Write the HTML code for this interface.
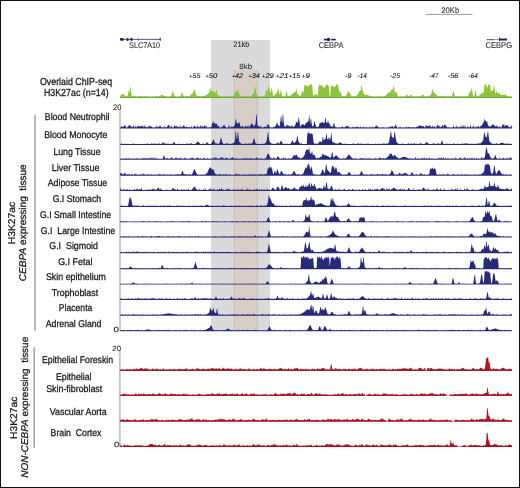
<!DOCTYPE html>
<html><head><meta charset="utf-8"><style>
html,body{margin:0;padding:0;background:#fff;}
.f{position:relative;width:518px;height:486px;border:1px solid #111;overflow:hidden;background:#fff;font-family:"Liberation Sans",sans-serif;}
.f svg{position:absolute;left:-1px;top:-1px;will-change:transform;}
</style></head><body><div class="f">
<svg width="520" height="488" viewBox="0 0 520 488">
<rect x="211" y="40" width="59" height="291" fill="#dadadd"/>
<rect x="234" y="70" width="23.6" height="261" fill="#d7cec8"/>
<line x1="234.3" y1="70" x2="234.3" y2="331" stroke="#bfb0a6" stroke-width="0.6"/>
<line x1="257.4" y1="70" x2="257.4" y2="331" stroke="#bfb0a6" stroke-width="0.6"/>
<line x1="120" y1="110.3" x2="120" y2="331.5" stroke="#aaaaaa" stroke-width="1.2"/>
<line x1="119.9" y1="351" x2="119.9" y2="447" stroke="#aaaaaa" stroke-width="1.2"/>
<line x1="35" y1="115.2" x2="35" y2="330.8" stroke="#9a9a9a" stroke-width="1.4"/>
<line x1="34.2" y1="347.3" x2="34.2" y2="447.7" stroke="#9a9a9a" stroke-width="1.4"/>
<path d="M120.2 98.0L120.2 95.5L120.7 95.3L121.2 94.7L121.7 94.3L122.2 94.3L122.7 94.7L123.2 94.2L123.7 93.9L124.2 94.1L124.7 95.5L125.2 95.6L125.7 96.4L126.2 95.9L126.7 96.4L127.2 96.1L127.7 95.6L128.2 93.0L128.7 89.6L129.2 91.2L129.7 92.3L130.2 86.5L130.7 88.0L131.2 92.9L131.7 95.8L132.2 96.1L132.7 96.4L133.2 96.3L133.7 96.3L134.2 95.8L134.7 96.1L135.2 96.4L135.7 95.6L136.2 96.4L136.7 96.4L137.2 96.1L137.7 96.4L138.2 96.3L138.7 96.4L139.2 96.2L139.7 96.0L140.2 96.3L140.7 95.8L141.2 96.4L141.7 96.1L142.2 96.3L142.7 96.3L143.2 96.4L143.7 95.9L144.2 95.7L144.7 96.4L145.2 96.2L145.7 96.4L146.2 96.1L146.7 96.2L147.2 95.6L147.7 96.0L148.2 96.4L148.7 96.4L149.2 96.2L149.7 96.4L151.7 96.4L152.2 96.0L152.7 96.4L153.7 96.4L154.2 95.9L154.7 96.4L155.2 96.4L155.7 96.3L156.2 95.8L156.7 96.0L157.2 95.9L157.7 96.4L158.7 96.4L159.2 95.8L159.7 95.7L160.2 95.9L160.7 95.5L161.2 95.0L161.7 94.9L162.2 94.7L162.7 94.8L163.2 95.3L163.7 95.7L164.2 96.1L164.7 95.8L165.2 96.0L165.7 95.8L166.2 96.0L166.7 96.4L167.7 96.4L168.2 96.2L168.7 96.4L170.2 96.4L170.7 96.3L171.2 95.8L171.7 94.6L172.2 93.1L172.7 91.4L173.2 92.3L173.7 93.8L174.2 95.2L174.7 95.6L175.2 96.4L175.7 96.3L176.2 96.4L177.7 96.4L178.2 95.9L178.7 96.4L179.2 96.4L179.7 95.7L180.2 96.3L180.7 95.7L181.2 94.2L181.7 92.4L182.2 92.7L182.7 94.1L183.2 95.4L183.7 96.0L184.2 96.4L184.7 96.4L185.2 96.0L185.7 95.6L186.2 95.9L186.7 96.0L187.2 96.0L187.7 96.1L188.2 96.3L188.7 96.2L189.2 96.0L189.7 95.9L190.2 95.5L190.7 94.9L191.2 94.4L191.7 93.8L192.2 93.7L192.7 93.3L193.2 92.3L193.7 89.9L194.2 89.0L194.7 90.4L195.2 91.1L195.7 93.5L196.2 95.1L196.7 95.4L197.2 95.7L197.7 96.0L198.2 96.2L198.7 95.7L199.2 96.1L199.7 96.4L200.7 96.4L201.2 95.8L201.7 96.0L202.2 96.3L202.7 95.9L203.2 95.6L203.7 96.0L204.2 95.9L204.7 95.9L205.2 95.5L205.7 95.2L206.2 94.9L206.7 94.8L207.2 94.4L207.7 93.8L208.2 93.4L208.7 92.6L209.2 92.5L209.7 89.7L210.2 87.7L210.7 89.2L211.2 91.7L211.7 91.4L212.2 90.7L212.7 91.2L213.2 91.3L213.7 91.6L214.2 91.7L214.7 92.3L215.2 93.0L215.7 92.3L216.2 89.4L216.7 91.1L217.2 94.2L217.7 94.9L218.2 95.2L218.7 95.4L219.2 95.7L219.7 95.7L220.2 96.0L220.7 95.7L221.2 95.9L221.7 96.3L222.2 96.3L222.7 96.4L224.2 96.4L224.7 96.2L225.2 96.0L225.7 95.8L226.2 96.4L226.7 96.1L227.2 96.2L227.7 96.4L228.2 95.8L228.7 95.6L229.2 96.4L229.7 95.7L230.2 96.4L230.7 96.3L231.2 95.6L231.7 95.9L232.2 96.3L232.7 96.1L233.2 95.9L233.7 95.6L234.2 95.1L234.7 92.3L235.2 90.8L235.7 92.3L236.2 91.9L236.7 91.5L237.2 92.2L237.7 88.3L238.2 89.9L238.7 92.7L239.2 94.4L239.7 94.8L240.2 95.4L240.7 95.9L241.2 96.1L241.7 96.3L242.2 96.4L242.7 95.7L243.2 96.2L243.7 96.0L244.2 96.4L244.7 95.9L245.2 96.4L245.7 95.9L246.2 96.4L246.7 96.4L247.2 96.3L247.7 95.7L248.2 96.4L248.7 96.4L249.2 96.3L249.7 96.4L250.2 96.3L250.7 96.1L251.2 95.9L251.7 95.5L252.2 94.9L252.7 94.2L253.2 93.5L253.7 92.9L254.2 91.5L254.7 87.3L255.2 86.7L255.7 89.0L256.2 92.9L256.7 94.6L257.2 95.2L257.7 95.7L258.2 96.1L258.7 96.2L259.2 96.4L261.2 96.4L261.7 96.1L262.2 96.4L262.7 96.3L263.2 96.2L263.7 95.9L264.2 95.7L264.7 95.2L265.2 94.7L265.7 92.8L266.2 89.9L266.7 90.7L267.2 90.8L267.7 90.5L268.2 87.3L268.7 85.5L269.2 88.3L269.7 90.9L270.2 91.9L270.7 92.6L271.2 89.9L271.7 86.9L272.2 89.7L272.7 94.1L273.2 95.9L273.7 96.1L274.2 95.8L274.7 95.2L275.2 94.6L275.7 93.8L276.2 93.3L276.7 92.7L277.2 92.6L277.7 89.3L278.2 88.5L278.7 91.6L279.2 94.2L279.7 95.1L280.2 92.4L280.7 90.0L281.2 91.9L281.7 94.2L282.2 96.0L282.7 96.2L283.2 96.4L283.7 96.1L284.2 96.4L284.7 96.4L285.2 96.1L285.7 94.8L286.2 91.7L286.7 91.9L287.2 94.1L287.7 96.0L288.2 96.2L288.7 96.2L289.2 96.1L289.7 96.0L290.2 95.8L290.7 95.6L291.2 95.1L291.7 94.6L292.2 94.2L292.7 93.8L293.2 93.0L293.7 92.5L294.2 93.0L294.7 92.1L295.2 92.5L295.7 90.9L296.2 88.0L296.7 91.0L297.2 93.4L297.7 94.0L298.2 94.5L298.7 95.1L299.2 95.4L299.7 95.8L300.2 96.0L300.7 95.4L301.2 94.2L301.7 92.9L302.2 90.9L302.7 90.7L303.2 91.8L303.7 93.8L304.2 85.6L304.7 85.1L305.2 85.3L305.7 85.8L306.2 85.3L306.7 85.6L307.2 85.4L307.7 86.4L308.2 86.0L308.7 86.7L309.2 85.3L309.7 85.0L310.2 84.4L310.7 84.2L311.2 85.3L311.7 83.6L312.2 84.8L312.7 92.7L313.2 96.1L313.7 95.6L314.2 95.6L314.7 94.9L315.2 94.3L315.7 93.9L316.2 94.0L316.7 94.5L317.2 95.4L317.7 96.0L318.2 91.0L318.7 85.9L319.2 85.0L319.7 84.6L320.2 85.4L320.7 85.5L321.2 86.3L321.7 84.2L322.2 85.8L322.7 85.8L323.2 88.1L323.7 88.6L324.2 87.5L324.7 86.7L325.2 87.5L325.7 84.7L326.2 85.1L326.7 85.5L327.2 84.4L327.7 84.0L328.2 86.2L328.7 85.1L329.2 92.3L329.7 96.1L330.2 96.2L330.7 87.2L331.2 86.4L331.7 85.9L332.2 84.9L332.7 86.3L333.2 85.4L333.7 87.2L334.2 86.8L334.7 87.2L335.2 86.2L335.7 86.3L336.2 84.3L336.7 84.3L337.2 85.9L337.7 84.0L338.2 85.7L338.7 89.0L339.2 92.8L339.7 91.1L340.2 91.5L340.7 92.6L341.2 94.1L341.7 95.4L342.2 96.1L342.7 96.3L343.2 96.4L343.7 95.6L344.2 96.4L344.7 96.0L345.2 96.3L345.7 96.0L346.2 95.5L346.7 94.5L347.2 93.4L347.7 91.7L348.2 91.4L348.7 91.2L349.2 92.0L349.7 93.3L350.2 94.1L350.7 95.3L351.2 95.6L351.7 96.2L352.2 96.4L352.7 95.7L353.2 96.1L353.7 96.4L354.2 96.2L354.7 96.3L355.2 96.2L355.7 96.0L356.2 95.9L356.7 95.5L357.2 95.1L357.7 94.5L358.2 93.4L358.7 92.8L359.2 91.9L359.7 90.6L360.2 90.7L360.7 90.0L361.2 85.1L361.7 86.0L362.2 87.9L362.7 91.1L363.2 92.2L363.7 93.6L364.2 94.1L364.7 94.8L365.2 95.4L365.7 95.1L366.2 94.8L366.7 94.9L367.2 94.7L367.7 94.7L368.2 95.2L368.7 95.5L369.2 95.7L369.7 96.0L370.2 96.1L370.7 95.9L371.2 96.0L371.7 96.2L372.2 96.4L373.2 96.4L373.7 96.0L374.2 96.4L374.7 96.4L375.2 96.1L375.7 96.4L376.7 96.4L377.2 96.3L377.7 96.4L378.2 95.6L378.7 95.8L379.2 95.6L379.7 96.4L380.7 96.4L381.2 96.3L381.7 96.1L382.2 96.4L382.7 96.4L383.2 96.3L383.7 96.2L384.2 96.1L384.7 95.9L385.2 95.8L385.7 95.4L386.2 95.0L386.7 94.6L387.2 94.1L387.7 93.2L388.2 93.1L388.7 92.1L389.2 92.4L389.7 91.8L390.2 92.4L390.7 91.7L391.2 89.9L391.7 89.8L392.2 89.8L392.7 90.1L393.2 87.6L393.7 84.9L394.2 86.7L394.7 92.5L395.2 93.0L395.7 91.6L396.2 91.6L396.7 92.6L397.2 94.7L397.7 95.9L398.2 96.2L398.7 96.4L399.7 96.4L400.2 96.0L400.7 96.3L401.2 96.4L402.2 96.4L402.7 96.3L403.2 96.2L403.7 96.4L404.2 96.4L404.7 96.1L405.2 96.3L405.7 96.0L406.2 95.4L406.7 94.8L407.2 94.6L407.7 95.2L408.2 95.8L408.7 96.2L409.2 96.3L409.7 95.8L410.2 95.4L410.7 94.8L411.2 94.9L411.7 95.2L412.2 95.8L412.7 96.2L413.2 96.4L413.7 96.3L414.2 96.4L414.7 96.4L415.2 96.3L415.7 95.7L416.2 96.4L416.7 96.3L417.2 96.0L417.7 95.6L418.2 96.4L418.7 96.4L419.2 95.7L419.7 95.6L420.2 96.3L420.7 96.3L421.2 95.7L421.7 95.6L422.2 95.0L422.7 94.6L423.2 94.7L423.7 94.9L424.2 95.6L424.7 96.0L425.2 96.3L425.7 96.4L426.7 96.4L427.2 96.1L427.7 95.8L428.2 96.3L428.7 96.2L429.2 96.0L429.7 95.7L430.2 95.3L430.7 94.8L431.2 94.3L431.7 92.1L432.2 88.4L432.7 89.7L433.2 92.5L433.7 92.2L434.2 92.7L434.7 93.1L435.2 93.8L435.7 94.4L436.2 94.8L436.7 95.2L437.2 95.6L437.7 96.0L438.2 96.1L438.7 96.3L439.2 96.4L439.7 95.7L440.2 96.4L440.7 95.9L441.2 95.6L441.7 96.1L442.2 96.0L442.7 96.4L443.2 95.6L443.7 96.3L444.2 95.7L444.7 95.8L445.2 96.4L445.7 96.0L446.2 95.7L446.7 96.4L447.2 96.4L447.7 96.1L448.2 96.4L448.7 95.8L449.2 96.4L449.7 96.0L450.2 96.4L450.7 96.3L451.2 95.7L451.7 96.3L452.2 95.5L452.7 93.5L453.2 90.9L453.7 90.6L454.2 94.0L454.7 95.8L455.2 96.3L455.7 96.2L456.2 96.4L456.7 95.9L457.2 96.3L457.7 96.3L458.2 95.8L458.7 96.4L459.2 95.6L459.7 96.2L460.2 96.4L460.7 96.0L461.2 96.4L461.7 95.6L462.2 96.3L462.7 96.4L463.2 96.0L463.7 96.4L464.2 96.4L464.7 96.1L465.2 96.4L465.7 96.0L466.2 96.4L466.7 96.2L467.2 95.6L467.7 96.0L468.2 95.6L468.7 94.8L469.2 93.3L469.7 92.1L470.2 91.6L470.7 90.9L471.2 90.1L471.7 87.4L472.2 89.8L472.7 93.8L473.2 95.9L473.7 96.3L474.2 96.0L474.7 94.4L475.2 91.5L475.7 90.1L476.2 93.7L476.7 95.9L477.2 96.2L477.7 96.3L478.2 96.2L478.7 96.0L479.2 95.5L479.7 94.8L480.2 94.3L480.7 94.0L481.2 93.6L481.7 93.9L482.2 93.0L482.7 91.9L483.2 92.2L483.7 93.6L484.2 87.1L484.7 83.7L485.2 84.2L485.7 84.1L486.2 85.7L486.7 86.6L487.2 87.8L487.7 87.5L488.2 85.0L488.7 84.1L489.2 85.4L489.7 84.9L490.2 84.7L490.7 91.7L491.2 90.6L491.7 90.5L492.2 91.1L492.7 90.6L493.2 89.8L493.7 87.4L494.2 83.9L494.7 88.9L495.2 93.9L495.7 92.5L496.2 91.3L496.7 91.4L497.2 92.7L497.7 93.0L498.2 92.6L498.7 94.2L499.2 92.7L499.7 92.4L500.2 94.2L500.7 95.3L501.2 95.1L501.7 95.0L502.2 94.8L502.7 94.7L503.7 94.7L504.2 95.1L504.7 95.1L505.2 94.1L505.7 94.2L506.2 95.1L506.7 95.9L507.2 96.0L507.7 96.1L508.2 96.2L508.7 96.3L509.2 96.4L510.2 96.4L510.7 96.1L511.2 96.4L511.7 96.4L512.2 95.6L512.0 98.0 Z" fill="#8cc43e"/>
<rect x="120.2" y="97.05" width="391.8" height="0.95" fill="#739f3a"/>
<path d="M120.2 128.5L120.2 127.5L120.7 127.3L121.2 126.2L121.7 126.5L122.2 126.4L122.7 127.3L123.2 126.0L123.7 126.9L124.2 125.9L124.7 124.5L125.2 125.7L125.7 126.2L126.2 127.4L126.7 127.5L127.2 127.4L127.7 126.9L128.2 124.6L128.7 127.2L129.2 124.7L129.7 125.2L130.2 125.3L130.7 126.5L131.2 127.1L131.7 126.2L132.2 127.0L132.7 127.5L133.2 125.7L133.7 125.1L134.2 127.5L134.7 127.3L135.2 126.8L135.7 125.2L136.2 127.5L136.7 127.1L137.2 124.5L137.7 126.9L138.2 126.5L138.7 126.1L139.2 126.8L139.7 125.9L140.2 125.7L140.7 126.6L141.2 126.2L141.7 125.9L142.2 125.3L142.7 126.8L143.2 127.5L143.7 125.7L144.2 125.1L144.7 126.5L145.2 126.2L145.7 127.2L146.2 127.2L146.7 127.0L147.2 127.5L147.7 126.7L148.2 125.5L148.7 127.3L149.2 126.3L149.7 126.1L150.2 126.0L150.7 126.6L151.2 126.8L151.7 126.3L152.2 127.0L152.7 127.4L153.2 127.5L154.2 127.5L154.7 127.2L155.2 126.5L155.7 127.5L156.2 127.4L156.7 124.9L157.2 127.4L157.7 126.5L158.2 126.9L158.7 126.7L159.2 126.6L159.7 125.7L160.2 125.2L160.7 126.5L161.2 127.1L161.7 127.4L162.2 127.5L162.7 126.8L163.2 127.5L163.7 127.5L164.2 124.8L164.7 127.4L165.2 127.1L165.7 127.3L166.2 127.4L166.7 127.2L167.2 126.4L167.7 125.4L168.2 125.1L168.7 124.9L169.2 124.4L169.7 127.4L170.2 127.5L170.7 126.5L171.2 127.5L171.7 124.2L172.2 127.4L172.7 127.5L173.2 127.5L173.7 127.3L174.2 124.9L174.7 126.1L175.2 126.0L175.7 126.6L176.2 126.9L176.7 125.6L177.2 125.8L177.7 127.4L178.2 126.7L178.7 127.3L179.2 126.4L179.7 127.5L180.2 124.5L180.7 127.5L181.2 126.9L181.7 127.4L182.2 126.0L182.7 127.2L183.2 125.3L183.7 125.4L184.2 125.6L184.7 126.4L185.2 127.1L185.7 127.4L186.2 125.7L186.7 127.1L187.2 127.5L187.7 126.9L188.2 126.8L188.7 127.5L189.2 127.0L189.7 127.0L190.2 127.5L190.7 127.5L191.2 125.5L191.7 127.0L192.2 127.5L192.7 127.4L193.2 127.3L193.7 126.5L194.2 125.5L194.7 126.0L195.2 126.0L195.7 126.7L196.2 126.9L196.7 127.5L197.2 127.0L197.7 124.6L198.2 127.5L198.7 126.2L199.2 127.0L199.7 127.5L200.2 124.7L200.7 126.4L201.2 127.4L201.7 125.3L202.2 127.5L202.7 125.8L203.2 125.7L203.7 127.5L204.2 125.1L204.7 126.1L205.2 125.1L205.7 127.5L206.2 126.4L206.7 126.1L207.2 127.4L207.7 127.5L208.2 127.5L208.7 127.2L209.2 127.1L209.7 127.5L210.2 126.8L210.7 127.4L211.2 127.0L211.7 126.0L212.2 123.3L212.7 122.5L213.2 120.8L213.7 123.0L214.2 123.6L214.7 122.6L215.2 123.5L215.7 124.0L216.2 123.9L216.7 123.3L217.2 124.9L217.7 126.5L218.2 126.2L218.7 124.9L219.2 126.5L219.7 127.5L220.2 127.4L220.7 127.5L221.2 127.5L221.7 126.7L222.2 127.1L222.7 126.3L223.2 125.1L223.7 125.7L224.2 125.8L224.7 124.5L225.2 126.6L225.7 127.0L226.2 127.3L226.7 127.4L227.2 127.5L228.2 127.5L228.7 125.2L229.2 124.8L229.7 127.5L230.7 127.5L231.2 125.6L231.7 127.3L232.2 126.7L232.7 127.0L233.2 126.7L233.7 126.2L234.2 125.8L234.7 125.0L235.2 122.4L235.7 118.6L236.2 120.0L236.7 123.1L237.2 122.9L237.7 123.5L238.2 123.4L238.7 122.3L239.2 121.7L239.7 123.5L240.2 125.7L240.7 126.8L241.2 126.9L241.7 125.7L242.2 127.3L242.7 124.8L243.2 127.4L243.7 126.6L244.2 127.0L244.7 127.3L245.2 126.6L245.7 125.3L246.2 126.6L246.7 127.2L247.2 125.5L247.7 126.3L248.2 127.4L248.7 124.4L249.2 127.4L249.7 127.1L250.2 124.6L250.7 125.5L251.2 124.8L251.7 123.4L252.2 123.5L252.7 124.0L253.2 125.2L253.7 126.4L254.2 125.1L254.7 126.0L255.2 124.8L255.7 123.0L256.2 114.3L256.7 115.3L257.2 122.1L257.7 126.1L258.2 126.1L258.7 126.3L259.2 126.6L259.7 127.3L260.2 124.6L260.7 127.5L261.2 127.3L261.7 127.3L262.2 126.5L262.7 127.5L263.2 127.5L263.7 127.3L264.2 126.8L264.7 127.1L265.2 125.4L265.7 127.3L266.2 127.2L266.7 126.6L267.2 125.6L267.7 124.4L268.2 124.1L268.7 124.7L269.2 125.7L269.7 127.1L270.2 127.3L270.7 127.5L271.2 127.4L271.7 127.2L272.2 127.4L272.7 127.4L273.2 126.5L273.7 126.7L274.2 127.5L274.7 127.0L275.2 126.1L275.7 126.0L276.2 124.5L276.7 123.5L277.2 122.5L277.7 124.1L278.2 125.8L278.7 124.9L279.2 126.4L279.7 125.9L280.2 122.5L280.7 117.3L281.2 115.3L281.7 121.6L282.2 122.4L282.7 114.4L283.2 114.0L283.7 122.3L284.2 125.6L284.7 126.5L285.2 127.0L285.7 126.5L286.2 125.7L286.7 124.8L287.2 124.7L287.7 125.5L288.2 126.5L288.7 125.3L289.2 125.9L289.7 125.6L290.2 126.3L290.7 127.0L291.2 126.5L291.7 125.5L292.2 124.9L292.7 126.4L293.2 127.1L293.7 127.0L294.2 126.6L294.7 126.0L295.2 125.1L295.7 123.7L296.2 122.3L296.7 121.8L297.2 122.2L297.7 122.7L298.2 120.2L298.7 116.6L299.2 119.3L299.7 123.6L300.2 126.5L300.7 126.4L301.2 124.3L301.7 125.5L302.2 124.5L302.7 124.1L303.2 123.7L303.7 124.8L304.2 125.5L304.7 124.9L305.2 124.4L305.7 123.5L306.2 122.9L306.7 122.3L307.2 121.6L307.7 122.5L308.2 121.6L308.7 119.8L309.2 113.9L309.7 119.6L310.2 124.0L310.7 119.3L311.2 118.5L311.7 123.5L312.2 125.9L312.7 126.6L313.2 126.2L313.7 124.9L314.2 121.8L314.7 120.9L315.2 124.9L315.7 124.4L316.2 127.2L316.7 126.7L317.2 127.1L317.7 126.9L318.2 126.8L318.7 126.5L319.2 125.0L319.7 122.4L320.2 123.2L320.7 122.8L321.2 123.2L321.7 121.6L322.2 121.6L322.7 122.6L323.2 123.5L323.7 122.3L324.2 123.0L324.7 122.8L325.2 118.2L325.7 117.4L326.2 122.6L326.7 122.6L327.2 123.5L327.7 121.2L328.2 120.2L328.7 123.6L329.2 122.7L329.7 124.4L330.2 125.6L330.7 126.0L331.2 126.5L331.7 126.0L332.2 126.8L332.7 127.0L333.2 125.6L333.7 123.2L334.2 123.1L334.7 125.3L335.2 126.8L335.7 127.4L336.2 126.8L336.7 127.5L337.2 127.4L338.2 127.4L338.7 127.3L339.2 127.2L339.7 127.2L340.2 127.5L341.2 127.5L341.7 126.3L342.2 127.3L342.7 126.2L343.2 127.5L343.7 127.2L344.2 127.4L344.7 127.3L345.2 127.1L345.7 126.6L346.2 126.2L346.7 125.9L347.2 125.6L347.7 126.3L348.2 126.6L348.7 126.6L349.2 127.3L349.7 127.4L350.2 127.2L350.7 127.4L351.2 127.2L351.7 127.5L352.2 127.5L352.7 126.6L353.2 126.8L353.7 127.5L354.2 127.5L354.7 126.8L355.2 127.1L355.7 127.4L356.2 126.8L356.7 126.9L357.2 126.8L357.7 126.6L358.2 126.9L358.7 127.5L359.2 127.2L359.7 127.5L360.2 126.6L360.7 126.8L361.2 127.3L361.7 127.4L362.2 127.2L362.7 127.5L363.2 127.1L363.7 126.4L364.2 127.5L364.7 127.5L365.2 126.9L365.7 127.5L366.2 127.5L366.7 126.9L367.2 127.3L367.7 127.5L368.2 127.4L368.7 127.5L369.2 127.4L369.7 126.2L370.2 127.5L370.7 127.5L371.2 126.6L371.7 127.4L372.2 127.2L372.7 126.7L373.2 127.5L373.7 127.5L374.2 127.3L374.7 127.1L375.2 126.8L375.7 126.1L376.2 125.8L376.7 125.6L377.2 126.0L377.7 126.7L378.2 127.0L378.7 127.2L379.2 127.4L379.7 127.4L380.2 127.5L380.7 127.5L381.2 126.9L381.7 127.5L382.2 127.5L382.7 127.3L383.2 127.5L383.7 126.7L384.2 127.5L385.2 127.5L385.7 127.4L387.2 127.4L387.7 127.5L388.2 127.5L388.7 126.7L389.2 126.8L389.7 127.0L390.2 127.4L390.7 126.4L391.2 126.9L391.7 125.9L392.2 125.8L392.7 126.5L393.2 127.0L393.7 127.4L394.2 126.9L394.7 126.3L395.2 125.2L395.7 124.2L396.2 125.6L396.7 126.8L397.2 127.4L397.7 127.5L398.7 127.5L399.2 127.3L399.7 127.3L400.2 126.3L400.7 127.4L401.2 127.5L401.7 127.5L402.2 127.3L402.7 127.5L403.2 127.5L403.7 127.4L404.2 126.9L404.7 127.5L405.7 127.5L406.2 126.4L406.7 126.9L407.2 127.4L407.7 127.5L408.2 126.4L408.7 127.3L409.2 127.1L409.7 127.2L410.2 127.3L410.7 127.4L411.2 127.0L411.7 127.5L412.2 127.5L412.7 127.1L413.2 127.3L413.7 127.2L414.2 127.1L414.7 127.5L415.7 127.5L416.2 126.7L416.7 126.8L417.2 127.0L417.7 126.8L418.2 126.0L418.7 126.0L419.2 125.4L419.7 125.5L420.2 125.2L420.7 125.7L421.2 126.1L421.7 126.2L422.2 126.6L422.7 125.7L423.2 126.2L423.7 126.1L424.2 127.0L424.7 127.5L425.2 127.2L425.7 124.7L426.2 126.9L426.7 124.6L427.2 126.1L427.7 126.0L428.2 125.9L428.7 126.3L429.2 126.6L429.7 124.2L430.2 126.3L430.7 126.5L431.2 126.2L431.7 127.5L432.2 126.9L432.7 125.1L433.2 126.7L433.7 127.4L434.2 126.4L434.7 125.4L435.2 127.3L435.7 127.5L436.2 127.3L436.7 126.4L437.2 124.7L437.7 125.1L438.2 126.0L438.7 125.4L439.2 125.0L439.7 127.5L440.2 126.4L440.7 127.5L441.2 126.7L441.7 126.2L442.2 124.9L442.7 125.1L443.2 126.7L443.7 126.2L444.2 124.2L444.7 124.9L445.2 124.3L445.7 125.4L446.2 126.1L446.7 126.7L447.2 127.2L447.7 127.4L448.2 127.3L448.7 127.3L449.2 127.5L449.7 127.1L450.2 127.5L450.7 127.4L451.2 127.5L451.7 127.4L452.2 127.5L452.7 127.1L453.2 127.0L453.7 124.8L454.2 127.4L454.7 127.5L455.2 127.4L455.7 126.4L456.2 127.5L456.7 124.7L457.2 127.5L457.7 126.8L458.2 127.5L458.7 127.0L459.2 126.2L459.7 127.2L460.2 127.5L460.7 127.0L461.2 124.3L461.7 127.5L462.2 126.3L462.7 127.1L463.2 124.3L463.7 127.5L464.2 125.6L464.7 127.5L465.2 124.8L465.7 127.5L466.2 127.4L466.7 127.5L467.2 127.5L467.7 125.4L468.2 127.5L468.7 127.0L469.2 126.9L469.7 127.5L470.2 126.2L470.7 124.6L471.2 127.2L471.7 127.5L472.2 127.5L472.7 127.0L473.2 124.6L473.7 126.3L474.2 127.5L474.7 127.5L475.2 126.4L475.7 127.2L476.2 127.4L476.7 125.9L477.2 127.4L477.7 126.2L478.2 126.2L478.7 126.1L479.2 127.4L479.7 127.2L480.2 125.3L480.7 126.8L481.2 126.2L481.7 125.3L482.2 124.7L482.7 123.5L483.2 122.9L483.7 122.0L484.2 120.9L484.7 118.3L485.2 120.6L485.7 121.1L486.2 121.1L486.7 122.4L487.2 121.5L487.7 124.1L488.2 125.6L488.7 126.1L489.2 126.0L489.7 127.0L490.2 126.9L490.7 125.4L491.2 126.1L491.7 125.4L492.2 125.1L492.7 124.3L493.2 124.4L493.7 124.7L494.2 125.1L494.7 125.9L495.2 126.5L495.7 126.6L496.2 125.2L496.7 126.0L497.2 127.4L497.7 125.3L498.2 127.4L498.7 126.4L499.2 127.5L499.7 125.9L500.2 126.3L500.7 127.4L501.2 127.4L501.7 127.1L502.2 125.7L502.7 124.0L503.2 124.3L503.7 125.3L504.2 124.3L504.7 127.3L505.2 124.3L505.7 126.3L506.2 125.5L506.7 125.1L507.2 124.9L507.7 125.4L508.2 126.2L508.7 126.8L509.2 127.2L509.7 127.4L510.2 125.9L510.7 127.5L511.2 127.5L511.7 124.2L512.2 127.5L512.0 128.5 Z" fill="#29297a"/>
<path d="M120.2 145.0L120.2 143.9L120.7 144.0L121.2 143.3L121.7 143.4L122.2 143.9L122.7 143.8L123.2 144.0L124.2 144.0L124.7 143.8L125.2 144.0L125.7 143.3L126.2 144.0L127.2 144.0L127.7 143.7L128.2 144.0L128.7 143.9L129.2 144.0L129.7 143.8L130.2 144.0L132.2 144.0L132.7 143.6L133.2 143.8L133.7 143.8L134.2 143.5L134.7 144.0L136.2 144.0L136.7 143.8L137.2 144.0L137.7 143.9L138.2 143.9L138.7 144.0L139.2 144.0L139.7 143.8L140.2 144.0L140.7 143.9L141.2 144.0L143.2 144.0L143.7 143.8L144.2 143.7L144.7 144.0L145.2 143.8L145.7 143.9L146.2 143.9L146.7 143.5L147.2 144.0L147.7 143.5L148.2 143.8L148.7 143.8L149.2 144.0L150.7 144.0L151.2 143.3L151.7 143.5L152.2 143.6L152.7 144.0L153.2 143.8L153.7 143.7L154.2 143.6L154.7 143.6L155.2 144.0L155.7 144.0L156.2 143.6L156.7 143.7L157.2 143.5L157.7 144.0L158.2 143.5L158.7 144.0L159.2 143.3L159.7 143.5L160.2 144.0L160.7 144.0L161.2 143.9L161.7 143.7L162.2 143.4L162.7 142.3L163.2 142.1L163.7 143.2L164.2 143.7L164.7 143.1L165.2 143.3L165.7 144.0L166.2 144.0L166.7 143.8L167.2 143.3L167.7 144.0L168.2 143.8L168.7 143.4L169.2 143.9L169.7 143.9L170.2 143.5L170.7 144.0L171.2 144.0L171.7 143.8L172.2 143.9L172.7 143.7L173.2 143.0L173.7 142.0L174.2 142.0L174.7 143.0L175.2 143.6L175.7 143.9L176.2 144.0L177.2 144.0L177.7 143.9L178.2 143.8L178.7 143.7L179.2 143.7L179.7 144.0L180.2 143.8L180.7 143.9L181.2 144.0L181.7 143.9L182.2 144.0L182.7 143.7L183.2 143.7L183.7 144.0L184.2 143.9L184.7 143.9L185.2 144.0L186.2 144.0L186.7 143.0L187.2 143.7L187.7 143.9L188.2 143.8L188.7 144.0L189.2 143.7L189.7 143.2L190.2 143.6L190.7 143.9L191.2 143.1L191.7 143.2L192.2 144.0L192.7 144.0L193.2 143.9L193.7 144.0L194.2 143.8L194.7 144.0L195.2 143.6L195.7 143.4L196.2 143.4L196.7 142.8L197.2 141.8L197.7 141.6L198.2 141.7L198.7 142.0L199.2 142.8L199.7 143.3L200.2 143.7L200.7 143.9L201.2 144.0L201.7 144.0L202.2 143.7L202.7 143.8L203.2 143.8L203.7 143.3L204.2 143.9L204.7 144.0L205.2 144.0L205.7 143.8L206.2 143.2L206.7 142.6L207.2 142.1L207.7 143.0L208.2 143.3L208.7 143.9L209.2 143.9L209.7 144.0L210.2 144.0L210.7 143.9L211.2 143.6L211.7 143.0L212.2 141.8L212.7 141.1L213.2 140.1L213.7 139.1L214.2 140.8L214.7 141.9L215.2 143.0L215.7 143.4L216.2 143.3L216.7 143.6L217.2 143.2L217.7 144.0L218.2 144.0L218.7 143.9L219.2 143.3L219.7 142.5L220.2 140.4L220.7 137.8L221.2 137.8L221.7 139.6L222.2 142.0L222.7 143.2L223.2 143.8L224.7 143.8L225.2 143.7L225.7 144.0L226.2 143.6L226.7 143.2L227.2 143.8L227.7 143.1L228.2 143.4L228.7 144.0L229.2 143.8L229.7 144.0L230.2 143.8L230.7 144.0L231.2 143.4L231.7 143.9L232.2 143.2L232.7 143.6L233.2 143.5L233.7 142.8L234.2 142.2L234.7 141.4L235.2 135.9L235.7 130.3L236.2 133.6L236.7 139.0L237.2 138.8L237.7 132.3L238.2 131.7L238.7 137.8L239.2 141.8L239.7 142.3L240.2 142.8L240.7 143.2L241.2 143.6L241.7 143.8L242.2 143.9L242.7 144.0L243.2 144.0L243.7 143.6L244.2 144.0L244.7 143.9L245.2 143.3L245.7 143.9L246.2 143.5L246.7 143.5L247.2 144.0L247.7 144.0L248.2 143.6L248.7 143.4L249.2 143.4L249.7 143.7L250.2 143.9L250.7 143.1L251.2 143.7L251.7 143.6L252.2 143.3L252.7 142.3L253.2 140.6L253.7 138.4L254.2 138.6L254.7 139.4L255.2 142.0L255.7 143.4L256.2 143.8L256.7 143.9L257.2 143.5L257.7 144.0L258.2 144.0L258.7 143.9L259.2 144.0L260.7 144.0L261.2 143.6L261.7 144.0L262.2 143.5L262.7 144.0L263.2 144.0L263.7 143.8L264.2 143.8L264.7 143.5L265.2 143.2L265.7 142.7L266.2 141.6L266.7 140.6L267.2 137.0L267.7 133.3L268.2 131.6L268.7 136.3L269.2 141.0L269.7 141.3L270.2 142.3L270.7 143.2L271.2 143.5L271.7 143.3L272.2 143.4L272.7 144.0L273.2 143.9L273.7 143.2L274.2 144.0L275.2 144.0L275.7 143.7L276.2 143.4L276.7 143.4L277.2 142.6L277.7 142.4L278.2 143.1L278.7 143.7L279.2 143.7L279.7 142.9L280.2 141.6L280.7 141.0L281.2 140.7L281.7 141.8L282.2 142.7L282.7 143.5L283.2 143.9L283.7 144.0L284.2 143.5L284.7 144.0L285.2 143.9L285.7 143.6L286.2 143.8L286.7 144.0L287.2 143.4L287.7 144.0L288.2 144.0L288.7 143.9L289.2 143.7L289.7 144.0L290.2 143.8L290.7 143.7L291.2 143.1L291.7 141.5L292.2 140.5L292.7 140.8L293.2 141.8L293.7 142.9L294.2 143.1L294.7 142.8L295.2 142.1L295.7 141.4L296.2 141.2L296.7 138.7L297.2 134.9L297.7 136.9L298.2 140.7L298.7 141.8L299.2 142.8L299.7 143.3L300.2 143.6L300.7 143.8L301.2 143.1L301.7 143.4L302.2 144.0L302.7 143.9L303.2 144.0L304.2 144.0L304.7 143.7L305.2 143.9L305.7 144.0L306.2 143.9L306.7 144.0L307.2 135.5L307.7 132.8L308.2 133.0L308.7 132.2L309.2 132.3L309.7 133.9L310.2 134.0L310.7 133.7L311.2 133.6L311.7 133.2L312.2 134.1L312.7 134.3L313.2 138.8L313.7 142.9L314.2 143.1L314.7 143.9L315.2 143.6L315.7 143.7L316.2 143.8L316.7 143.7L317.2 143.7L317.7 143.5L318.2 143.5L318.7 142.8L319.2 142.3L319.7 141.4L320.2 141.1L320.7 142.1L321.2 142.3L321.7 141.8L322.2 140.8L322.7 137.3L323.2 136.9L323.7 140.3L324.2 139.9L324.7 139.1L325.2 139.6L325.7 138.3L326.2 134.7L326.7 133.0L327.2 139.4L327.7 138.5L328.2 139.7L328.7 137.3L329.2 137.3L329.7 139.6L330.2 140.1L330.7 137.0L331.2 131.8L331.7 135.5L332.2 141.3L332.7 141.9L333.2 142.1L333.7 142.5L334.2 143.0L334.7 143.0L335.2 143.1L335.7 143.5L336.2 143.4L336.7 143.6L337.2 143.7L337.7 143.5L338.2 143.6L338.7 143.2L339.2 142.7L339.7 142.2L340.2 142.4L340.7 142.7L341.2 143.1L341.7 143.2L342.2 143.8L342.7 143.9L343.2 143.8L343.7 144.0L344.2 143.7L344.7 143.8L345.2 143.9L345.7 143.6L346.2 144.0L346.7 143.7L347.2 144.0L347.7 143.9L348.7 143.9L349.2 144.0L349.7 143.9L350.2 144.0L352.2 144.0L352.7 143.8L353.2 143.4L353.7 143.3L354.2 144.0L355.2 144.0L355.7 143.9L356.2 143.8L356.7 143.9L357.2 143.9L357.7 143.2L358.2 143.3L358.7 143.6L359.2 144.0L359.7 143.7L360.2 144.0L360.7 143.3L361.2 143.8L361.7 143.4L362.2 144.0L362.7 143.8L363.2 144.0L363.7 143.4L364.2 144.0L365.2 144.0L365.7 143.8L366.2 143.9L366.7 143.6L367.2 143.8L367.7 143.7L368.2 143.3L368.7 144.0L370.2 144.0L370.7 143.9L371.2 143.7L371.7 144.0L372.2 143.9L372.7 144.0L374.2 144.0L374.7 143.8L375.2 143.3L375.7 144.0L376.2 143.9L376.7 143.9L377.2 143.8L377.7 144.0L378.2 143.3L378.7 144.0L379.2 143.9L379.7 144.0L380.2 143.9L380.7 143.5L381.2 143.9L381.7 144.0L382.2 143.3L382.7 144.0L383.2 143.3L383.7 143.8L384.2 144.0L384.7 143.2L385.2 143.4L385.7 143.9L386.2 143.5L386.7 143.8L387.2 143.7L387.7 143.5L388.2 143.2L388.7 142.9L389.2 141.2L389.7 137.5L390.2 135.4L390.7 131.2L391.2 131.9L391.7 136.5L392.2 136.9L392.7 137.4L393.2 137.8L393.7 138.2L394.2 133.4L394.7 131.2L395.2 134.5L395.7 137.8L396.2 140.8L396.7 142.2L397.2 142.8L397.7 143.2L398.2 143.6L398.7 143.7L399.2 143.8L399.7 143.9L400.2 144.0L400.7 143.9L401.2 143.6L401.7 143.8L402.2 143.7L402.7 144.0L403.2 143.2L403.7 144.0L404.7 144.0L405.2 143.9L405.7 144.0L406.7 144.0L407.2 143.6L407.7 144.0L408.2 143.8L408.7 143.1L409.2 144.0L409.7 143.8L410.2 143.4L410.7 143.9L411.2 143.3L411.7 144.0L412.2 143.9L412.7 143.6L413.2 143.9L413.7 143.5L414.2 143.1L414.7 143.5L415.2 143.9L415.7 143.7L416.2 143.4L416.7 143.8L417.2 144.0L417.7 144.0L418.2 143.8L418.7 144.0L419.2 144.0L419.7 143.1L420.2 143.9L420.7 143.0L421.2 143.5L421.7 143.6L422.2 144.0L423.7 144.0L424.2 143.9L424.7 143.7L425.2 143.4L425.7 142.8L426.2 142.3L426.7 142.0L427.2 142.5L427.7 143.0L428.2 143.3L428.7 143.7L429.2 143.9L429.7 144.0L430.2 143.8L430.7 143.9L431.2 144.0L431.7 144.0L432.2 143.5L432.7 143.8L433.2 144.0L433.7 143.1L434.2 143.1L434.7 144.0L435.2 144.0L435.7 143.8L436.2 144.0L436.7 144.0L437.2 143.5L437.7 143.3L438.2 143.9L438.7 143.1L439.2 143.9L439.7 143.8L440.2 143.9L440.7 143.6L441.2 142.7L441.7 140.5L442.2 140.3L442.7 142.5L443.2 143.6L443.7 144.0L445.7 144.0L446.2 143.8L446.7 143.3L447.2 144.0L447.7 143.7L448.2 144.0L448.7 144.0L449.2 143.2L449.7 144.0L450.2 143.9L450.7 144.0L452.2 144.0L452.7 143.9L453.2 143.1L453.7 143.8L454.2 143.9L454.7 143.5L455.2 143.9L455.7 143.7L456.2 143.9L456.7 143.6L457.2 144.0L457.7 144.0L458.2 143.7L458.7 143.7L459.2 144.0L459.7 144.0L460.2 143.8L460.7 144.0L461.2 144.0L461.7 143.5L462.7 143.5L463.2 144.0L463.7 143.7L464.2 144.0L464.7 143.1L465.2 143.6L465.7 143.6L466.2 143.4L466.7 143.5L467.2 143.6L467.7 143.2L468.2 144.0L468.7 144.0L469.2 143.7L469.7 144.0L470.2 143.5L470.7 144.0L471.2 143.6L471.7 144.0L472.2 143.9L472.7 143.7L473.2 143.7L473.7 144.0L474.2 144.0L474.7 143.4L475.2 143.6L475.7 143.9L476.2 144.0L476.7 143.7L477.2 143.6L477.7 143.8L478.2 143.1L478.7 143.8L479.2 143.5L479.7 143.6L480.2 143.4L480.7 143.0L481.2 142.7L481.7 142.4L482.2 141.4L482.7 141.3L483.2 140.2L483.7 135.7L484.2 133.4L484.7 131.8L485.2 135.1L485.7 137.1L486.2 137.2L486.7 137.7L487.2 134.4L487.7 131.4L488.2 131.7L488.7 136.4L489.2 139.9L489.7 141.7L490.2 142.3L490.7 142.8L491.2 143.1L491.7 143.4L492.2 143.6L492.7 143.7L493.2 143.8L493.7 143.9L494.2 144.0L494.7 143.4L495.2 143.7L495.7 143.9L496.2 143.0L496.7 143.2L497.2 143.7L497.7 144.0L498.2 143.9L498.7 143.9L499.2 143.7L499.7 143.5L500.2 143.3L500.7 143.2L501.2 143.0L501.7 142.8L502.2 142.8L502.7 142.7L503.2 143.1L503.7 143.2L504.2 143.5L504.7 143.7L505.2 143.8L505.7 143.4L506.2 143.5L506.7 143.5L507.2 144.0L507.7 143.7L508.2 143.5L508.7 143.3L509.2 143.7L509.7 144.0L510.7 144.0L511.2 143.5L511.7 144.0L512.2 144.0L512.0 145.0 Z" fill="#29297a"/>
<path d="M120.2 159.8L120.2 158.8L120.7 158.5L121.2 158.8L121.7 158.3L122.2 158.5L122.7 158.7L123.2 158.5L123.7 158.6L124.2 158.8L124.7 158.6L125.2 158.5L125.7 158.6L126.2 157.7L126.7 158.2L127.2 158.7L127.7 158.8L128.2 158.8L128.7 157.9L129.2 158.3L129.7 158.5L130.2 158.7L130.7 158.6L131.2 158.8L131.7 158.6L132.2 158.8L132.7 158.5L133.2 158.4L133.7 158.4L134.2 158.8L135.2 158.8L135.7 158.3L136.2 158.6L136.7 158.1L137.2 158.7L137.7 158.7L138.2 157.5L138.7 158.8L139.2 158.8L139.7 158.5L140.2 158.4L140.7 158.7L141.2 158.6L141.7 158.7L142.2 158.4L142.7 157.6L143.2 157.9L143.7 158.4L144.2 158.7L144.7 157.3L145.2 158.7L145.7 158.5L146.2 157.7L146.7 158.3L147.2 158.7L147.7 158.2L148.2 158.5L148.7 157.5L149.2 158.5L149.7 158.6L150.2 157.2L150.7 158.6L151.2 158.7L151.7 157.4L152.2 157.3L152.7 158.8L153.2 158.8L153.7 157.7L154.2 157.6L154.7 158.7L155.2 158.8L155.7 158.3L156.2 157.3L156.7 158.8L157.2 158.7L157.7 158.4L158.2 158.8L158.7 158.7L159.2 158.8L159.7 158.7L160.2 158.8L160.7 158.8L161.2 158.7L161.7 158.8L162.2 158.8L162.7 158.5L163.2 157.5L163.7 155.5L164.2 155.4L164.7 156.9L165.2 158.4L165.7 158.7L166.2 158.0L166.7 157.9L167.2 158.7L167.7 157.8L168.2 158.4L168.7 158.8L169.7 158.8L170.2 158.0L170.7 158.7L171.2 157.8L171.7 157.2L172.2 157.5L172.7 158.7L173.2 158.8L174.2 158.8L174.7 158.4L175.2 158.3L175.7 157.4L176.2 158.3L176.7 157.2L177.2 158.4L177.7 158.7L178.2 157.8L178.7 158.8L179.2 158.1L179.7 158.2L180.2 157.7L180.7 158.8L181.2 158.8L181.7 157.3L182.2 158.8L182.7 158.7L183.2 158.5L183.7 158.7L184.2 157.7L184.7 157.3L185.2 158.8L185.7 158.8L186.2 157.5L186.7 158.7L187.2 158.8L188.2 158.8L188.7 158.5L189.2 158.8L189.7 158.6L190.2 157.4L190.7 158.7L191.2 157.3L191.7 158.8L192.2 158.1L192.7 158.1L193.2 157.2L193.7 158.8L194.2 158.6L194.7 158.6L195.2 158.5L195.7 158.7L196.2 158.8L196.7 157.5L197.2 157.7L197.7 158.3L198.2 157.2L198.7 158.6L199.2 158.8L199.7 158.3L200.2 158.8L200.7 158.1L201.2 158.4L201.7 158.8L203.2 158.8L203.7 157.1L204.2 158.8L204.7 157.6L205.2 158.8L205.7 158.8L206.2 158.7L206.7 158.8L207.2 157.2L207.7 158.8L208.2 158.7L208.7 158.8L209.2 158.8L209.7 158.3L210.2 158.8L210.7 158.7L211.2 158.3L211.7 158.8L212.2 158.8L212.7 158.3L213.2 157.0L213.7 158.8L214.2 158.7L214.7 157.0L215.2 157.9L215.7 157.1L216.2 158.6L216.7 157.2L217.2 158.8L217.7 158.7L218.2 157.8L218.7 158.7L219.2 158.7L219.7 158.6L220.2 157.9L220.7 157.2L221.2 156.7L221.7 157.7L222.2 158.3L222.7 157.5L223.2 157.8L223.7 158.4L224.2 158.8L224.7 158.8L225.2 157.7L225.7 157.7L226.2 157.6L226.7 158.8L227.2 158.2L227.7 157.4L228.2 158.8L229.7 158.8L230.2 158.3L230.7 157.9L231.2 157.9L231.7 158.3L232.2 157.1L232.7 157.2L233.2 158.7L233.7 157.4L234.2 158.2L234.7 158.8L235.2 158.5L235.7 158.8L236.2 158.7L236.7 157.9L237.2 158.8L237.7 158.6L238.2 158.7L238.7 158.8L239.2 158.8L239.7 158.6L240.2 158.8L240.7 158.8L241.2 158.7L241.7 158.3L242.2 158.8L242.7 158.0L243.2 158.8L243.7 158.7L244.2 158.7L244.7 157.7L245.2 157.6L245.7 158.2L246.2 158.8L246.7 158.8L247.2 157.9L247.7 158.6L248.2 158.4L248.7 158.2L249.2 158.8L249.7 158.7L250.2 157.3L250.7 158.8L251.2 157.8L251.7 158.8L252.2 158.8L252.7 158.6L253.2 158.8L253.7 158.5L254.2 158.1L254.7 158.8L255.2 158.6L255.7 158.7L256.2 157.5L256.7 157.8L257.2 157.6L257.7 158.2L258.2 158.8L258.7 158.5L259.2 158.6L259.7 158.7L260.2 158.8L260.7 158.4L261.2 157.6L261.7 158.8L262.7 158.8L263.2 158.7L263.7 158.7L264.2 158.8L264.7 158.4L265.2 158.7L265.7 158.0L266.2 157.6L266.7 156.7L267.2 154.4L267.7 154.0L268.2 153.2L268.7 154.2L269.2 155.0L269.7 156.3L270.2 158.1L270.7 158.1L271.2 157.3L271.7 158.8L272.2 158.8L272.7 158.1L273.2 158.7L273.7 157.1L274.2 157.8L274.7 158.6L275.2 158.8L275.7 158.5L276.2 158.5L276.7 158.0L277.2 157.0L277.7 156.6L278.2 156.5L278.7 156.8L279.2 158.0L279.7 158.3L280.2 158.7L280.7 158.7L281.2 158.1L281.7 158.8L282.2 158.8L282.7 158.6L283.2 157.7L283.7 157.2L284.2 158.8L284.7 158.2L285.2 158.8L285.7 157.2L286.2 158.7L286.7 158.8L287.2 158.8L287.7 158.6L288.2 158.8L288.7 158.1L289.2 158.8L289.7 158.2L290.2 158.7L290.7 158.5L291.2 158.4L291.7 158.0L292.2 157.7L292.7 157.0L293.2 156.4L293.7 155.5L294.2 155.0L294.7 154.9L295.2 155.5L295.7 155.4L296.2 155.6L296.7 154.0L297.2 155.4L297.7 157.3L298.2 157.3L298.7 157.6L299.2 157.8L299.7 157.1L300.2 158.7L300.7 158.6L301.2 158.1L301.7 157.4L302.2 158.1L302.7 157.6L303.2 157.3L303.7 156.2L304.2 155.4L304.7 154.7L305.2 153.1L305.7 151.1L306.2 149.5L306.7 150.1L307.2 149.3L307.7 149.8L308.2 150.5L308.7 149.0L309.2 147.2L309.7 152.1L310.2 153.0L310.7 153.9L311.2 154.1L311.7 151.5L312.2 150.9L312.7 154.8L313.2 155.2L313.7 154.6L314.2 154.1L314.7 155.7L315.2 156.4L315.7 157.7L316.2 158.3L316.7 158.4L317.2 157.4L317.7 158.3L318.2 158.2L318.7 158.1L319.2 157.8L319.7 157.5L320.2 157.0L320.7 157.0L321.2 156.5L321.7 156.4L322.2 155.0L322.7 153.1L323.2 154.3L323.7 154.6L324.2 155.0L324.7 155.4L325.2 154.9L325.7 155.5L326.2 155.8L326.7 155.2L327.2 156.0L327.7 156.2L328.2 156.4L328.7 156.8L329.2 156.9L329.7 157.4L330.2 157.5L330.7 157.8L331.2 156.8L331.7 153.5L332.2 151.4L332.7 153.8L333.2 157.1L333.7 157.7L334.2 157.2L334.7 156.6L335.2 155.9L335.7 155.2L336.2 155.5L336.7 155.6L337.2 156.3L337.7 156.6L338.2 157.6L338.7 158.0L339.2 157.7L339.7 158.6L340.2 158.4L340.7 158.6L341.2 158.5L341.7 158.7L342.2 158.8L342.7 158.8L343.2 158.7L343.7 157.0L344.2 158.6L345.2 158.6L345.7 158.1L346.2 158.0L346.7 157.4L347.2 156.6L347.7 156.0L348.2 154.6L348.7 154.3L349.2 155.0L349.7 155.2L350.2 156.0L350.7 156.3L351.2 157.3L351.7 157.5L352.2 158.3L352.7 158.1L353.2 158.7L353.7 158.5L354.2 158.4L354.7 158.8L355.2 157.9L355.7 158.2L356.2 158.8L356.7 158.7L357.2 158.8L357.7 158.7L358.2 158.8L359.2 158.8L359.7 158.2L360.2 158.8L360.7 157.2L361.2 158.8L361.7 157.9L362.2 158.8L362.7 157.7L363.2 158.6L363.7 157.8L364.2 158.7L364.7 158.8L365.2 157.6L365.7 158.8L366.7 158.8L367.2 158.6L367.7 158.1L368.2 158.8L368.7 158.5L369.2 157.8L369.7 158.8L370.2 158.1L370.7 158.8L371.2 158.8L371.7 158.6L372.2 158.7L372.7 158.7L373.2 158.4L373.7 158.8L374.2 158.5L374.7 158.8L375.2 157.3L375.7 158.7L376.2 158.8L376.7 158.6L377.2 158.7L377.7 158.8L378.2 158.1L378.7 158.7L379.2 157.8L379.7 158.1L380.2 157.9L380.7 157.3L381.2 158.8L381.7 158.6L382.2 158.5L382.7 158.5L383.2 158.2L383.7 158.1L384.2 158.4L384.7 158.5L385.2 158.4L385.7 158.2L386.2 157.9L386.7 157.7L387.2 157.4L387.7 156.8L388.2 156.5L388.7 155.8L389.2 155.8L389.7 153.4L390.2 152.7L390.7 154.6L391.2 154.0L391.7 153.6L392.2 155.0L392.7 155.8L393.2 156.7L393.7 155.7L394.2 154.6L394.7 155.1L395.2 155.6L395.7 156.1L396.2 156.5L396.7 157.1L397.2 157.2L397.7 157.9L398.2 158.0L398.7 158.3L399.2 158.4L399.7 158.3L400.2 158.2L400.7 157.9L401.2 157.8L401.7 157.4L402.2 157.4L402.7 156.8L403.2 156.7L403.7 157.0L404.2 156.7L404.7 157.1L405.2 157.2L405.7 157.3L406.2 157.3L406.7 157.4L407.2 158.0L407.7 158.0L408.2 158.1L408.7 158.4L409.2 158.5L409.7 158.6L410.2 158.3L410.7 157.9L411.2 158.8L411.7 158.7L412.2 158.8L412.7 157.7L413.2 158.8L413.7 158.8L414.2 158.7L414.7 158.8L415.2 157.1L415.7 157.4L416.2 158.6L416.7 158.7L417.2 158.7L417.7 157.4L418.2 158.8L418.7 158.8L419.2 158.3L419.7 158.8L420.2 158.6L420.7 158.8L421.2 158.7L421.7 157.4L422.2 158.3L422.7 158.5L423.2 157.8L423.7 158.8L424.2 158.3L424.7 157.2L425.2 158.7L425.7 158.8L426.2 158.5L426.7 157.5L427.2 158.8L427.7 158.8L428.2 158.3L428.7 158.6L429.2 157.1L429.7 158.6L430.2 158.7L430.7 158.8L431.2 158.7L431.7 158.0L432.2 158.1L432.7 158.7L433.2 158.7L433.7 158.5L434.2 158.8L434.7 158.7L435.2 158.8L435.7 158.8L436.2 158.3L436.7 158.8L437.2 158.8L437.7 158.5L438.2 157.7L438.7 158.4L439.2 157.3L439.7 158.8L440.2 158.0L440.7 158.2L441.2 158.3L441.7 157.2L442.2 158.8L442.7 158.8L443.2 157.3L443.7 157.6L444.2 158.8L444.7 158.7L445.2 157.7L445.7 158.5L446.2 158.8L446.7 158.8L447.2 157.8L447.7 158.8L448.2 158.8L448.7 157.9L449.2 158.8L449.7 158.5L450.2 158.8L450.7 158.8L451.2 158.6L451.7 158.0L452.2 158.7L452.7 158.8L453.2 158.3L453.7 158.2L454.2 158.8L454.7 158.4L455.2 158.6L455.7 157.1L456.2 158.5L456.7 158.5L457.2 158.8L457.7 158.7L458.2 158.8L458.7 158.8L459.2 158.6L459.7 157.8L460.2 157.2L460.7 157.8L461.2 158.6L461.7 158.7L462.2 158.3L462.7 158.8L463.2 158.8L463.7 158.2L464.2 157.3L464.7 157.6L465.2 158.4L465.7 158.0L466.2 158.8L466.7 158.8L467.2 157.7L467.7 158.6L468.2 158.8L468.7 158.4L469.2 158.2L469.7 157.6L470.2 158.8L470.7 158.8L471.2 158.6L471.7 157.8L472.2 157.1L472.7 158.8L473.2 158.8L473.7 158.7L474.2 157.4L474.7 158.4L475.2 158.8L475.7 158.5L476.2 158.8L476.7 157.7L477.2 158.7L477.7 158.6L478.2 158.0L478.7 158.6L479.2 158.8L480.2 158.8L480.7 158.7L481.2 157.1L481.7 158.1L482.2 157.2L482.7 158.8L483.2 158.3L483.7 158.0L484.2 158.3L484.7 156.9L485.2 155.0L485.7 150.2L486.2 146.5L486.7 148.5L487.2 149.9L487.7 153.3L488.2 153.3L488.7 152.9L489.2 153.9L489.7 155.6L490.2 156.5L490.7 157.3L491.2 158.2L491.7 158.5L492.2 158.3L492.7 158.7L493.2 157.7L493.7 158.5L494.2 157.9L494.7 156.4L495.2 154.6L495.7 155.7L496.2 157.4L496.7 158.5L497.2 158.6L497.7 158.8L498.2 158.7L498.7 158.8L499.2 158.7L499.7 157.0L500.2 158.8L500.7 158.8L501.2 158.7L501.7 158.7L502.2 158.8L502.7 157.7L503.2 158.0L503.7 157.9L504.2 158.4L504.7 158.6L505.2 158.6L505.7 158.8L506.2 158.8L506.7 157.2L507.2 157.6L507.7 158.8L508.2 158.6L508.7 158.8L509.2 157.9L509.7 157.5L510.2 157.1L510.7 158.8L511.2 157.2L511.7 158.8L512.2 158.1L512.0 159.8 Z" fill="#29297a"/>
<path d="M120.2 175.7L120.2 173.6L120.7 172.7L121.2 172.9L121.7 173.7L122.2 174.3L122.7 173.9L123.2 174.0L123.7 174.3L124.2 173.4L124.7 172.5L125.2 172.9L125.7 174.0L126.2 174.6L126.7 174.6L127.2 174.3L127.7 174.3L128.2 174.6L128.7 174.2L129.2 174.5L129.7 174.1L130.2 174.7L130.7 174.7L131.2 174.5L131.7 173.7L132.2 174.5L132.7 174.6L133.2 174.7L134.2 174.7L134.7 173.6L135.2 173.9L135.7 173.9L136.2 174.6L136.7 174.3L137.2 174.7L137.7 174.6L138.2 174.7L138.7 174.6L139.2 174.7L139.7 174.7L140.2 173.8L140.7 174.7L141.2 174.1L141.7 174.4L142.2 174.7L142.7 174.6L143.2 173.5L143.7 173.6L144.2 174.5L144.7 174.2L145.2 174.3L145.7 174.7L146.2 174.6L146.7 174.5L147.2 174.7L147.7 174.1L148.2 174.6L148.7 174.3L149.2 174.7L149.7 174.6L150.2 174.7L150.7 174.4L151.2 174.0L151.7 174.6L152.2 174.5L152.7 174.5L153.2 174.7L153.7 174.7L154.2 174.5L154.7 174.4L155.2 174.7L155.7 174.6L156.2 174.7L156.7 174.5L157.2 174.4L157.7 174.7L158.2 174.4L158.7 174.0L159.2 174.6L159.7 173.6L160.2 174.7L160.7 173.8L161.2 174.7L161.7 174.7L162.2 174.1L162.7 174.7L163.2 174.5L163.7 174.0L164.2 173.7L164.7 174.4L165.2 174.7L165.7 174.7L166.2 174.5L166.7 174.7L167.2 174.7L167.7 173.9L168.2 174.5L168.7 174.7L169.2 174.6L169.7 174.7L170.2 174.0L170.7 174.7L171.2 174.3L171.7 174.3L172.2 174.7L172.7 174.7L173.2 174.6L173.7 174.7L174.2 174.5L174.7 174.7L175.2 174.2L175.7 174.6L176.2 174.7L176.7 174.2L177.2 173.9L177.7 174.4L178.2 174.6L178.7 174.0L179.2 173.8L179.7 174.7L180.2 174.6L180.7 174.5L181.2 174.0L181.7 172.6L182.2 171.5L182.7 170.6L183.2 172.3L183.7 173.9L184.2 173.8L184.7 174.6L185.2 174.0L185.7 174.2L186.2 174.3L186.7 174.1L187.2 174.7L187.7 174.7L188.2 174.6L188.7 174.2L189.7 174.2L190.2 174.5L190.7 174.6L191.2 174.6L191.7 174.4L192.2 174.0L192.7 172.8L193.2 172.0L193.7 169.9L194.2 169.3L194.7 168.9L195.2 170.4L195.7 171.8L196.2 172.8L196.7 173.7L197.2 174.3L197.7 174.6L198.2 174.7L199.2 174.7L199.7 174.4L200.2 174.7L200.7 174.6L201.2 174.3L201.7 174.7L202.2 174.6L202.7 174.7L203.2 174.7L203.7 174.4L204.2 174.6L204.7 174.6L205.2 174.4L205.7 174.3L206.2 173.6L206.7 173.5L207.2 172.7L207.7 172.3L208.2 170.7L208.7 169.3L209.2 168.5L209.7 167.4L210.2 166.9L210.7 168.2L211.2 168.6L211.7 168.5L212.2 170.4L212.7 168.8L213.2 169.5L213.7 169.3L214.2 171.4L214.7 173.1L215.2 174.1L215.7 173.7L216.2 174.5L216.7 174.6L217.2 174.7L217.7 174.0L218.2 174.4L218.7 174.5L219.2 174.0L219.7 174.6L220.2 173.8L220.7 174.2L221.2 174.7L221.7 174.7L222.2 174.6L222.7 174.6L223.2 174.2L223.7 174.4L224.2 174.3L224.7 174.5L225.2 174.7L225.7 174.3L226.2 173.6L226.7 174.5L227.2 174.3L227.7 174.7L228.2 174.7L228.7 174.6L229.2 174.5L229.7 174.3L230.2 174.6L230.7 174.6L231.2 174.7L234.7 174.7L235.2 174.1L235.7 173.8L236.2 173.5L236.7 174.3L237.2 174.7L237.7 174.7L238.2 173.5L238.7 174.4L239.2 174.0L239.7 174.7L240.7 174.7L241.2 174.6L241.7 174.7L242.2 174.6L242.7 174.7L243.7 174.7L244.2 173.8L244.7 174.4L245.2 174.5L245.7 174.7L246.2 174.6L246.7 174.7L247.2 174.5L247.7 174.7L248.2 174.1L248.7 174.7L249.2 174.3L249.7 174.7L250.2 174.7L250.7 174.2L251.2 174.0L251.7 174.7L252.2 174.7L252.7 173.7L253.2 174.5L253.7 174.7L254.2 173.5L254.7 174.5L255.2 174.7L255.7 174.6L256.2 174.7L256.7 174.5L257.2 174.6L257.7 174.7L258.2 174.3L258.7 174.7L259.2 174.1L259.7 174.3L260.2 173.7L260.7 174.7L261.2 174.0L261.7 174.3L262.2 174.7L262.7 173.8L263.2 174.6L263.7 174.7L264.2 174.7L264.7 173.5L265.2 174.1L265.7 174.5L266.2 173.9L266.7 173.9L267.2 171.4L267.7 168.1L268.2 168.1L268.7 169.3L269.2 167.3L269.7 166.2L270.2 167.6L270.7 167.6L271.2 169.3L271.7 166.2L272.2 168.9L272.7 172.4L273.2 173.7L273.7 174.2L274.2 173.0L274.7 170.6L275.2 171.1L275.7 172.5L276.2 173.4L276.7 171.3L277.2 169.1L277.7 169.8L278.2 171.0L278.7 173.0L279.2 173.6L279.7 174.2L280.2 173.4L280.7 171.6L281.2 171.0L281.7 171.0L282.2 172.0L282.7 173.2L283.2 174.1L283.7 173.7L284.2 174.2L284.7 174.5L285.2 174.5L285.7 173.7L286.2 174.7L286.7 174.6L287.2 174.6L287.7 174.7L288.2 173.9L288.7 174.4L289.2 174.7L289.7 174.2L290.2 174.6L290.7 174.3L291.2 174.6L291.7 174.0L292.2 174.0L292.7 173.2L293.2 171.6L293.7 171.5L294.2 170.5L294.7 171.9L295.2 172.8L295.7 173.7L296.2 174.3L296.7 174.6L297.2 174.1L297.7 174.7L298.2 173.9L298.7 174.0L299.2 174.6L299.7 174.7L300.2 174.6L300.7 174.7L301.2 174.6L301.7 174.5L302.2 174.3L302.7 174.1L303.2 173.4L303.7 172.5L304.2 171.0L304.7 169.8L305.2 168.6L305.7 167.0L306.2 168.1L306.7 168.4L307.2 166.3L307.7 163.9L308.2 165.7L308.7 163.1L309.2 164.5L309.7 167.0L310.2 168.8L310.7 169.6L311.2 166.9L311.7 166.4L312.2 169.4L312.7 172.4L313.2 174.2L313.7 174.5L314.2 173.6L314.7 174.7L315.2 174.5L315.7 174.5L316.2 174.7L316.7 174.2L317.2 174.7L318.2 174.7L318.7 174.4L319.2 174.7L319.7 174.5L320.2 174.4L320.7 173.8L321.2 172.9L321.7 171.5L322.2 169.5L322.7 169.4L323.2 169.9L323.7 171.8L324.2 173.0L324.7 173.1L325.2 170.2L325.7 166.4L326.2 163.5L326.7 165.9L327.2 170.1L327.7 169.8L328.2 170.9L328.7 171.1L329.2 171.4L329.7 172.2L330.2 173.1L330.7 173.1L331.2 170.9L331.7 167.3L332.2 165.6L332.7 165.6L333.2 168.4L333.7 165.9L334.2 166.6L334.7 170.4L335.2 169.0L335.7 167.2L336.2 167.3L336.7 169.1L337.2 171.0L337.7 173.1L338.2 172.2L338.7 171.5L339.2 171.9L339.7 172.2L340.2 173.0L340.7 173.9L341.2 174.3L341.7 174.3L342.2 174.6L342.7 174.7L343.2 174.7L343.7 174.2L344.2 174.6L344.7 174.7L345.2 174.4L345.7 174.3L346.2 174.2L346.7 174.6L347.2 174.4L347.7 173.8L348.2 173.1L348.7 172.2L349.2 171.8L349.7 172.5L350.2 173.6L350.7 173.7L351.2 174.6L351.7 174.7L353.7 174.7L354.2 174.5L354.7 174.7L355.2 174.2L355.7 174.7L357.7 174.7L358.2 174.6L358.7 174.7L359.2 174.6L359.7 174.3L360.2 173.7L360.7 172.2L361.2 171.3L361.7 170.9L362.2 172.1L362.7 173.4L363.2 174.2L363.7 174.6L364.2 173.9L364.7 174.7L365.7 174.7L366.2 174.5L366.7 174.0L367.2 174.4L367.7 174.5L368.2 174.7L368.7 174.7L369.2 174.4L369.7 174.7L370.2 174.7L370.7 174.3L371.2 173.8L371.7 174.0L372.2 174.7L372.7 174.2L373.2 174.6L373.7 174.7L374.2 174.1L374.7 174.6L375.2 174.6L375.7 174.7L376.2 174.5L376.7 174.6L377.2 174.1L377.7 173.8L378.2 174.7L378.7 173.8L379.2 174.7L379.7 174.7L380.2 174.3L380.7 174.1L381.2 174.2L381.7 174.7L382.2 174.3L382.7 173.8L383.2 173.7L383.7 174.7L384.2 174.0L384.7 174.7L385.2 173.9L385.7 174.5L386.2 174.4L386.7 174.2L387.2 174.7L388.2 174.7L388.7 174.3L389.2 174.6L389.7 174.3L390.2 173.7L390.7 172.9L391.2 171.6L391.7 169.7L392.2 170.7L392.7 171.0L393.2 172.4L393.7 173.5L394.2 174.3L394.7 174.5L395.2 174.7L395.7 174.7L396.2 173.7L396.7 174.5L397.2 174.5L397.7 174.7L398.2 174.4L398.7 173.9L399.2 172.9L399.7 172.6L400.2 173.5L400.7 174.2L401.2 174.6L401.7 173.8L402.2 174.0L402.7 173.7L403.7 173.7L404.2 173.2L404.7 172.9L405.2 172.4L405.7 172.7L406.2 173.6L406.7 174.1L407.2 173.8L407.7 174.6L408.2 174.7L409.7 174.7L410.2 174.5L410.7 174.4L411.2 173.5L411.7 172.1L412.2 171.9L412.7 173.2L413.2 174.3L413.7 174.2L414.2 174.4L414.7 174.7L415.2 174.6L415.7 174.7L416.2 173.9L416.7 174.3L417.2 174.7L418.7 174.7L419.2 174.6L419.7 174.4L420.2 174.0L420.7 173.1L421.2 173.2L421.7 173.8L422.2 174.4L422.7 174.6L423.2 174.7L423.7 174.5L424.2 174.0L424.7 174.2L425.2 174.7L426.7 174.7L427.2 174.4L427.7 174.4L428.2 174.6L428.7 174.3L429.2 174.6L429.7 170.4L430.2 168.8L430.7 168.4L431.2 168.2L431.7 169.5L432.2 167.4L432.7 167.8L433.2 169.2L433.7 169.3L434.2 168.9L434.7 167.7L435.2 168.8L435.7 169.4L436.2 173.0L436.7 174.5L437.2 174.6L437.7 174.7L438.2 174.4L438.7 174.7L439.2 174.7L439.7 173.9L440.2 174.6L440.7 174.6L441.2 174.4L441.7 174.6L442.2 174.7L442.7 173.7L443.2 174.4L443.7 174.6L444.2 174.6L444.7 174.5L445.2 174.1L445.7 174.7L446.7 174.7L447.2 173.9L447.7 173.5L448.2 174.1L448.7 174.5L449.2 174.4L449.7 174.4L450.2 174.7L451.7 174.7L452.2 174.6L452.7 173.8L453.2 174.2L453.7 174.7L454.2 174.6L454.7 173.9L455.2 174.5L455.7 174.7L456.2 174.5L456.7 174.7L457.2 174.1L457.7 174.7L458.2 174.7L458.7 174.1L459.2 174.7L459.7 174.6L460.2 174.7L461.2 174.7L461.7 173.6L462.2 174.3L462.7 174.7L463.7 174.7L464.2 174.6L464.7 174.4L465.2 173.8L465.7 174.6L466.2 174.7L466.7 174.7L467.2 174.5L467.7 174.4L468.2 174.1L468.7 174.7L469.7 174.7L470.2 174.6L470.7 174.2L471.2 174.7L472.2 174.7L472.7 174.6L473.2 174.7L473.7 174.4L474.2 174.6L474.7 174.4L475.2 174.7L475.7 174.5L476.2 174.6L476.7 174.4L477.2 174.7L478.2 174.7L478.7 174.5L479.2 173.9L479.7 174.6L480.2 174.5L480.7 174.3L481.2 173.8L481.7 173.9L482.2 173.6L482.7 172.9L483.2 172.7L483.7 171.9L484.2 171.1L484.7 165.9L485.2 164.3L485.7 164.9L486.2 164.3L486.7 164.9L487.2 163.3L487.7 164.8L488.2 163.5L488.7 165.1L489.2 164.6L489.7 165.5L490.2 167.7L490.7 172.0L491.2 173.0L491.7 173.4L492.2 173.7L492.7 174.1L493.2 172.3L493.7 169.1L494.2 165.2L494.7 166.3L495.2 170.0L495.7 172.9L496.2 173.9L496.7 173.3L497.2 172.2L497.7 171.4L498.2 170.8L498.7 170.2L499.2 170.0L499.7 170.4L500.2 171.5L500.7 172.6L501.2 173.0L501.7 173.8L502.2 174.1L502.7 174.3L503.2 174.0L503.7 174.6L504.2 174.2L504.7 174.7L505.2 174.6L505.7 174.5L506.2 174.0L506.7 174.7L507.2 174.7L507.7 174.6L508.2 174.7L509.2 174.7L509.7 174.0L510.2 174.6L510.7 174.7L511.2 174.7L511.7 174.5L512.2 174.6L512.0 175.7 Z" fill="#29297a"/>
<path d="M120.2 191.1L120.2 188.0L120.7 188.6L121.2 189.3L121.7 190.1L122.2 190.1L122.7 189.4L123.2 189.0L123.7 190.1L124.2 190.1L124.7 188.5L125.2 190.1L125.7 189.6L126.2 190.1L126.7 189.6L127.2 188.7L127.7 189.7L128.2 190.0L128.7 190.1L129.2 189.6L129.7 189.6L130.2 190.0L130.7 189.9L131.2 189.8L131.7 190.1L132.2 190.1L132.7 189.8L133.2 190.1L133.7 189.7L134.2 189.0L134.7 188.9L135.2 190.1L135.7 190.0L136.2 188.3L136.7 190.0L137.2 187.8L137.7 190.1L138.2 188.8L138.7 190.1L139.2 189.5L139.7 189.0L140.2 189.8L140.7 189.6L141.2 188.3L141.7 187.7L142.2 190.1L142.7 189.9L143.2 190.1L143.7 190.0L144.2 190.1L144.7 190.1L145.2 189.6L145.7 190.1L146.7 190.1L147.2 188.9L147.7 190.1L148.2 190.1L148.7 189.6L149.2 189.3L149.7 189.6L150.2 189.8L150.7 189.8L151.2 189.3L151.7 190.1L152.2 188.8L152.7 189.4L153.2 188.7L153.7 188.5L154.2 188.8L154.7 189.9L155.2 189.9L155.7 189.3L156.2 189.7L156.7 190.0L157.2 188.3L157.7 188.5L158.2 187.5L158.7 187.8L159.2 189.3L159.7 189.8L160.2 188.0L160.7 189.6L161.2 188.8L161.7 190.1L162.2 189.4L162.7 190.1L163.2 190.1L163.7 190.0L164.2 190.1L166.2 190.1L166.7 189.0L167.2 190.1L168.2 190.1L168.7 189.9L169.2 190.1L169.7 189.8L170.2 190.1L170.7 190.1L171.2 189.9L171.7 190.0L172.2 188.5L172.7 188.5L173.2 187.5L173.7 188.2L174.2 189.1L174.7 189.7L175.2 190.1L175.7 188.4L176.2 190.1L176.7 190.0L177.2 189.1L177.7 188.3L178.2 189.9L178.7 190.1L179.2 189.8L179.7 190.0L180.2 190.1L180.7 190.0L181.2 188.6L181.7 190.1L182.7 190.1L183.2 189.0L183.7 190.1L184.2 189.5L184.7 189.5L185.2 190.1L185.7 190.0L186.2 190.1L186.7 189.0L187.2 189.9L187.7 190.0L188.2 188.9L188.7 188.9L189.2 190.1L190.7 190.1L191.2 190.0L191.7 190.0L192.2 187.9L192.7 189.2L193.2 188.5L193.7 187.5L194.2 186.7L194.7 186.5L195.2 187.2L195.7 188.3L196.2 188.9L196.7 189.2L197.2 189.8L197.7 190.1L198.7 190.1L199.2 188.2L199.7 190.1L200.2 189.4L200.7 190.1L201.2 190.1L201.7 189.7L202.2 190.1L202.7 190.1L203.2 188.5L203.7 190.1L204.2 190.1L204.7 189.4L205.2 187.8L205.7 189.8L206.2 190.1L206.7 190.0L207.2 189.7L207.7 190.1L208.2 190.0L208.7 189.3L209.2 189.5L209.7 188.8L210.2 188.1L210.7 189.9L211.2 187.9L211.7 190.1L212.2 189.9L212.7 189.5L213.2 188.2L213.7 189.9L214.2 190.0L214.7 188.5L215.2 189.9L215.7 190.1L216.2 190.0L216.7 190.1L217.2 189.6L217.7 188.9L218.2 190.1L218.7 190.1L219.2 188.4L219.7 189.0L220.2 189.1L220.7 190.0L221.2 188.1L221.7 188.8L222.2 188.9L222.7 189.8L223.2 189.6L223.7 190.1L225.2 190.1L225.7 189.9L226.2 188.1L226.7 189.8L227.2 189.1L227.7 189.2L228.2 188.1L228.7 190.1L229.2 189.9L229.7 188.3L230.2 190.1L230.7 189.4L231.2 190.0L231.7 190.1L232.2 190.1L232.7 190.0L233.2 190.1L233.7 188.6L234.2 190.0L234.7 190.1L235.2 189.0L235.7 190.1L236.2 189.2L236.7 190.0L237.2 190.1L237.7 190.0L238.2 187.8L238.7 190.1L239.7 190.1L240.2 189.7L240.7 190.1L241.2 188.7L241.7 190.0L242.2 188.1L242.7 190.1L244.7 190.1L245.2 189.7L245.7 189.8L246.2 189.3L246.7 190.1L247.2 189.7L247.7 187.8L248.2 190.1L249.2 190.1L249.7 188.0L250.2 189.6L250.7 189.9L251.2 189.9L251.7 190.1L252.2 190.1L252.7 189.4L253.2 190.1L253.7 189.9L254.2 188.4L254.7 190.1L255.2 189.9L255.7 189.2L256.2 189.2L256.7 188.9L257.2 188.4L257.7 189.7L258.2 190.1L258.7 189.9L259.2 188.3L259.7 190.1L260.7 190.1L261.2 188.6L261.7 190.1L262.2 190.1L262.7 189.7L263.2 189.3L263.7 190.0L264.2 189.2L264.7 189.4L265.2 190.0L265.7 190.1L266.2 189.4L266.7 189.6L267.2 188.0L267.7 189.4L268.2 190.1L269.2 190.1L269.7 189.3L270.2 190.0L270.7 189.9L271.2 189.7L271.7 189.0L272.2 188.6L272.7 187.6L273.2 188.1L273.7 188.1L274.2 189.1L274.7 189.6L275.2 189.8L275.7 190.0L276.2 189.7L276.7 188.1L277.2 187.3L277.7 186.8L278.2 186.8L278.7 187.4L279.2 187.9L279.7 189.7L280.2 190.0L280.7 189.6L281.2 187.5L281.7 185.5L282.2 185.2L282.7 186.8L283.2 189.4L283.7 188.6L284.2 187.8L284.7 188.7L285.2 187.8L285.7 186.9L286.2 187.0L286.7 187.6L287.2 188.7L287.7 188.5L288.2 188.1L288.7 188.0L289.2 189.4L289.7 188.7L290.2 188.9L290.7 189.3L291.2 190.0L291.7 189.5L292.2 189.1L292.7 188.9L293.2 188.2L293.7 187.9L294.2 187.5L294.7 187.8L295.2 188.3L295.7 189.4L296.2 188.5L296.7 189.6L297.2 188.5L297.7 190.0L298.2 189.9L298.7 189.5L299.2 188.6L299.7 186.7L300.2 187.0L300.7 186.7L301.2 185.8L301.7 185.8L302.2 186.2L302.7 187.0L303.2 185.0L303.7 185.2L304.2 187.1L304.7 187.1L305.2 186.9L305.7 185.3L306.2 185.5L306.7 187.3L307.2 187.0L307.7 185.5L308.2 185.5L308.7 184.5L309.2 181.9L309.7 184.0L310.2 186.7L310.7 187.3L311.2 183.9L311.7 182.9L312.2 186.2L312.7 186.0L313.2 185.6L313.7 186.4L314.2 184.1L314.7 183.9L315.2 187.2L315.7 186.6L316.2 188.0L316.7 189.4L317.2 189.2L317.7 188.9L318.2 187.8L318.7 188.4L319.2 187.9L319.7 188.1L320.2 188.2L321.2 188.2L321.7 188.5L322.2 188.8L322.7 189.1L323.2 188.1L323.7 185.5L324.2 185.1L324.7 187.5L325.2 188.3L325.7 186.8L326.2 182.0L326.7 182.4L327.2 186.1L327.7 189.2L328.2 188.1L328.7 189.7L329.2 188.2L329.7 189.6L330.2 188.6L330.7 187.2L331.2 185.9L331.7 186.1L332.2 186.4L332.7 188.5L333.2 189.6L333.7 189.7L334.2 190.1L335.2 190.1L335.7 188.3L336.2 189.5L336.7 190.1L337.2 190.0L337.7 189.2L338.2 190.0L338.7 189.5L339.2 187.7L339.7 190.0L340.2 190.0L340.7 190.1L341.2 189.4L341.7 189.9L342.2 189.8L342.7 190.1L343.2 189.6L343.7 189.7L344.2 188.3L344.7 189.2L345.2 190.1L345.7 190.1L346.2 190.0L346.7 190.1L347.7 190.1L348.2 188.8L348.7 190.1L349.2 189.1L349.7 189.9L350.2 189.3L350.7 189.9L351.2 190.1L351.7 190.0L352.2 188.4L352.7 189.1L353.2 189.6L353.7 190.0L354.2 189.2L354.7 190.1L355.2 189.9L355.7 190.0L356.2 190.0L356.7 188.9L357.2 190.1L357.7 190.1L358.2 189.8L358.7 190.1L359.2 188.4L359.7 190.0L360.2 190.1L361.2 190.1L361.7 190.0L362.2 190.1L362.7 188.2L363.2 190.0L363.7 189.4L364.2 189.9L364.7 189.9L365.2 190.1L365.7 188.4L366.2 190.1L366.7 189.9L367.2 190.1L368.2 190.1L368.7 188.1L369.2 190.1L369.7 189.4L370.2 189.2L370.7 188.3L371.2 190.0L371.7 189.9L372.2 188.9L372.7 189.8L373.2 190.1L373.7 190.0L374.2 188.4L374.7 190.1L375.2 189.7L375.7 189.1L376.2 189.0L376.7 189.6L377.2 189.1L377.7 187.9L378.2 189.9L378.7 190.0L379.2 190.0L379.7 189.2L380.2 189.6L380.7 189.2L381.2 188.6L381.7 188.2L382.2 188.0L382.7 188.3L383.2 188.1L383.7 189.5L384.2 187.7L384.7 190.0L385.2 190.0L385.7 189.8L386.2 187.8L386.7 190.1L387.2 190.1L387.7 188.6L388.2 190.1L388.7 188.3L389.2 189.9L389.7 187.7L390.2 190.0L390.7 189.9L391.2 189.2L391.7 189.0L392.2 189.0L392.7 188.5L393.2 188.0L393.7 187.8L394.2 187.7L394.7 188.0L395.2 188.7L395.7 189.0L396.2 189.4L396.7 188.8L397.2 189.8L397.7 190.0L398.2 189.9L398.7 189.2L399.2 189.6L399.7 189.2L400.2 189.5L400.7 188.0L401.2 189.7L401.7 190.1L402.2 190.1L402.7 188.1L403.2 189.7L403.7 189.6L404.2 189.3L404.7 189.2L405.2 190.0L405.7 190.1L406.2 189.8L406.7 190.0L407.2 189.8L407.7 190.0L408.2 187.9L408.7 188.1L409.2 189.5L409.7 188.5L410.2 189.7L410.7 190.0L411.2 190.1L411.7 190.0L412.2 189.8L412.7 190.1L413.2 190.1L413.7 187.8L414.2 190.1L414.7 190.1L415.2 189.5L415.7 189.9L416.2 189.3L416.7 190.1L417.2 190.1L417.7 190.0L418.2 189.1L418.7 190.1L419.2 190.0L419.7 189.0L420.2 189.3L420.7 189.9L421.2 190.0L421.7 189.7L422.2 189.3L422.7 187.9L423.2 187.9L423.7 187.5L424.2 187.7L424.7 188.7L425.2 189.4L425.7 189.7L426.2 189.8L426.7 190.1L427.2 187.8L427.7 189.9L428.2 190.1L428.7 188.5L429.2 190.1L429.7 189.8L430.2 190.1L430.7 190.1L431.2 189.9L431.7 190.1L432.2 189.9L432.7 189.8L433.2 189.6L433.7 189.2L434.2 190.1L434.7 189.0L435.2 190.0L435.7 189.9L436.2 189.4L436.7 188.4L437.2 188.3L437.7 189.3L438.2 189.8L438.7 190.1L439.2 190.1L439.7 190.0L440.2 187.8L440.7 188.9L441.2 190.1L442.7 190.1L443.2 188.2L443.7 190.1L444.2 190.1L444.7 188.5L445.2 189.9L445.7 189.7L446.2 190.1L447.7 190.1L448.2 190.0L448.7 189.7L449.2 189.7L449.7 190.0L450.2 190.1L450.7 190.1L451.2 187.8L451.7 190.1L452.2 189.0L452.7 190.0L453.2 189.7L453.7 190.1L454.2 189.2L454.7 190.0L455.2 189.0L455.7 188.7L456.2 190.1L456.7 189.4L457.2 187.8L457.7 190.0L458.2 190.1L458.7 189.8L459.2 190.1L459.7 190.1L460.2 187.7L460.7 190.1L461.2 190.1L461.7 190.0L462.2 190.1L463.2 190.1L463.7 189.9L464.2 189.4L464.7 188.0L465.2 190.0L465.7 190.1L466.2 188.6L466.7 189.6L467.2 188.0L467.7 188.9L468.2 190.1L468.7 189.5L469.2 190.0L469.7 189.7L470.2 190.1L470.7 190.1L471.2 189.9L471.7 189.9L472.2 188.3L472.7 190.1L473.2 189.7L473.7 189.8L474.2 190.0L474.7 189.6L475.2 189.5L475.7 189.9L476.2 190.0L476.7 190.0L477.2 189.9L477.7 189.8L478.2 189.9L478.7 189.8L479.2 189.2L479.7 189.6L480.2 189.6L480.7 188.3L481.2 189.4L481.7 188.4L482.2 189.1L482.7 188.9L483.2 188.8L483.7 188.7L484.2 187.9L484.7 185.6L485.2 185.0L485.7 187.7L486.2 187.6L486.7 187.4L487.2 186.8L487.7 187.1L488.2 186.9L488.7 186.3L489.2 181.2L489.7 181.7L490.2 185.7L490.7 186.1L491.2 186.0L491.7 186.2L492.2 185.7L492.7 186.4L493.2 185.3L493.7 186.4L494.2 183.1L494.7 183.4L495.2 186.8L495.7 186.6L496.2 186.6L496.7 187.4L497.2 187.5L497.7 185.2L498.2 184.9L498.7 187.2L499.2 188.3L499.7 188.6L500.2 188.8L500.7 188.6L501.2 188.9L501.7 189.0L502.2 189.0L502.7 188.9L503.2 189.5L503.7 188.7L504.2 189.6L504.7 189.4L505.2 189.2L505.7 188.9L506.2 188.6L506.7 188.4L507.2 188.3L507.7 188.7L508.2 188.9L508.7 189.2L509.2 189.5L509.7 189.7L510.2 189.9L510.7 190.0L511.2 188.1L511.7 189.1L512.2 190.1L512.0 191.1 Z" fill="#29297a"/>
<path d="M120.2 206.9L120.2 205.5L120.7 205.9L121.2 205.6L121.7 205.3L122.2 205.9L122.7 205.6L123.2 205.9L124.2 205.9L124.7 205.6L125.2 205.9L125.7 205.7L126.2 205.9L127.2 205.9L127.7 205.8L128.2 204.9L128.7 202.6L129.2 198.3L129.7 197.3L130.2 201.2L130.7 196.6L131.2 198.1L131.7 200.8L132.2 204.4L132.7 205.3L133.2 205.7L133.7 205.8L134.2 205.8L134.7 205.6L135.2 205.8L135.7 205.5L136.2 205.8L136.7 205.8L137.2 205.3L137.7 205.6L138.2 205.4L138.7 205.7L139.2 205.9L141.7 205.9L142.2 205.8L142.7 205.6L143.2 205.5L143.7 205.3L144.2 205.8L144.7 205.9L145.7 205.9L146.2 205.5L146.7 205.9L147.2 205.7L147.7 205.9L148.2 205.8L148.7 205.5L149.2 205.7L149.7 205.9L150.2 205.8L150.7 205.9L151.2 205.3L151.7 205.9L152.2 205.9L152.7 205.4L153.2 205.9L153.7 205.9L154.2 205.6L154.7 205.4L155.2 205.8L155.7 205.9L156.2 205.5L156.7 205.9L157.7 205.9L158.2 205.5L158.7 205.9L159.7 205.9L160.2 205.7L160.7 205.2L161.2 205.9L161.7 205.8L162.2 205.9L162.7 205.5L163.2 205.8L163.7 205.7L164.2 205.5L164.7 205.8L165.2 205.8L165.7 205.9L166.2 205.9L166.7 205.7L167.2 205.6L167.7 205.8L168.2 205.9L168.7 205.6L169.2 205.5L169.7 205.5L170.2 205.6L170.7 205.7L171.2 205.9L172.2 205.9L172.7 205.8L173.2 205.9L173.7 205.6L174.2 205.9L175.7 205.9L176.2 205.6L176.7 205.5L177.2 205.4L177.7 205.9L178.2 205.7L178.7 205.8L179.2 205.9L179.7 205.3L180.2 205.7L180.7 205.9L181.2 205.5L181.7 205.9L182.2 205.8L183.2 205.8L183.7 205.9L184.2 205.6L184.7 205.9L185.7 205.9L186.2 205.8L186.7 205.9L187.7 205.9L188.2 205.5L188.7 205.7L189.2 205.7L189.7 205.9L190.2 205.9L190.7 205.7L191.2 205.7L191.7 205.9L192.7 205.9L193.2 205.3L193.7 205.4L194.2 205.8L194.7 205.9L195.2 205.8L195.7 205.8L196.2 205.9L196.7 205.5L197.2 205.8L197.7 205.9L198.2 205.7L198.7 205.7L199.2 205.9L199.7 205.8L200.2 205.3L200.7 205.7L201.2 205.7L201.7 205.8L202.2 205.9L202.7 205.2L203.2 205.9L204.2 205.9L204.7 205.8L205.2 205.6L205.7 205.2L206.2 205.0L206.7 204.7L207.7 204.7L208.2 205.3L208.7 205.5L209.2 205.8L209.7 205.9L210.2 205.5L210.7 205.9L211.2 205.9L211.7 205.6L212.2 205.7L212.7 205.9L213.2 205.8L213.7 205.8L214.2 205.9L215.2 205.9L215.7 205.8L216.2 205.9L216.7 205.8L217.2 205.9L217.7 205.2L218.2 205.9L218.7 205.8L219.2 205.9L219.7 205.9L220.2 205.3L220.7 205.9L222.2 205.9L222.7 205.8L223.2 205.2L223.7 205.3L224.2 205.9L224.7 205.7L225.2 205.8L225.7 205.6L226.2 205.9L227.2 205.9L227.7 205.4L228.2 205.9L230.2 205.9L230.7 205.3L231.2 205.9L231.7 205.6L232.2 205.5L232.7 205.9L234.2 205.9L234.7 205.8L235.7 205.8L236.2 205.9L236.7 205.4L237.2 205.9L237.7 205.9L238.2 205.8L238.7 205.5L239.2 205.8L239.7 205.7L240.2 205.5L240.7 205.9L241.2 205.7L241.7 205.9L242.2 205.8L242.7 205.9L243.7 205.9L244.2 205.6L244.7 205.9L245.7 205.9L246.2 205.5L246.7 205.5L247.2 205.9L248.7 205.9L249.2 205.5L249.7 205.8L250.2 205.4L250.7 205.7L251.2 205.9L251.7 205.6L252.2 205.9L252.7 205.8L253.2 205.8L253.7 205.9L254.2 205.9L254.7 205.8L255.2 205.9L255.7 205.9L256.2 205.8L256.7 205.3L257.2 205.8L257.7 205.2L258.2 205.8L258.7 205.9L259.7 205.9L260.2 205.5L260.7 205.6L261.2 205.3L261.7 205.8L262.2 205.6L262.7 205.8L263.2 205.9L263.7 205.8L264.2 205.9L264.7 205.6L265.2 205.6L265.7 205.7L266.2 205.5L266.7 205.3L267.2 204.4L267.7 202.9L268.2 199.8L268.7 195.0L269.2 196.0L269.7 198.3L270.2 198.6L270.7 198.8L271.2 200.5L271.7 201.8L272.2 203.8L272.7 203.1L273.2 203.0L273.7 203.7L274.2 204.6L274.7 205.3L275.2 205.6L275.7 205.8L276.2 205.7L276.7 205.3L277.2 205.9L277.7 205.2L278.2 205.9L278.7 205.9L279.2 205.7L279.7 205.2L280.2 205.9L280.7 205.9L281.2 205.4L281.7 205.5L282.2 205.9L282.7 205.9L283.2 205.6L283.7 205.9L285.7 205.9L286.2 205.8L286.7 205.6L287.2 205.8L287.7 205.9L289.7 205.9L290.2 205.3L290.7 205.6L291.2 205.5L291.7 205.7L292.2 205.9L292.7 205.7L293.2 205.8L293.7 205.6L294.2 205.8L294.7 205.8L295.2 205.9L295.7 205.5L296.2 205.7L296.7 205.8L297.2 205.9L297.7 205.7L298.2 205.9L298.7 205.9L299.2 205.6L299.7 205.7L300.2 205.6L300.7 205.2L301.2 205.9L301.7 205.8L302.2 205.9L302.7 202.8L303.2 201.0L303.7 200.4L304.2 199.8L304.7 200.2L305.2 200.3L305.7 200.6L306.2 197.0L306.7 199.2L307.2 200.6L307.7 200.8L308.2 200.1L308.7 200.9L309.2 200.8L309.7 199.6L310.2 200.2L310.7 197.2L311.2 196.1L311.7 199.5L312.2 200.8L312.7 198.5L313.2 199.7L313.7 200.1L314.2 200.3L314.7 202.2L315.2 205.3L315.7 205.0L316.2 204.6L316.7 204.4L317.2 204.4L317.7 204.2L318.2 203.9L318.7 203.8L319.2 203.7L319.7 203.7L320.2 203.3L321.2 203.3L321.7 203.6L322.2 204.1L322.7 204.0L323.2 204.5L323.7 204.8L324.2 205.0L324.7 205.2L325.2 205.3L325.7 205.4L326.2 205.5L326.7 205.6L327.2 205.7L327.7 205.8L328.7 205.8L329.2 205.6L329.7 205.4L330.2 204.3L330.7 199.6L331.2 197.7L331.7 200.1L332.2 201.6L332.7 198.6L333.2 198.1L333.7 201.7L334.2 201.6L334.7 202.9L335.2 204.2L335.7 204.8L336.2 205.3L336.7 205.4L337.2 205.8L337.7 205.5L338.2 205.8L338.7 205.3L339.2 205.9L340.2 205.9L340.7 205.6L341.2 205.9L342.2 205.9L342.7 205.3L343.2 205.4L343.7 205.8L344.2 205.8L344.7 205.9L345.2 205.7L345.7 205.3L346.2 205.7L346.7 205.4L347.2 204.9L347.7 204.1L348.2 203.5L348.7 203.5L349.2 203.7L349.7 204.7L350.2 205.3L350.7 205.6L351.2 205.6L351.7 205.9L352.2 205.6L352.7 205.9L353.2 205.8L353.7 205.3L354.2 205.9L354.7 205.4L355.2 205.8L355.7 205.9L356.2 205.9L356.7 205.8L357.2 205.9L358.7 205.9L359.2 205.8L359.7 205.9L360.2 205.5L360.7 205.9L361.2 205.9L361.7 205.7L362.2 205.8L362.7 205.9L363.2 205.8L363.7 205.9L364.2 205.3L364.7 205.7L365.2 205.7L365.7 205.9L366.2 205.6L366.7 205.6L367.2 205.8L367.7 205.9L368.2 205.6L368.7 205.9L370.2 205.9L370.7 205.8L371.2 205.9L371.7 205.6L372.2 205.9L372.7 205.8L373.2 205.9L373.7 205.2L374.2 205.8L374.7 205.9L375.7 205.9L376.2 205.8L376.7 205.9L377.2 205.3L377.7 205.6L378.2 205.9L381.2 205.9L381.7 205.4L382.2 205.9L382.7 205.2L383.2 205.5L383.7 205.4L384.2 205.9L384.7 205.9L385.2 205.8L385.7 205.5L386.2 205.8L386.7 205.9L387.2 205.9L387.7 205.3L388.2 205.9L388.7 205.8L389.2 205.5L389.7 205.9L390.2 205.8L390.7 205.8L391.2 205.9L391.7 205.9L392.2 205.4L392.7 205.9L393.2 205.9L393.7 205.5L394.2 205.6L394.7 205.8L395.2 205.7L395.7 205.9L396.2 205.8L396.7 205.7L397.2 205.9L398.7 205.9L399.2 205.8L399.7 205.9L400.2 205.9L400.7 205.8L401.2 205.9L401.7 205.8L402.2 205.9L402.7 205.9L403.2 205.5L403.7 205.9L404.2 205.9L404.7 205.3L405.2 205.7L407.2 205.7L407.7 205.9L408.7 205.9L409.2 205.5L409.7 205.9L410.2 205.9L410.7 205.4L411.2 205.9L411.7 205.8L412.2 205.9L412.7 205.9L413.2 205.8L413.7 205.7L414.2 205.9L414.7 205.5L415.2 205.8L415.7 205.8L416.2 205.9L416.7 205.9L417.2 205.8L417.7 205.6L418.2 205.9L418.7 205.9L419.2 205.8L419.7 205.9L420.7 205.9L421.2 205.8L421.7 205.8L422.2 205.9L422.7 205.8L423.2 205.4L423.7 205.9L424.2 205.4L424.7 205.8L425.2 205.3L425.7 205.9L426.7 205.9L427.2 205.8L427.7 205.6L428.2 205.9L428.7 205.8L429.2 205.4L429.7 205.8L430.2 205.9L430.7 205.9L431.2 205.4L431.7 205.3L432.2 205.9L432.7 205.9L433.2 205.4L433.7 205.9L434.2 205.9L434.7 205.8L435.2 205.5L435.7 205.9L436.2 205.8L436.7 205.9L437.2 205.6L437.7 205.9L438.2 205.8L438.7 205.9L439.2 205.8L439.7 205.5L440.2 205.9L440.7 205.6L441.2 205.9L441.7 205.8L442.2 205.9L443.2 205.9L443.7 205.8L444.2 205.9L444.7 205.7L445.7 205.7L446.2 205.9L446.7 205.7L447.2 205.7L447.7 205.6L448.2 205.9L448.7 205.8L449.2 205.9L449.7 205.4L450.2 205.4L450.7 205.9L451.7 205.9L452.2 205.6L452.7 205.7L453.2 205.3L453.7 205.9L454.7 205.9L455.2 205.8L456.2 205.8L456.7 205.5L457.2 205.8L457.7 205.9L461.7 205.9L462.2 205.6L462.7 205.8L463.2 205.9L463.7 205.9L464.2 205.2L464.7 205.9L465.2 205.4L465.7 205.9L466.7 205.9L467.2 205.8L467.7 205.9L469.7 205.9L470.2 205.5L470.7 205.4L471.2 205.9L471.7 205.9L472.2 205.6L472.7 205.9L473.2 205.6L473.7 205.4L474.2 205.9L476.2 205.9L476.7 205.8L477.2 205.8L477.7 205.9L478.2 205.2L478.7 205.8L479.2 205.3L479.7 205.4L480.2 205.9L481.7 205.9L482.2 205.4L482.7 205.3L483.2 205.6L483.7 205.8L484.2 205.9L484.7 205.8L485.2 205.3L485.7 202.7L486.2 198.2L486.7 197.2L487.2 201.2L487.7 205.0L488.2 204.1L488.7 201.1L489.2 201.2L489.7 203.6L490.2 205.4L490.7 205.8L491.2 205.9L491.7 205.8L492.2 205.6L492.7 205.1L493.2 204.4L493.7 203.7L494.2 203.1L494.7 202.6L495.2 203.4L495.7 204.5L496.2 205.2L496.7 205.6L497.2 205.4L497.7 205.9L498.2 205.5L498.7 205.3L499.2 205.9L500.7 205.9L501.2 205.4L501.7 205.9L502.2 205.9L502.7 205.8L503.2 205.5L503.7 205.9L504.2 205.9L504.7 205.8L505.2 205.7L505.7 205.9L506.2 205.8L506.7 205.8L507.2 205.7L507.7 205.7L508.2 205.9L508.7 205.5L509.2 205.7L509.7 205.5L510.2 205.7L510.7 205.9L511.2 205.3L511.7 205.9L512.2 205.7L512.0 206.9 Z" fill="#29297a"/>
<path d="M120.2 222.3L120.2 221.3L120.7 221.0L121.2 221.4L121.7 221.0L122.2 221.1L122.7 221.4L123.2 221.2L123.7 221.2L124.2 221.4L124.7 220.9L125.2 221.4L125.7 221.4L126.2 221.3L126.7 221.3L127.2 221.2L127.7 221.4L130.7 221.4L131.2 221.2L131.7 221.4L132.7 221.4L133.2 221.2L133.7 221.4L134.2 221.4L134.7 221.2L135.2 221.4L135.7 221.4L136.2 221.3L136.7 221.4L139.7 221.4L140.2 221.0L140.7 221.4L142.2 221.4L142.7 221.1L143.2 220.9L143.7 221.2L144.2 220.9L144.7 221.4L145.7 221.4L146.2 221.3L146.7 221.4L147.7 221.4L148.2 221.3L148.7 221.1L149.2 221.3L149.7 221.4L150.2 221.4L150.7 221.2L151.2 221.4L152.7 221.4L153.2 221.3L153.7 221.4L154.2 221.3L154.7 221.4L155.2 221.1L155.7 221.4L156.2 221.1L156.7 221.2L157.2 221.4L158.2 221.4L158.7 221.2L159.2 221.3L159.7 221.4L160.2 221.2L160.7 221.4L161.2 221.1L161.7 221.4L165.7 221.4L166.2 220.9L166.7 221.4L167.7 221.4L168.2 221.3L168.7 221.4L169.2 221.4L169.7 221.3L170.2 221.4L170.7 221.3L171.2 221.1L171.7 221.4L172.2 221.2L172.7 221.2L173.2 221.1L173.7 221.4L174.2 221.2L174.7 221.4L176.2 221.4L176.7 221.3L177.2 221.4L178.7 221.4L179.2 221.3L179.7 221.4L180.2 221.2L180.7 221.4L181.2 221.4L181.7 221.3L182.2 221.1L182.7 221.4L183.2 221.4L183.7 221.1L184.2 221.4L184.7 221.0L185.2 221.4L185.7 221.4L186.2 221.1L186.7 221.4L187.2 221.1L187.7 221.4L188.2 221.2L188.7 220.9L189.2 221.1L189.7 221.4L190.2 220.9L190.7 221.4L192.2 221.4L192.7 221.3L193.2 221.4L193.7 221.4L194.2 221.1L194.7 221.4L195.2 221.4L195.7 221.3L196.2 221.4L197.7 221.4L198.2 221.3L198.7 221.4L201.2 221.4L201.7 221.1L202.2 220.9L202.7 221.3L203.2 221.2L203.7 221.4L204.2 221.4L204.7 221.3L205.2 221.0L205.7 221.4L206.2 220.9L206.7 220.9L207.2 221.4L207.7 221.4L208.2 221.0L208.7 221.4L209.7 221.4L210.2 221.3L210.7 221.2L211.2 221.4L212.2 221.4L212.7 221.0L213.2 221.0L213.7 220.9L214.2 221.4L214.7 221.4L215.2 221.2L215.7 221.4L216.2 221.1L216.7 221.3L217.2 221.4L217.7 221.4L218.2 221.3L218.7 221.4L219.2 221.4L219.7 221.3L220.2 221.4L223.7 221.4L224.2 221.2L224.7 221.3L225.2 221.4L225.7 221.4L226.2 221.0L226.7 221.4L230.2 221.4L230.7 221.3L231.2 221.1L231.7 221.2L232.2 221.1L232.7 220.9L233.2 221.4L233.7 221.4L234.2 221.2L234.7 221.4L236.2 221.4L236.7 220.9L237.2 221.0L237.7 221.4L238.2 221.3L238.7 221.4L241.2 221.4L241.7 221.3L242.2 221.1L242.7 221.4L243.2 221.4L243.7 221.3L244.2 221.0L244.7 221.4L245.2 221.4L245.7 221.1L246.2 221.4L248.2 221.4L248.7 221.3L249.2 221.3L249.7 221.1L250.2 221.4L252.2 221.4L252.7 221.3L253.2 221.4L253.7 220.9L254.2 221.4L254.7 221.1L255.2 221.4L255.7 221.0L256.2 221.4L257.2 221.4L257.7 221.3L258.7 221.3L259.2 221.4L260.2 221.4L260.7 221.1L261.2 221.4L262.7 221.4L263.2 221.1L263.7 221.3L264.2 221.2L264.7 221.4L265.7 221.4L266.2 221.3L266.7 220.9L267.2 219.8L267.7 218.1L268.2 217.3L268.7 217.0L269.2 218.6L269.7 220.1L270.2 221.0L270.7 221.4L272.7 221.4L273.2 221.0L273.7 221.4L275.2 221.4L275.7 221.0L276.2 221.3L276.7 221.3L277.2 221.4L278.7 221.4L279.2 221.3L279.7 221.1L280.2 220.9L280.7 221.2L281.2 221.3L281.7 221.4L282.2 221.4L282.7 221.2L283.2 221.4L283.7 221.3L284.2 221.0L284.7 221.4L285.2 221.2L285.7 221.4L286.7 221.4L287.2 221.2L287.7 221.3L288.2 221.0L288.7 221.3L289.2 221.2L289.7 221.2L290.2 221.4L291.2 221.4L291.7 221.2L292.2 220.7L292.7 220.1L293.2 219.9L293.7 220.4L294.2 221.1L294.7 221.4L297.2 221.4L297.7 221.3L298.2 221.4L298.7 221.4L299.2 221.2L299.7 221.4L300.2 221.2L300.7 221.4L302.2 221.4L302.7 221.3L303.2 221.1L303.7 221.0L304.2 220.6L304.7 219.9L305.2 216.9L305.7 213.6L306.2 215.5L306.7 217.7L307.2 217.2L307.7 217.0L308.2 217.6L308.7 215.8L309.2 214.5L309.7 215.0L310.2 219.2L310.7 220.5L311.2 220.9L311.7 221.1L312.2 220.9L312.7 221.4L313.2 221.3L313.7 221.4L314.2 221.0L314.7 221.4L316.7 221.4L317.2 221.2L317.7 220.9L318.2 221.2L318.7 220.9L319.2 221.4L322.2 221.4L322.7 221.0L323.2 221.4L323.7 221.4L324.2 221.0L324.7 220.2L325.2 219.1L325.7 217.3L326.2 217.7L326.7 218.3L327.2 220.1L327.7 220.9L328.2 220.5L328.7 219.9L329.2 218.5L329.7 218.0L330.2 217.3L330.7 216.2L331.2 216.3L331.7 216.3L332.2 217.6L332.7 215.9L333.2 216.7L333.7 215.4L334.2 212.3L334.7 211.9L335.2 212.5L335.7 215.7L336.2 216.0L336.7 217.4L337.2 217.0L337.7 216.7L338.2 217.4L338.7 219.1L339.2 219.7L339.7 220.5L340.2 220.9L340.7 221.0L341.2 221.2L341.7 221.3L342.2 221.3L342.7 221.4L343.2 221.0L344.2 221.0L344.7 220.9L345.2 221.3L345.7 221.4L346.2 221.1L346.7 220.7L347.2 219.9L347.7 219.2L348.2 218.5L348.7 218.2L349.2 218.9L349.7 219.9L350.2 220.6L350.7 221.1L351.2 221.3L351.7 221.3L352.2 221.4L352.7 221.4L353.2 221.0L353.7 221.4L354.2 221.0L354.7 221.4L355.2 221.1L356.2 221.1L356.7 221.4L357.2 221.0L357.7 221.4L358.2 221.1L358.7 221.1L359.2 219.5L359.7 217.6L360.2 217.2L360.7 217.4L361.2 217.8L361.7 217.3L362.2 217.9L362.7 217.7L363.2 216.9L363.7 217.3L364.2 217.5L364.7 218.6L365.2 221.4L365.7 221.3L366.2 221.4L367.2 221.4L367.7 221.3L368.2 221.4L369.7 221.4L370.2 220.9L370.7 221.3L371.7 221.3L372.2 221.4L372.7 221.4L373.2 221.1L373.7 221.1L374.2 221.4L374.7 221.4L375.2 221.3L375.7 221.4L376.2 220.9L376.7 221.4L377.2 221.2L377.7 221.4L379.7 221.4L380.2 221.2L380.7 221.4L381.7 221.4L382.2 221.2L382.7 221.4L383.7 221.4L384.2 220.9L384.7 221.3L385.2 221.3L385.7 221.4L386.7 221.4L387.2 221.1L387.7 221.3L388.2 221.4L388.7 221.2L389.2 221.4L389.7 221.4L390.2 221.0L390.7 221.4L391.7 221.4L392.2 221.0L392.7 221.4L394.2 221.4L394.7 221.3L395.2 221.4L396.2 221.4L396.7 221.1L397.2 221.4L397.7 221.0L398.2 221.0L398.7 221.3L399.2 221.4L401.7 221.4L402.2 221.2L402.7 221.3L403.2 221.3L403.7 221.4L408.7 221.4L409.2 221.2L409.7 221.1L410.2 221.4L410.7 221.3L411.2 221.2L411.7 221.0L412.2 221.1L412.7 221.4L413.2 221.2L413.7 221.4L415.7 221.4L416.2 221.3L416.7 221.1L417.2 221.4L417.7 221.3L418.2 221.4L418.7 221.4L419.2 221.2L419.7 221.1L420.2 221.4L420.7 221.4L421.2 221.3L421.7 221.1L422.2 221.4L422.7 221.0L423.2 221.2L423.7 221.4L424.2 221.4L424.7 221.3L425.2 221.4L425.7 221.4L426.2 221.0L426.7 221.4L427.2 221.4L427.7 220.9L428.2 221.1L428.7 221.4L434.7 221.4L435.2 221.1L435.7 221.4L436.2 221.0L436.7 220.9L437.2 221.4L437.7 221.3L438.2 220.9L438.7 221.2L439.2 221.1L439.7 221.4L440.2 221.2L440.7 221.4L441.2 221.2L441.7 221.4L444.2 221.4L444.7 220.9L445.2 221.2L445.7 221.4L446.2 220.9L446.7 221.4L447.2 221.3L447.7 221.2L448.2 221.3L448.7 221.4L449.2 221.0L449.7 221.4L450.2 221.4L450.7 221.3L451.2 221.4L454.2 221.4L454.7 221.3L455.2 221.4L455.7 221.3L456.2 221.4L456.7 221.1L457.2 221.1L457.7 221.4L458.2 221.4L458.7 221.3L459.2 221.2L459.7 221.4L462.7 221.4L463.2 221.3L463.7 220.9L464.2 221.4L464.7 221.2L465.2 221.4L465.7 221.0L466.2 221.4L466.7 221.4L467.2 221.3L467.7 221.4L468.2 221.3L468.7 221.3L469.2 221.2L469.7 221.0L470.2 220.2L470.7 219.3L471.2 218.5L471.7 217.7L472.2 217.0L472.7 217.1L473.2 218.3L473.7 219.6L474.2 220.3L474.7 221.0L475.2 221.2L475.7 221.4L476.2 221.0L476.7 221.4L479.7 221.4L480.2 221.3L480.7 221.3L481.2 221.2L481.7 221.0L482.2 220.9L482.7 218.7L483.2 216.9L483.7 216.9L484.2 216.7L484.7 216.5L485.2 212.7L485.7 210.8L486.2 212.5L486.7 214.5L487.2 211.8L487.7 211.1L488.2 213.3L488.7 212.7L489.2 211.1L489.7 211.6L490.2 215.6L490.7 215.9L491.2 216.8L491.7 215.9L492.2 218.2L492.7 220.8L493.2 221.0L493.7 221.0L494.2 220.5L494.7 218.3L495.2 216.6L495.7 214.1L496.2 214.6L496.7 217.3L497.2 219.8L497.7 220.9L498.2 220.7L498.7 219.8L499.2 219.6L499.7 220.4L500.2 221.2L500.7 221.1L501.2 221.3L501.7 221.4L502.2 221.4L502.7 221.2L503.2 221.4L503.7 221.4L504.2 221.3L504.7 220.9L505.2 221.3L505.7 221.3L506.2 221.1L506.7 221.4L507.2 221.3L507.7 221.1L508.2 221.2L508.7 221.2L509.2 220.9L509.7 221.4L510.7 221.4L511.2 221.3L511.7 221.4L512.2 221.4L512.0 222.3 Z" fill="#29297a"/>
<path d="M120.2 237.4L120.2 236.5L120.7 236.5L121.2 236.0L121.7 236.4L122.2 236.5L123.2 236.5L123.7 236.0L124.2 236.3L124.7 236.5L125.2 236.5L125.7 236.4L126.2 236.1L126.7 236.5L128.2 236.5L128.7 236.1L129.2 236.3L129.7 236.5L133.7 236.5L134.2 236.2L134.7 236.5L135.2 236.4L135.7 236.5L136.7 236.5L137.2 236.3L137.7 236.2L138.2 236.3L138.7 236.2L139.2 236.4L139.7 236.5L140.7 236.5L141.2 236.4L141.7 236.3L142.2 236.1L142.7 236.3L143.2 236.0L143.7 236.4L144.2 236.4L144.7 236.3L145.2 236.5L145.7 236.3L146.2 236.2L146.7 236.5L147.7 236.5L148.2 236.4L148.7 236.5L149.7 236.5L150.2 236.3L150.7 236.4L151.2 236.1L151.7 236.0L152.2 236.5L152.7 236.5L153.2 236.3L153.7 236.5L154.2 236.4L154.7 236.5L155.2 236.5L155.7 236.2L156.2 236.4L156.7 236.2L157.2 236.1L157.7 236.1L158.2 236.2L158.7 236.1L159.7 236.1L160.2 236.5L161.2 236.5L161.7 236.3L162.2 236.0L162.7 236.4L163.2 236.5L166.7 236.5L167.2 236.0L167.7 236.5L168.2 236.5L168.7 236.1L169.2 236.1L169.7 236.5L172.2 236.5L172.7 236.0L173.2 236.2L173.7 236.2L174.2 236.5L174.7 236.4L175.2 236.5L175.7 236.4L176.2 236.5L176.7 236.4L177.2 236.5L177.7 236.0L178.2 236.1L178.7 236.5L179.2 236.1L179.7 236.3L180.2 236.5L180.7 236.2L181.2 236.2L181.7 236.5L182.2 236.4L182.7 236.5L184.2 236.5L184.7 236.3L185.2 236.4L185.7 236.5L187.2 236.5L187.7 236.4L188.2 236.2L188.7 236.0L189.2 236.4L189.7 236.5L190.2 236.2L190.7 236.5L191.2 236.3L191.7 236.5L192.2 236.2L192.7 236.5L194.2 236.5L194.7 236.4L195.2 236.1L195.7 236.5L196.7 236.5L197.2 236.2L197.7 236.3L198.2 236.0L198.7 236.0L199.2 236.4L199.7 236.5L200.2 236.4L200.7 236.5L201.7 236.5L202.2 236.1L202.7 236.5L204.7 236.5L205.2 236.3L205.7 236.5L209.2 236.5L209.7 236.2L210.2 236.4L210.7 236.5L214.2 236.5L214.7 236.0L215.2 236.0L215.7 236.5L217.2 236.5L217.7 236.4L218.2 236.5L222.2 236.5L222.7 236.3L223.2 236.5L223.7 236.2L224.2 236.5L224.7 236.4L225.2 236.2L225.7 236.0L226.2 236.4L226.7 236.5L227.2 236.4L227.7 236.4L228.2 236.5L228.7 236.4L229.2 236.5L230.2 236.5L230.7 236.1L231.2 236.5L231.7 236.5L232.2 236.3L232.7 236.2L233.2 236.5L233.7 236.5L234.2 236.1L234.7 236.5L235.7 236.5L236.2 236.4L236.7 236.5L237.7 236.5L238.2 236.2L238.7 236.0L239.2 236.1L239.7 236.5L240.2 236.0L240.7 236.2L241.2 236.5L242.7 236.5L243.2 236.3L243.7 236.5L244.2 236.4L244.7 236.3L245.2 236.5L245.7 236.5L246.2 236.3L246.7 236.3L247.2 236.5L247.7 236.2L248.2 236.4L248.7 236.5L249.2 236.3L249.7 236.5L250.2 236.5L250.7 236.3L251.2 236.5L251.7 236.2L252.2 236.5L252.7 236.4L253.2 236.5L253.7 236.5L254.2 236.1L254.7 235.4L255.2 235.2L255.7 235.9L256.2 236.4L256.7 236.4L257.2 236.5L257.7 236.5L258.2 236.0L258.7 236.4L259.2 236.0L259.7 236.4L260.2 236.5L260.7 236.5L261.2 236.3L261.7 236.2L262.2 236.3L262.7 236.5L266.2 236.5L266.7 236.4L267.2 236.0L267.7 235.0L268.2 233.0L268.7 231.1L269.2 230.8L269.7 232.2L270.2 234.2L270.7 235.7L271.2 236.4L271.7 236.5L272.2 236.5L272.7 236.2L273.2 236.5L274.2 236.5L274.7 236.1L275.2 236.5L275.7 236.5L276.2 236.1L276.7 236.5L278.2 236.5L278.7 236.1L279.2 236.5L279.7 236.2L280.2 236.5L280.7 236.5L281.2 236.3L281.7 236.5L282.2 236.3L282.7 236.0L283.2 236.2L283.7 236.5L285.2 236.5L285.7 236.2L286.2 236.5L286.7 236.5L287.2 236.1L287.7 236.5L288.2 236.4L288.7 236.5L289.2 236.4L289.7 236.5L291.7 236.5L292.2 236.2L292.7 236.5L293.2 236.2L293.7 236.4L294.2 236.5L294.7 236.5L295.2 236.4L295.7 236.0L296.2 236.5L297.2 236.5L297.7 236.3L298.2 236.5L298.7 236.5L299.2 236.4L299.7 236.3L300.2 236.5L302.2 236.5L302.7 236.4L303.2 236.3L303.7 236.0L304.2 235.6L304.7 234.8L305.2 233.7L305.7 233.0L306.2 231.7L306.7 231.7L307.2 231.8L307.7 231.9L308.2 232.9L308.7 230.8L309.2 225.6L309.7 231.0L310.2 234.6L310.7 236.2L311.2 236.4L311.7 236.5L312.7 236.5L313.2 236.3L313.7 236.5L314.2 236.4L314.7 236.3L315.2 236.5L316.7 236.5L317.2 236.2L317.7 236.5L318.7 236.5L319.2 236.4L319.7 236.5L320.2 236.2L320.7 236.2L321.2 236.5L321.7 236.5L322.2 236.3L322.7 236.5L323.2 236.5L323.7 236.4L324.2 236.5L325.7 236.5L326.2 236.1L326.7 236.3L327.2 236.3L327.7 236.1L328.2 235.9L328.7 235.6L329.2 235.5L329.7 234.9L330.2 234.5L330.7 234.2L331.2 234.1L331.7 233.1L332.2 232.1L332.7 230.7L333.2 230.5L333.7 232.2L334.2 233.3L334.7 233.5L335.2 234.3L335.7 234.8L336.2 235.2L336.7 235.3L337.2 235.6L337.7 235.9L338.2 236.1L338.7 236.1L339.2 236.3L339.7 236.4L340.2 236.5L340.7 236.4L341.2 236.1L341.7 236.5L342.2 236.2L342.7 236.5L343.2 236.4L343.7 236.5L344.2 236.5L344.7 236.3L345.2 236.5L345.7 236.5L346.2 236.3L346.7 235.9L347.2 235.3L347.7 234.2L348.2 233.8L348.7 233.5L349.2 234.0L349.7 235.3L350.2 235.9L350.7 236.2L351.2 236.4L351.7 236.2L352.2 236.5L352.7 236.4L353.2 236.0L353.7 236.5L354.7 236.5L355.2 236.0L355.7 236.5L357.2 236.5L357.7 236.4L358.2 236.3L358.7 236.0L359.2 235.8L359.7 235.4L360.2 234.7L360.7 233.7L361.2 233.1L361.7 232.4L362.2 231.9L362.7 231.6L363.2 232.5L363.7 232.8L364.2 233.6L364.7 234.3L365.2 235.3L365.7 235.7L366.2 236.0L366.7 236.3L367.2 236.4L367.7 236.5L368.2 236.5L368.7 236.3L369.2 236.4L369.7 236.4L370.2 236.5L370.7 236.0L371.2 236.0L371.7 236.3L372.2 236.4L372.7 236.5L373.7 236.5L374.2 236.4L374.7 236.0L375.2 236.4L375.7 236.4L376.2 236.2L376.7 236.3L377.2 236.1L377.7 236.5L378.2 236.5L378.7 236.2L379.2 236.5L379.7 236.0L380.2 236.5L380.7 236.4L381.2 236.5L381.7 236.4L382.2 236.4L382.7 236.0L383.2 236.5L383.7 236.5L384.2 236.1L384.7 236.5L385.2 236.5L385.7 236.3L386.2 236.5L386.7 236.5L387.2 236.1L387.7 236.0L388.2 236.5L388.7 236.1L389.2 236.2L389.7 236.5L390.2 236.5L390.7 236.2L391.2 236.4L391.7 236.5L392.2 236.5L392.7 236.4L393.2 236.5L393.7 236.3L394.2 236.5L394.7 236.4L395.2 236.0L395.7 236.5L397.2 236.5L397.7 236.2L398.2 236.5L399.7 236.5L400.2 236.1L400.7 236.5L401.2 236.4L401.7 236.5L402.2 236.3L402.7 236.5L403.2 236.5L403.7 236.3L404.2 236.5L404.7 236.5L405.2 236.4L405.7 236.5L406.2 236.5L406.7 236.3L407.2 236.5L407.7 236.5L408.2 236.3L408.7 236.2L409.2 236.5L409.7 236.5L410.2 236.3L410.7 236.5L411.2 236.5L411.7 236.1L412.2 236.5L412.7 236.4L413.2 236.3L413.7 236.5L414.2 236.3L414.7 236.2L415.2 236.4L415.7 236.5L418.2 236.5L418.7 236.2L419.2 236.4L419.7 236.5L420.2 236.5L420.7 236.2L421.2 236.5L422.7 236.5L423.2 236.4L423.7 236.5L424.7 236.5L425.2 236.4L425.7 236.5L426.2 236.2L426.7 236.5L427.7 236.5L428.2 236.4L428.7 236.5L429.2 236.4L429.7 236.5L430.2 236.3L430.7 236.0L431.2 236.5L431.7 236.3L432.2 236.4L432.7 236.5L433.2 236.3L433.7 236.5L434.7 236.5L435.2 236.3L435.7 236.0L436.2 236.2L436.7 236.5L437.2 236.5L437.7 236.3L438.2 236.5L438.7 236.1L439.2 236.5L439.7 236.3L440.2 236.2L440.7 236.3L441.2 236.5L441.7 236.5L442.2 236.1L442.7 236.5L443.2 236.4L443.7 236.0L444.2 236.5L444.7 236.4L445.2 236.5L445.7 236.2L446.2 236.5L446.7 236.4L447.2 236.0L447.7 236.5L448.2 236.1L448.7 236.5L449.7 236.5L450.2 236.3L450.7 236.1L451.2 236.5L451.7 236.5L452.2 236.3L452.7 236.5L453.2 236.3L453.7 236.5L454.2 236.5L454.7 236.3L455.2 236.3L455.7 236.5L457.2 236.5L457.7 236.4L458.7 236.4L459.2 236.0L459.7 236.5L460.2 236.3L460.7 236.5L461.2 236.5L461.7 236.2L462.2 236.5L463.2 236.5L463.7 236.1L464.2 236.5L466.2 236.5L466.7 236.2L467.2 236.5L467.7 236.5L468.2 236.2L468.7 236.2L469.2 235.9L469.7 235.1L470.2 234.5L470.7 233.9L471.2 233.4L471.7 233.7L472.2 233.8L472.7 234.8L473.2 235.6L473.7 236.1L474.2 236.0L474.7 236.5L475.7 236.5L476.2 236.2L476.7 236.4L477.7 236.4L478.2 236.5L478.7 236.4L479.2 236.4L479.7 236.3L480.2 236.1L481.2 236.1L481.7 236.0L482.2 235.9L482.7 235.7L483.2 234.6L483.7 233.6L484.2 233.4L484.7 234.3L485.2 234.6L485.7 234.0L486.2 233.4L486.7 231.8L487.2 229.7L487.7 227.4L488.2 231.2L488.7 231.9L489.2 232.0L489.7 230.9L490.2 232.6L490.7 232.6L491.2 232.5L491.7 232.2L492.2 232.4L492.7 231.9L493.2 233.2L493.7 233.7L494.2 233.8L494.7 233.4L495.2 232.8L495.7 234.6L496.2 235.0L496.7 235.5L497.2 235.5L497.7 235.9L498.2 235.9L498.7 236.1L499.2 236.2L499.7 236.3L500.2 236.0L500.7 236.3L501.2 236.2L501.7 236.5L502.2 236.5L502.7 236.3L503.2 236.1L503.7 236.2L504.2 236.5L504.7 236.4L505.2 236.5L506.7 236.5L507.2 236.0L507.7 236.5L509.2 236.5L509.7 236.3L510.2 236.5L510.7 236.4L511.2 236.4L511.7 236.5L512.2 236.5L512.0 237.4 Z" fill="#29297a"/>
<path d="M120.2 253.2L120.2 252.2L120.7 251.8L121.2 251.6L121.7 252.2L124.2 252.2L124.7 251.7L125.2 252.2L125.7 252.2L126.2 251.5L126.7 251.5L127.2 252.2L127.7 252.2L128.2 251.3L128.7 252.2L129.2 252.0L130.2 252.0L130.7 252.2L131.2 251.9L131.7 251.8L132.2 252.1L132.7 252.2L133.2 251.9L133.7 251.3L134.2 251.5L134.7 252.2L135.2 251.9L135.7 252.1L136.2 251.3L136.7 251.4L137.2 252.1L137.7 251.6L138.2 251.6L138.7 252.2L139.2 252.2L139.7 251.5L140.2 252.2L140.7 252.1L141.2 252.0L141.7 252.2L142.2 251.8L142.7 252.2L143.2 252.1L143.7 252.1L144.2 252.2L144.7 251.8L145.2 251.8L145.7 251.7L146.2 252.2L146.7 252.1L147.2 252.2L147.7 251.9L148.2 252.0L148.7 251.6L149.2 252.2L150.2 252.2L150.7 251.5L151.2 252.0L151.7 252.2L152.2 251.9L152.7 252.1L153.2 252.2L153.7 251.8L154.2 251.9L154.7 252.1L155.2 252.2L157.2 252.2L157.7 252.1L158.2 251.4L158.7 252.1L159.2 252.2L159.7 252.2L160.2 251.5L160.7 252.2L161.2 252.2L161.7 251.9L162.2 251.6L162.7 252.2L163.7 252.2L164.2 251.3L164.7 252.1L165.2 252.2L165.7 252.0L166.2 252.1L166.7 252.2L167.7 252.2L168.2 251.4L168.7 252.2L169.2 251.3L169.7 252.2L170.7 252.2L171.2 252.0L171.7 252.2L172.2 251.4L172.7 252.0L173.2 252.2L173.7 252.0L174.2 252.1L174.7 252.0L175.2 252.0L175.7 252.2L176.2 252.1L176.7 252.0L177.2 252.2L177.7 251.6L178.2 251.9L178.7 252.2L179.7 252.2L180.2 252.0L180.7 252.0L181.2 252.2L181.7 252.1L182.2 252.1L182.7 252.2L183.2 252.1L183.7 252.0L184.2 251.9L184.7 252.2L185.2 252.2L185.7 251.9L186.2 251.3L186.7 252.1L187.2 251.6L187.7 252.2L188.2 252.2L188.7 252.0L189.2 252.2L189.7 251.7L190.2 251.9L190.7 252.2L191.2 252.2L191.7 251.8L192.2 252.2L193.2 252.2L193.7 252.0L194.2 251.4L194.7 251.9L195.2 251.6L195.7 252.2L196.2 251.8L196.7 251.3L197.2 251.7L197.7 252.2L198.2 252.2L198.7 251.5L199.2 252.0L199.7 252.2L200.7 252.2L201.2 251.8L201.7 252.1L202.2 252.2L202.7 252.2L203.2 251.3L203.7 251.5L204.2 252.2L204.7 252.2L205.2 251.6L205.7 252.1L206.2 251.7L206.7 252.1L207.2 252.2L207.7 251.4L208.2 252.2L208.7 251.5L209.2 251.8L209.7 252.2L210.2 251.5L210.7 251.4L211.2 252.2L211.7 252.1L212.2 252.1L212.7 252.2L213.2 251.9L213.7 251.5L214.2 251.6L214.7 251.8L215.2 252.2L215.7 252.0L216.2 251.7L216.7 252.2L217.2 251.9L217.7 252.2L218.2 251.6L218.7 252.2L219.2 252.1L219.7 252.1L220.2 252.2L220.7 252.1L221.2 251.9L221.7 252.0L222.2 251.5L222.7 251.8L223.2 252.2L223.7 252.1L224.2 252.1L224.7 252.2L225.2 251.5L225.7 252.0L226.2 252.2L226.7 252.0L227.2 252.0L227.7 251.8L228.2 251.6L228.7 252.1L229.7 252.1L230.2 252.2L230.7 252.2L231.2 251.9L231.7 251.9L232.2 252.2L233.7 252.2L234.2 251.9L234.7 252.2L235.2 252.2L235.7 251.9L236.2 251.8L236.7 252.2L237.2 252.1L237.7 252.2L240.2 252.2L240.7 251.6L241.2 252.1L241.7 252.2L242.2 252.1L242.7 251.5L243.2 252.2L243.7 251.7L244.2 252.2L244.7 252.2L245.2 251.4L245.7 252.2L246.2 251.5L246.7 252.2L247.2 252.2L247.7 252.0L248.2 252.2L248.7 251.8L249.2 252.2L249.7 251.4L250.2 252.2L250.7 252.0L251.2 252.2L251.7 252.2L252.2 252.1L252.7 252.2L253.2 252.1L253.7 252.2L254.2 252.1L254.7 252.2L255.7 252.2L256.2 252.1L256.7 251.3L257.2 251.4L257.7 252.1L258.2 252.0L258.7 251.8L259.2 251.7L259.7 252.0L260.2 252.2L260.7 252.0L261.2 252.2L262.2 252.2L262.7 251.9L263.2 252.2L264.7 252.2L265.2 252.1L265.7 252.2L266.2 252.2L266.7 252.0L267.2 251.4L267.7 250.2L268.2 246.7L268.7 243.6L269.2 245.3L269.7 246.9L270.2 249.3L270.7 251.2L271.2 252.0L271.7 252.2L272.2 252.2L272.7 251.7L273.2 252.2L273.7 251.6L274.2 252.2L274.7 252.2L275.2 251.6L275.7 251.8L276.2 252.2L276.7 251.9L277.2 251.7L277.7 251.9L278.2 251.9L278.7 252.2L279.2 252.1L279.7 251.8L280.2 252.0L280.7 252.2L283.2 252.2L283.7 251.6L284.2 252.2L284.7 251.4L285.2 251.7L285.7 252.2L286.2 252.2L286.7 251.6L287.2 252.2L287.7 251.9L288.2 251.9L288.7 252.1L289.2 251.9L289.7 252.0L290.2 252.1L290.7 252.2L291.2 251.7L291.7 251.9L292.2 252.2L292.7 252.0L293.2 251.5L293.7 250.8L294.2 250.4L294.7 251.4L295.2 251.9L295.7 251.4L296.2 252.2L296.7 251.5L297.2 252.0L297.7 251.9L298.2 252.2L298.7 252.2L299.2 252.0L299.7 252.2L300.2 252.0L300.7 252.1L301.2 251.5L301.7 252.0L302.2 251.5L302.7 251.6L303.2 251.5L303.7 251.2L304.2 249.3L304.7 245.4L305.2 242.6L305.7 243.0L306.2 245.8L306.7 248.9L307.2 248.2L307.7 248.2L308.2 247.3L308.7 243.7L309.2 241.2L309.7 243.4L310.2 248.1L310.7 249.5L311.2 250.3L311.7 250.6L312.2 249.8L312.7 250.1L313.2 251.0L313.7 251.8L314.2 251.9L314.7 252.0L315.2 252.1L315.7 252.1L316.2 252.2L316.7 252.1L317.2 252.1L317.7 251.8L318.2 252.0L318.7 251.8L319.2 252.1L319.7 252.0L320.2 252.0L320.7 251.9L321.2 251.8L321.7 251.8L322.2 251.7L322.7 251.6L323.2 251.5L323.7 251.3L324.2 251.0L324.7 250.6L325.2 250.7L325.7 250.0L326.2 249.7L326.7 249.3L327.2 249.1L327.7 248.8L328.2 248.8L328.7 248.1L329.2 249.0L329.7 247.8L330.2 247.8L330.7 248.1L331.2 247.9L331.7 248.3L332.2 248.1L332.7 248.4L333.2 249.3L333.7 248.9L334.2 247.8L334.7 245.3L335.2 243.9L335.7 247.8L336.2 250.3L336.7 251.1L337.2 251.3L337.7 251.3L338.2 251.5L338.7 251.6L339.2 251.7L339.7 251.8L340.2 251.8L340.7 251.6L341.2 252.1L341.7 251.8L342.2 252.0L342.7 251.4L343.2 251.5L343.7 251.8L344.2 252.1L344.7 252.1L345.2 251.8L345.7 252.0L346.2 251.7L346.7 252.1L347.2 251.6L347.7 250.8L348.2 248.5L348.7 247.7L349.2 247.2L349.7 248.8L350.2 250.2L350.7 251.3L351.2 251.7L351.7 252.1L352.2 252.2L352.7 252.1L353.2 252.2L353.7 252.2L354.2 251.5L354.7 252.2L355.2 252.2L355.7 251.4L356.2 251.8L356.7 251.6L357.2 252.2L357.7 252.0L358.2 252.0L358.7 251.7L359.2 251.4L359.7 251.0L360.2 249.7L360.7 249.2L361.2 248.3L361.7 247.6L362.2 248.1L362.7 248.7L363.2 248.8L363.7 250.2L364.2 250.5L364.7 251.3L365.2 251.7L365.7 251.9L366.2 252.1L366.7 252.2L367.2 252.0L367.7 252.2L368.2 251.7L368.7 252.2L369.2 252.2L369.7 252.0L370.2 252.1L370.7 251.7L371.2 252.2L372.2 252.2L372.7 252.1L373.2 251.8L373.7 252.1L374.2 252.1L374.7 251.5L375.2 252.2L375.7 252.2L376.2 252.1L376.7 252.2L377.2 252.2L377.7 251.9L378.2 251.5L378.7 250.5L379.2 250.6L379.7 251.2L380.2 251.5L380.7 252.1L381.2 252.2L381.7 252.2L382.2 252.1L382.7 251.3L383.2 252.2L383.7 251.5L384.2 251.4L384.7 252.0L385.2 252.2L385.7 252.2L386.2 251.9L386.7 252.2L387.2 252.0L387.7 252.1L388.2 252.2L388.7 252.0L389.2 251.9L389.7 252.2L392.7 252.2L393.2 252.0L393.7 251.8L394.2 252.2L394.7 251.9L395.2 252.2L395.7 251.3L396.2 251.6L396.7 252.2L397.2 252.2L397.7 252.0L398.2 251.9L398.7 251.9L399.2 252.2L399.7 251.5L400.2 252.0L400.7 252.0L401.2 251.9L401.7 251.5L402.2 251.8L402.7 252.0L403.2 252.1L403.7 252.2L404.2 252.2L404.7 251.9L405.2 252.0L405.7 252.2L406.2 252.2L406.7 251.6L407.2 251.6L407.7 252.2L408.2 251.3L408.7 252.2L409.2 252.2L409.7 252.0L410.2 251.5L410.7 250.2L411.2 250.1L411.7 251.2L412.2 251.5L412.7 252.2L413.2 252.2L413.7 252.1L414.2 252.1L414.7 252.2L415.7 252.2L416.2 251.9L416.7 251.8L417.2 252.1L417.7 252.2L418.2 252.1L418.7 252.1L419.2 251.7L419.7 252.2L420.2 252.1L420.7 252.2L421.2 252.2L421.7 252.1L422.2 251.9L422.7 252.2L423.2 252.1L423.7 251.7L424.2 252.1L424.7 252.2L425.2 251.8L425.7 252.2L426.2 251.4L426.7 251.5L427.2 252.1L428.2 252.1L428.7 252.2L429.2 252.2L429.7 252.1L430.2 251.8L430.7 252.0L431.2 251.9L431.7 252.0L432.2 251.5L432.7 252.2L433.2 252.1L433.7 252.2L434.2 252.2L434.7 252.1L435.2 252.2L435.7 251.9L436.2 252.0L436.7 252.2L437.2 251.6L437.7 252.0L438.2 252.2L438.7 252.1L439.2 252.2L439.7 252.1L440.2 252.0L440.7 252.2L442.2 252.2L442.7 251.9L443.2 252.1L443.7 251.4L444.2 252.0L444.7 251.6L445.2 252.1L445.7 252.2L446.2 252.2L446.7 252.1L447.2 252.2L447.7 252.2L448.2 251.9L448.7 252.1L449.2 252.2L449.7 251.8L450.2 252.2L450.7 252.1L451.2 252.2L451.7 252.2L452.2 252.1L453.2 252.1L453.7 252.2L454.2 252.2L454.7 251.8L455.2 252.2L455.7 252.2L456.2 252.1L456.7 251.5L457.2 251.8L457.7 252.1L458.2 252.2L458.7 252.1L459.2 252.2L459.7 251.7L460.2 252.1L461.2 252.1L461.7 251.9L462.2 251.9L462.7 252.2L464.2 252.2L464.7 251.9L465.2 252.2L465.7 252.1L466.2 251.5L466.7 252.0L467.2 252.0L467.7 252.1L468.2 251.8L468.7 252.2L469.2 252.2L469.7 251.3L470.2 251.9L470.7 250.6L471.2 246.8L471.7 243.3L472.2 245.7L472.7 248.6L473.2 247.6L473.7 249.1L474.2 251.2L474.7 252.1L475.2 251.6L475.7 251.6L476.2 251.8L476.7 252.2L477.2 252.1L477.7 251.4L478.2 252.2L478.7 252.1L479.2 252.1L479.7 251.6L480.2 251.7L480.7 251.4L481.2 250.7L481.7 249.8L482.2 249.0L482.7 248.7L483.2 249.6L483.7 248.8L484.2 246.1L484.7 244.8L485.2 247.9L485.7 246.9L486.2 242.0L486.7 240.9L487.2 246.0L487.7 247.5L488.2 244.7L488.7 244.7L489.2 248.1L489.7 249.8L490.2 250.1L490.7 250.9L491.2 251.1L491.7 251.5L492.2 250.8L492.7 249.5L493.2 247.1L493.7 247.8L494.2 248.6L494.7 249.8L495.2 248.3L495.7 248.3L496.2 249.3L496.7 250.4L497.2 249.6L497.7 249.9L498.2 250.4L498.7 251.4L499.2 251.9L499.7 251.8L500.2 252.2L501.2 252.2L501.7 252.1L502.2 252.2L502.7 252.0L503.7 252.0L504.2 252.1L504.7 251.7L505.2 251.9L505.7 251.5L506.2 251.8L506.7 252.1L507.2 251.5L507.7 251.5L508.2 251.6L508.7 252.1L509.2 252.1L509.7 252.2L510.7 252.2L511.2 252.0L511.7 251.6L512.2 252.2L512.0 253.2 Z" fill="#29297a"/>
<path d="M120.2 269.2L120.2 268.3L122.2 268.3L122.7 267.8L123.2 268.3L123.7 268.3L124.2 268.1L124.7 268.3L125.2 268.3L125.7 268.0L126.2 268.3L126.7 268.0L127.2 268.0L127.7 268.3L128.2 268.2L128.7 267.9L129.2 267.5L129.7 267.0L130.2 266.6L130.7 266.5L131.2 267.0L131.7 267.6L132.2 267.9L132.7 267.8L133.2 268.3L134.2 268.3L134.7 267.8L135.2 267.9L135.7 268.2L136.2 268.1L136.7 268.3L137.2 268.2L137.7 268.1L138.2 268.2L138.7 268.3L139.7 268.3L140.2 268.2L140.7 267.9L141.2 268.1L141.7 268.3L142.2 268.3L142.7 268.1L143.2 268.1L143.7 268.3L144.2 268.3L144.7 268.2L145.2 268.3L145.7 268.2L146.2 268.0L146.7 268.3L147.7 268.3L148.2 268.1L148.7 268.2L149.2 268.2L149.7 268.3L151.2 268.3L151.7 268.1L152.2 268.3L152.7 268.0L153.2 267.9L153.7 268.3L154.2 268.3L154.7 268.2L155.2 268.3L155.7 268.0L156.2 268.3L156.7 268.3L157.2 267.9L157.7 268.1L158.2 268.1L158.7 268.2L159.2 267.8L159.7 268.0L160.2 268.3L160.7 268.1L161.2 267.3L161.7 265.4L162.2 264.9L162.7 265.5L163.2 267.4L163.7 268.1L164.2 268.0L164.7 268.3L165.2 267.8L165.7 268.3L166.2 268.3L166.7 268.2L167.2 268.1L167.7 268.0L168.2 268.3L169.7 268.3L170.2 268.2L170.7 268.3L171.2 268.3L171.7 268.2L172.2 268.1L172.7 268.3L173.2 268.2L173.7 268.2L174.2 268.3L174.7 268.3L175.2 267.8L175.7 268.3L176.2 267.9L176.7 268.3L177.2 268.3L177.7 268.2L178.2 268.3L178.7 267.8L179.2 268.2L179.7 268.0L180.2 268.2L180.7 268.0L181.2 268.3L184.2 268.3L184.7 267.8L185.2 268.2L185.7 268.2L186.2 267.9L186.7 268.3L189.2 268.3L189.7 268.0L190.2 268.3L190.7 268.1L191.2 268.3L191.7 268.3L192.2 267.9L192.7 268.3L193.2 267.8L193.7 267.8L194.2 266.5L194.7 264.0L195.2 263.3L195.7 261.4L196.2 264.2L196.7 266.2L197.2 267.6L197.7 268.2L198.2 268.3L198.7 268.2L199.2 268.2L199.7 268.1L200.2 268.2L200.7 268.3L201.2 268.3L201.7 268.0L202.2 268.3L202.7 267.8L203.2 267.8L203.7 268.0L204.2 268.2L204.7 268.3L205.2 268.0L205.7 268.3L206.2 268.0L206.7 267.9L207.2 268.3L208.7 268.3L209.2 267.9L209.7 268.2L210.2 268.3L210.7 268.1L211.2 268.3L212.2 268.3L212.7 268.2L213.2 268.2L213.7 268.1L214.2 268.3L214.7 268.2L215.2 268.1L215.7 268.3L216.2 267.8L216.7 268.3L217.7 268.3L218.2 267.9L218.7 268.0L219.2 268.1L219.7 268.2L220.2 268.3L220.7 268.2L221.2 268.3L222.2 268.3L222.7 267.8L223.2 268.3L224.7 268.3L225.2 268.2L225.7 268.2L226.2 268.3L227.7 268.3L228.2 268.2L228.7 268.1L229.2 268.1L229.7 268.3L230.2 267.9L230.7 267.8L231.2 268.1L231.7 268.3L232.2 268.3L232.7 268.2L233.2 268.1L233.7 267.8L234.2 267.9L234.7 268.3L235.2 268.3L235.7 268.2L236.2 268.3L236.7 268.2L237.2 268.3L237.7 268.2L238.2 268.2L238.7 268.3L239.7 268.3L240.2 268.2L240.7 268.1L241.2 268.3L241.7 267.8L242.2 268.3L242.7 267.8L243.2 268.3L243.7 268.2L244.2 268.0L244.7 268.3L245.2 268.3L245.7 267.9L246.2 268.1L246.7 268.1L247.2 268.3L247.7 267.9L248.2 268.3L248.7 268.3L249.2 268.0L249.7 268.3L250.2 268.1L250.7 268.0L251.2 268.3L251.7 268.3L252.2 268.2L252.7 268.3L253.2 268.3L253.7 268.2L254.2 268.0L254.7 268.3L255.2 268.3L255.7 268.1L256.2 268.3L257.2 268.3L257.7 267.8L258.2 268.2L258.7 268.3L259.2 268.3L259.7 267.9L260.2 268.2L260.7 268.3L261.2 268.3L261.7 268.1L262.2 268.3L264.7 268.3L265.2 268.1L265.7 268.0L266.2 267.8L266.7 267.4L267.2 266.6L267.7 265.8L268.2 265.4L268.7 264.5L269.2 264.0L269.7 264.7L270.2 264.8L270.7 265.6L271.2 265.7L271.7 266.7L272.2 267.3L272.7 267.7L273.2 267.9L273.7 267.9L274.2 268.2L274.7 268.3L276.7 268.3L277.2 268.0L277.7 267.9L278.2 268.3L279.2 268.3L279.7 268.2L280.2 267.8L280.7 267.2L281.2 267.1L281.7 267.6L282.2 267.9L282.7 268.3L283.2 267.8L283.7 268.3L284.2 268.1L284.7 268.3L285.2 267.9L285.7 268.3L286.2 268.0L286.7 267.9L287.2 268.3L287.7 268.2L288.2 267.9L288.7 268.2L289.2 268.3L289.7 268.3L290.2 268.2L290.7 268.3L291.2 268.2L291.7 268.3L292.2 268.2L292.7 268.3L293.2 268.0L293.7 268.3L295.7 268.3L296.2 267.8L296.7 268.3L298.7 268.3L299.2 268.2L299.7 268.3L300.2 268.3L300.7 266.6L301.2 256.4L301.7 257.1L302.2 257.1L302.7 258.5L303.2 256.6L303.7 255.8L304.2 256.3L304.7 258.8L305.2 255.8L305.7 258.4L306.2 256.6L306.7 257.5L307.2 255.9L307.7 258.7L308.2 258.1L308.7 257.2L309.2 258.5L309.7 259.9L310.2 258.2L310.7 259.3L311.2 258.0L311.7 258.7L312.2 258.0L312.7 258.4L313.2 258.1L313.7 264.7L314.2 268.3L314.7 268.1L315.2 268.0L315.7 268.2L316.2 267.9L316.7 266.3L317.2 255.8L317.7 256.9L318.2 258.7L318.7 257.1L319.2 257.5L319.7 255.9L320.2 258.2L320.7 258.4L321.2 256.6L321.7 257.0L322.2 258.5L322.7 259.4L323.2 259.2L323.7 260.5L324.2 258.0L324.7 258.3L325.2 258.5L325.7 256.6L326.2 258.2L326.7 256.6L327.2 256.8L327.7 258.8L328.2 255.9L328.7 258.1L329.2 258.0L329.7 266.5L330.2 263.1L330.7 258.6L331.2 256.9L331.7 258.6L332.2 256.5L332.7 256.9L333.2 258.4L333.7 257.6L334.2 257.8L334.7 260.6L335.2 259.0L335.7 257.5L336.2 256.4L336.7 257.5L337.2 256.1L337.7 256.7L338.2 258.0L338.7 258.4L339.2 258.7L339.7 256.8L340.2 257.2L340.7 260.6L341.2 268.1L341.7 268.2L342.2 268.3L342.7 267.8L343.2 268.1L343.7 268.0L344.2 267.9L344.7 268.3L346.2 268.3L346.7 268.1L347.2 268.1L347.7 267.8L348.2 267.0L348.7 266.4L349.2 266.1L349.7 267.0L350.2 267.6L350.7 268.1L351.2 267.9L351.7 268.2L352.2 268.3L352.7 268.2L353.2 268.3L357.2 268.3L357.7 267.9L358.2 268.0L358.7 267.8L359.2 267.3L359.7 266.6L360.2 265.0L360.7 257.9L361.2 257.7L361.7 262.0L362.2 262.4L362.7 263.0L363.2 257.7L363.7 256.9L364.2 262.7L364.7 267.1L365.2 267.6L365.7 268.0L366.2 268.2L366.7 268.1L367.2 268.3L367.7 268.3L368.2 268.2L368.7 268.3L369.2 268.1L369.7 267.8L370.2 268.3L370.7 268.3L371.2 268.2L371.7 268.1L372.2 268.2L372.7 268.3L373.2 268.3L373.7 267.9L374.2 268.3L374.7 268.2L375.2 267.8L375.7 268.3L376.2 267.8L376.7 268.3L377.2 268.3L377.7 268.2L378.2 267.8L378.7 267.3L379.2 267.0L379.7 267.6L380.2 268.1L380.7 268.3L381.2 268.1L381.7 268.1L382.2 268.3L382.7 267.8L383.2 268.3L385.7 268.3L386.2 268.2L386.7 268.3L387.2 268.3L387.7 268.0L388.2 268.3L390.7 268.3L391.2 268.2L391.7 268.3L392.2 267.9L392.7 267.9L393.2 268.3L395.2 268.3L395.7 267.8L396.2 268.3L396.7 268.3L397.2 268.1L397.7 268.3L399.2 268.3L399.7 268.0L400.2 268.2L400.7 268.3L401.7 268.3L402.2 268.0L402.7 268.3L403.2 268.1L403.7 267.9L404.2 267.6L404.7 267.2L405.2 267.0L405.7 267.4L406.2 267.9L406.7 268.2L407.2 268.2L407.7 268.3L409.2 268.3L409.7 268.0L410.2 268.3L410.7 267.9L411.2 268.1L411.7 268.1L412.2 268.3L412.7 268.1L413.2 268.2L413.7 267.9L414.2 268.2L414.7 268.3L415.2 268.1L415.7 268.2L416.2 268.0L416.7 268.3L417.2 267.9L417.7 267.9L418.2 268.1L418.7 268.3L422.2 268.3L422.7 267.9L423.2 268.3L423.7 268.3L424.2 268.0L424.7 268.1L425.2 268.3L427.7 268.3L428.2 268.1L428.7 268.3L429.2 268.2L429.7 268.3L430.2 268.3L430.7 267.9L431.2 267.9L431.7 268.3L432.2 268.3L432.7 268.1L433.2 268.2L433.7 268.3L434.2 268.2L434.7 268.3L435.2 268.3L435.7 267.8L436.2 268.3L436.7 268.3L437.2 268.1L437.7 268.1L438.2 268.2L438.7 268.3L440.2 268.3L440.7 268.1L441.2 268.3L444.7 268.3L445.2 268.0L445.7 268.3L447.2 268.3L447.7 268.2L448.2 268.2L448.7 267.8L449.2 268.1L449.7 267.9L450.2 268.2L450.7 268.1L451.2 268.1L451.7 268.3L454.7 268.3L455.2 268.0L455.7 268.1L456.2 268.3L456.7 268.0L457.2 267.9L457.7 267.8L458.2 268.2L458.7 268.3L460.2 268.3L460.7 267.9L461.2 268.3L461.7 268.2L462.2 268.0L462.7 268.0L463.2 268.3L465.2 268.3L465.7 267.8L466.2 268.3L466.7 268.2L467.2 268.2L467.7 268.3L468.2 268.2L468.7 268.0L469.2 267.6L469.7 266.8L470.2 263.0L470.7 259.1L471.2 261.7L471.7 261.9L472.2 261.1L472.7 261.8L473.2 260.0L473.7 261.7L474.2 264.7L474.7 262.6L475.2 265.3L475.7 267.6L476.2 267.9L476.7 268.3L478.2 268.3L478.7 267.9L479.2 268.3L479.7 268.0L480.2 268.3L483.2 268.3L483.7 259.4L484.2 258.6L484.7 258.2L485.2 257.0L485.7 257.3L486.2 257.9L486.7 256.7L487.2 258.5L487.7 259.2L488.2 257.4L488.7 258.1L489.2 259.9L489.7 259.5L490.2 261.4L490.7 261.1L491.2 259.7L491.7 259.0L492.2 259.6L492.7 257.3L493.2 258.3L493.7 258.4L494.2 259.3L494.7 258.2L495.2 259.0L495.7 258.4L496.2 257.5L496.7 259.3L497.2 257.5L497.7 259.0L498.2 260.7L498.7 268.3L499.2 268.3L499.7 268.1L500.2 268.1L500.7 268.3L501.2 268.3L501.7 268.1L502.2 268.3L502.7 268.2L503.2 267.8L503.7 268.3L504.7 268.3L505.2 268.1L505.7 268.3L506.2 268.2L506.7 268.1L507.2 268.2L507.7 268.1L508.2 268.3L509.2 268.3L509.7 268.1L510.2 268.3L510.7 267.8L511.2 267.9L511.7 268.2L512.2 268.3L512.0 269.2 Z" fill="#29297a"/>
<path d="M120.2 284.6L120.2 283.5L120.7 283.8L121.2 283.6L121.7 283.8L125.2 283.8L125.7 283.6L126.2 283.5L126.7 283.8L127.2 283.7L127.7 283.8L128.2 283.8L128.7 283.7L129.2 283.7L129.7 283.8L130.7 283.8L131.2 283.4L131.7 283.4L132.2 283.2L132.7 282.6L133.7 282.6L134.2 282.7L134.7 283.2L135.2 283.5L135.7 283.7L136.2 283.6L136.7 283.5L137.2 283.5L137.7 283.8L140.7 283.8L141.2 283.7L141.7 283.8L142.7 283.8L143.2 283.5L143.7 283.8L144.2 283.6L144.7 283.8L145.2 283.8L145.7 283.4L146.2 283.8L146.7 283.8L147.2 283.4L147.7 283.5L148.2 283.8L148.7 283.5L149.2 283.8L150.2 283.8L150.7 283.5L151.2 283.7L152.2 283.7L152.7 283.8L154.2 283.8L154.7 283.7L155.2 283.8L158.7 283.8L159.2 283.6L159.7 283.7L160.2 283.8L162.7 283.8L163.2 283.7L163.7 283.7L164.2 283.8L164.7 283.8L165.2 283.4L165.7 283.8L166.2 283.5L166.7 283.5L167.2 283.6L167.7 283.7L168.2 283.7L168.7 283.8L172.7 283.8L173.2 283.7L173.7 283.8L174.2 283.7L174.7 283.7L175.2 283.8L175.7 283.8L176.2 283.7L176.7 283.5L177.2 283.7L177.7 283.8L179.2 283.8L179.7 283.6L180.2 283.6L180.7 283.8L181.2 283.6L181.7 283.5L182.2 283.8L183.7 283.8L184.2 283.6L184.7 283.8L185.2 283.8L185.7 283.7L186.2 283.6L186.7 283.5L187.2 283.5L187.7 283.8L188.2 283.8L188.7 283.5L189.2 283.6L189.7 283.6L190.2 283.7L190.7 283.5L191.2 283.3L191.7 282.7L192.2 282.5L192.7 283.2L193.2 283.4L193.7 283.7L194.2 283.8L195.2 283.8L195.7 283.6L196.2 283.7L196.7 283.5L197.2 283.8L198.2 283.8L198.7 283.5L199.2 283.8L199.7 283.6L200.2 283.6L200.7 283.5L201.2 283.8L201.7 283.8L202.2 283.7L202.7 283.8L204.7 283.8L205.2 283.7L205.7 283.5L206.2 283.6L206.7 283.6L207.2 283.8L207.7 283.7L208.2 283.8L209.7 283.8L210.2 283.5L210.7 283.5L211.2 283.6L211.7 283.8L212.2 283.6L212.7 283.8L214.7 283.8L215.2 283.5L215.7 283.7L216.2 283.8L218.7 283.8L219.2 283.5L219.7 283.8L220.2 283.8L220.7 283.5L221.2 283.8L221.7 283.8L222.2 283.5L222.7 283.6L223.2 283.8L224.7 283.8L225.2 283.4L225.7 283.7L226.2 283.8L226.7 283.5L227.2 283.8L228.7 283.8L229.2 283.5L229.7 283.8L231.2 283.8L231.7 283.6L232.2 283.8L232.7 283.6L233.2 283.7L233.7 283.8L234.2 283.5L234.7 283.8L235.2 283.6L235.7 283.5L236.2 283.8L237.2 283.8L237.7 283.7L238.2 283.7L238.7 283.8L241.7 283.8L242.2 283.7L242.7 283.8L243.2 283.5L243.7 283.8L244.2 283.7L244.7 283.8L245.2 283.7L245.7 283.8L246.2 283.8L246.7 283.5L247.2 283.8L248.2 283.8L248.7 283.7L249.2 283.4L249.7 283.7L250.2 283.5L250.7 283.7L251.2 283.8L251.7 283.7L252.2 283.7L252.7 283.4L253.2 283.6L253.7 283.7L254.2 283.8L254.7 283.8L255.2 283.6L255.7 283.8L256.2 283.7L256.7 283.8L258.2 283.8L258.7 283.7L259.2 283.8L260.7 283.8L261.2 283.7L261.7 283.4L262.2 283.6L262.7 283.5L263.2 283.7L263.7 283.5L264.2 283.8L264.7 283.8L265.2 283.7L265.7 283.5L266.2 283.1L266.7 282.1L267.2 281.5L267.7 281.1L268.2 281.8L268.7 283.0L269.2 283.5L269.7 283.7L270.2 283.6L270.7 283.7L271.2 283.7L271.7 283.8L272.2 283.7L272.7 283.8L273.2 283.5L273.7 283.6L274.2 283.7L274.7 283.8L276.2 283.8L276.7 283.4L277.2 283.5L277.7 283.8L278.7 283.8L279.2 283.4L279.7 283.8L280.2 283.7L280.7 283.8L282.2 283.8L282.7 283.7L283.2 283.8L284.2 283.8L284.7 283.5L285.2 283.6L285.7 283.8L286.2 283.7L286.7 283.8L287.7 283.8L288.2 283.7L288.7 283.8L289.2 283.5L289.7 283.8L290.2 283.5L290.7 283.8L291.2 283.7L291.7 283.8L292.2 283.8L292.7 283.6L293.2 283.8L293.7 283.7L294.2 283.8L294.7 283.7L295.2 283.4L295.7 283.4L296.2 283.5L296.7 283.8L297.2 283.8L297.7 283.6L298.2 283.6L298.7 283.8L299.7 283.8L300.2 283.7L300.7 283.8L301.2 283.8L301.7 283.5L302.2 283.7L302.7 283.8L303.2 283.6L303.7 283.7L304.2 283.7L304.7 283.6L305.2 283.4L305.7 283.1L306.2 282.6L306.7 282.0L307.2 281.4L307.7 281.1L308.2 277.2L308.7 274.3L309.2 275.7L309.7 280.8L310.2 281.7L310.7 282.5L311.2 283.1L311.7 283.4L312.2 283.4L312.7 283.3L313.2 283.2L313.7 282.7L314.2 282.6L314.7 282.0L315.2 281.9L315.7 281.6L316.2 281.4L316.7 281.5L317.2 282.0L317.7 282.5L318.2 282.8L318.7 283.1L319.2 282.9L319.7 282.4L320.2 281.5L320.7 281.2L321.2 281.2L321.7 281.4L322.2 280.0L322.7 279.2L323.2 278.7L323.7 279.9L324.2 278.5L324.7 278.2L325.2 277.9L325.7 276.0L326.2 277.1L326.7 278.5L327.2 282.0L327.7 283.5L328.2 283.8L329.2 283.8L329.7 283.5L330.2 283.0L330.7 281.8L331.2 279.7L331.7 278.4L332.2 279.8L332.7 280.7L333.2 282.5L333.7 283.4L334.2 283.7L334.7 283.8L335.2 283.7L335.7 283.8L336.2 283.8L336.7 283.6L337.2 283.7L337.7 283.8L338.2 283.5L338.7 283.4L339.2 283.8L339.7 283.7L340.2 283.8L340.7 283.8L341.2 283.4L341.7 283.8L343.2 283.8L343.7 283.4L344.2 283.8L344.7 283.7L345.2 283.7L345.7 283.5L346.2 283.7L346.7 283.7L347.2 283.5L347.7 283.7L348.2 283.7L348.7 283.8L350.2 283.8L350.7 283.5L351.2 283.8L351.7 283.7L352.2 283.8L352.7 283.7L353.2 283.8L353.7 283.5L354.2 283.8L355.7 283.8L356.2 283.7L356.7 283.8L357.2 283.5L357.7 283.6L358.2 283.8L359.7 283.8L360.2 283.7L360.7 283.8L361.2 283.8L361.7 283.6L362.2 283.7L363.2 283.7L363.7 283.6L364.2 283.5L364.7 283.7L365.2 283.7L365.7 283.6L366.2 283.7L366.7 283.6L368.2 283.6L368.7 283.7L369.2 283.5L369.7 283.8L370.7 283.8L371.2 283.5L371.7 283.8L376.7 283.8L377.2 283.6L377.7 283.7L378.2 283.8L379.2 283.8L379.7 283.5L380.2 283.8L383.2 283.8L383.7 283.6L384.2 283.8L384.7 283.8L385.2 283.7L385.7 283.7L386.2 283.6L386.7 283.8L387.2 283.6L387.7 283.8L388.7 283.8L389.2 283.7L389.7 283.8L392.2 283.8L392.7 283.7L393.7 283.7L394.2 283.8L394.7 283.5L395.2 283.4L395.7 283.7L396.2 283.6L396.7 283.8L397.7 283.8L398.2 283.7L398.7 283.8L399.2 283.6L399.7 283.8L400.2 283.8L400.7 283.5L401.2 283.7L401.7 283.7L402.2 283.8L402.7 283.8L403.2 283.4L403.7 283.5L404.2 283.8L405.7 283.8L406.2 283.6L406.7 283.5L407.2 283.8L407.7 283.8L408.2 283.6L408.7 283.3L409.2 282.7L409.7 281.9L410.2 282.0L410.7 282.6L411.2 283.3L411.7 283.6L412.7 283.6L413.2 283.8L414.2 283.8L414.7 283.5L415.2 283.7L415.7 283.8L416.2 283.7L416.7 283.8L417.2 283.7L417.7 283.6L418.2 283.8L418.7 283.8L419.2 283.4L419.7 283.5L420.2 283.6L420.7 283.5L421.2 283.5L421.7 283.8L422.2 283.5L422.7 283.5L423.2 283.8L423.7 283.4L424.2 283.8L424.7 283.8L425.2 283.7L425.7 283.6L426.2 283.8L426.7 283.8L427.2 283.7L427.7 283.8L428.2 283.7L428.7 283.8L429.2 283.4L429.7 283.5L430.2 283.8L430.7 283.8L431.2 283.5L432.2 283.5L432.7 283.7L433.2 283.4L433.7 282.5L434.2 281.1L434.7 280.2L435.2 278.2L435.7 278.6L436.2 279.4L436.7 281.1L437.2 282.3L437.7 283.3L438.2 283.6L438.7 283.7L439.2 283.5L439.7 283.8L440.2 283.8L440.7 283.5L441.2 283.6L441.7 283.6L442.2 283.8L442.7 283.7L443.2 283.7L443.7 283.6L444.2 283.8L444.7 283.4L445.2 283.8L445.7 283.8L446.2 283.5L446.7 283.8L447.2 283.7L447.7 283.8L449.2 283.8L449.7 283.7L450.2 283.8L450.7 283.5L451.2 283.7L451.7 283.1L452.2 280.9L452.7 278.0L453.2 278.2L453.7 280.0L454.2 282.7L454.7 283.6L455.2 283.6L455.7 283.8L456.7 283.8L457.2 283.4L457.7 283.7L458.2 283.2L458.7 282.1L459.2 282.3L459.7 283.0L460.2 283.6L460.7 283.7L461.2 283.8L461.7 283.7L462.2 283.6L462.7 283.6L463.2 283.8L463.7 283.6L464.2 283.7L464.7 283.7L465.2 283.6L465.7 283.7L466.2 283.7L466.7 283.8L467.7 283.8L468.2 283.7L468.7 283.6L469.2 283.7L469.7 283.7L470.2 283.8L470.7 283.8L471.2 283.7L471.7 283.8L472.2 283.8L472.7 283.7L473.2 283.4L473.7 280.9L474.2 276.5L474.7 274.4L475.2 276.3L475.7 281.4L476.2 283.3L476.7 283.7L477.2 283.7L477.7 283.8L478.2 283.6L479.2 283.6L479.7 283.1L480.2 281.5L480.7 278.2L481.2 274.9L481.7 274.5L482.2 275.1L482.7 280.0L483.2 282.3L483.7 283.3L484.2 278.6L484.7 271.5L485.2 270.8L485.7 272.0L486.2 271.1L486.7 271.3L487.2 270.4L487.7 272.4L488.2 272.6L488.7 270.7L489.2 272.7L489.7 272.5L490.2 272.7L490.7 278.6L491.2 283.5L491.7 283.0L492.2 281.6L492.7 278.1L493.2 273.2L493.7 274.0L494.2 272.9L494.7 275.0L495.2 278.4L495.7 281.3L496.2 281.3L496.7 280.2L497.2 280.3L497.7 281.2L498.2 281.8L498.7 282.9L499.2 283.4L499.7 283.7L500.2 283.8L500.7 283.6L501.2 283.7L501.7 283.6L502.2 283.8L502.7 283.7L503.7 283.7L504.2 283.4L504.7 283.6L505.2 283.8L505.7 283.6L506.2 283.8L506.7 283.8L507.2 283.6L507.7 283.8L508.2 283.5L508.7 283.6L509.2 283.8L509.7 283.6L510.2 283.7L510.7 283.6L511.2 283.6L511.7 283.8L512.2 283.8L512.0 284.6 Z" fill="#29297a"/>
<path d="M120.2 299.9L120.2 298.2L120.7 298.9L121.2 297.8L121.7 298.8L122.2 298.8L122.7 298.7L123.2 298.9L123.7 298.9L124.2 298.8L124.7 298.9L125.2 298.6L125.7 298.8L126.2 298.9L127.2 298.9L127.7 298.5L128.2 298.0L128.7 298.9L129.2 298.3L129.7 298.9L130.2 298.4L130.7 298.9L131.2 298.7L131.7 298.8L132.2 298.1L132.7 298.4L133.2 298.9L133.7 298.9L134.2 298.8L134.7 298.9L135.2 298.9L135.7 297.8L136.2 297.9L136.7 298.9L137.2 298.9L137.7 298.6L138.2 297.8L138.7 298.0L139.2 298.5L139.7 298.4L140.2 298.8L140.7 298.8L141.2 298.1L141.7 298.9L142.2 298.6L142.7 298.5L143.2 298.9L143.7 298.4L144.2 298.9L144.7 297.7L145.2 298.4L145.7 298.8L146.2 298.7L146.7 297.7L147.2 298.9L147.7 298.9L148.2 298.5L148.7 298.0L149.2 298.9L149.7 298.4L150.2 298.9L150.7 298.6L151.2 298.8L151.7 297.8L152.2 298.7L152.7 297.7L153.2 297.8L153.7 298.9L154.2 297.9L154.7 298.4L155.2 298.9L155.7 298.7L156.2 298.9L157.7 298.9L158.2 298.1L158.7 298.9L159.2 298.7L159.7 298.1L160.2 298.9L160.7 298.5L161.2 298.7L161.7 298.4L162.2 298.8L162.7 297.7L163.2 298.8L163.7 298.9L165.2 298.9L165.7 297.8L166.2 298.9L166.7 298.2L167.2 298.4L167.7 298.8L168.2 298.9L168.7 298.9L169.2 297.9L169.7 298.8L170.2 298.4L170.7 298.9L172.7 298.9L173.2 298.6L173.7 298.7L174.2 298.7L174.7 298.9L175.2 298.8L175.7 298.9L176.2 298.7L176.7 298.9L177.2 298.6L177.7 297.8L178.2 298.9L178.7 298.7L179.2 298.9L179.7 298.2L180.2 298.8L180.7 298.7L181.2 298.7L181.7 298.9L182.2 298.1L182.7 298.9L183.2 298.9L183.7 298.8L184.2 297.9L184.7 298.5L185.2 298.0L185.7 298.9L186.2 298.7L186.7 298.7L187.2 298.9L189.7 298.9L190.2 298.1L190.7 298.7L191.2 298.4L191.7 298.7L192.2 298.8L192.7 298.0L193.2 298.9L193.7 298.7L194.2 298.3L194.7 297.2L195.2 297.1L195.7 298.0L196.2 298.4L196.7 298.9L197.2 298.8L197.7 298.4L198.2 298.5L198.7 298.0L199.2 298.9L199.7 298.8L200.2 298.9L200.7 298.0L201.2 298.9L201.7 298.3L202.2 298.8L202.7 298.4L203.2 298.3L203.7 298.1L204.2 298.0L204.7 298.8L205.2 298.6L205.7 297.9L206.2 298.3L206.7 298.8L207.2 298.2L207.7 298.4L208.2 298.8L209.2 298.8L209.7 297.9L210.2 298.9L210.7 297.8L211.2 298.9L211.7 298.9L212.2 298.5L212.7 298.5L213.2 298.9L213.7 298.9L214.2 298.7L214.7 298.4L215.2 298.0L215.7 296.4L216.2 296.4L216.7 297.8L217.2 298.6L217.7 298.6L218.2 298.9L218.7 298.7L219.2 298.8L219.7 298.7L220.2 297.7L220.7 298.8L221.2 298.9L222.2 298.9L222.7 298.5L223.2 298.0L223.7 298.6L224.2 298.9L224.7 298.9L225.2 298.8L225.7 298.9L226.2 298.9L226.7 298.6L227.2 298.9L227.7 298.8L228.2 298.2L228.7 298.8L229.2 298.9L229.7 298.8L230.2 297.9L230.7 297.9L231.2 296.6L231.7 296.8L232.2 297.7L232.7 298.6L233.2 298.5L233.7 298.9L234.2 298.2L234.7 298.0L235.2 298.4L235.7 298.9L236.2 298.9L236.7 298.8L237.2 298.9L237.7 298.9L238.2 298.5L238.7 298.2L239.2 298.2L239.7 298.0L240.2 298.7L240.7 298.8L241.2 297.6L241.7 298.9L242.2 298.4L242.7 298.9L243.2 297.9L243.7 298.7L244.2 297.6L244.7 298.2L245.2 298.7L245.7 298.8L246.2 298.9L247.2 298.9L247.7 298.7L248.2 298.9L248.7 298.9L249.2 298.7L249.7 298.6L250.2 298.9L250.7 298.9L251.2 298.0L251.7 298.5L252.2 298.3L252.7 298.9L253.2 298.9L253.7 298.6L254.2 298.7L254.7 298.7L255.2 298.9L255.7 298.7L256.2 298.2L256.7 298.8L257.2 298.8L257.7 298.9L259.2 298.9L259.7 297.7L260.2 298.9L260.7 298.9L261.2 298.7L261.7 298.9L262.2 298.3L262.7 298.9L264.2 298.9L264.7 298.3L265.2 298.7L265.7 298.7L266.2 297.8L266.7 298.9L267.2 298.3L267.7 298.9L268.2 298.1L268.7 297.7L269.2 298.8L269.7 298.2L270.2 298.8L270.7 298.9L271.2 298.8L271.7 298.6L272.2 298.8L272.7 298.8L273.2 298.9L273.7 298.7L274.2 298.5L274.7 298.7L275.2 298.9L275.7 298.5L276.2 298.3L276.7 297.8L277.2 296.0L277.7 295.6L278.2 297.5L278.7 298.6L279.2 297.9L279.7 298.6L280.2 298.2L280.7 298.7L281.2 298.2L281.7 297.3L282.2 297.1L282.7 297.9L283.2 298.6L283.7 298.8L284.2 298.7L284.7 298.9L285.2 298.9L285.7 298.2L286.2 298.9L286.7 298.9L287.2 298.1L287.7 298.0L288.2 298.8L288.7 298.9L289.2 298.3L289.7 298.7L290.2 298.8L290.7 298.9L291.2 298.7L291.7 298.8L292.2 298.9L292.7 297.6L293.2 298.8L293.7 298.9L294.2 298.5L294.7 298.9L295.2 298.9L295.7 298.8L296.2 298.9L296.7 298.8L297.2 298.9L297.7 298.4L298.2 298.7L298.7 298.2L299.2 298.9L299.7 298.9L300.2 298.7L300.7 298.7L301.2 298.9L301.7 298.9L302.2 298.8L302.7 297.7L303.2 298.4L303.7 298.9L304.2 298.6L304.7 298.4L305.2 298.8L305.7 298.7L306.2 298.4L306.7 298.4L307.2 298.0L307.7 297.7L308.2 297.2L308.7 296.8L309.2 295.7L309.7 295.7L310.2 294.5L310.7 292.3L311.2 290.8L311.7 294.8L312.2 295.7L312.7 294.2L313.2 292.9L313.7 296.3L314.2 297.7L314.7 298.0L315.2 298.0L315.7 297.6L316.2 297.5L316.7 297.2L317.2 296.8L317.7 297.0L318.2 296.9L318.7 296.6L319.2 297.0L319.7 297.4L320.2 297.6L320.7 298.1L321.2 298.3L321.7 298.4L322.2 297.1L322.7 293.9L323.2 293.8L323.7 296.2L324.2 298.4L324.7 298.5L325.2 297.9L325.7 298.5L326.2 297.0L326.7 294.8L327.2 294.4L327.7 296.4L328.2 298.3L328.7 298.8L329.2 298.3L329.7 298.7L330.2 297.6L330.7 294.4L331.2 292.5L331.7 295.0L332.2 297.6L332.7 297.7L333.2 297.2L333.7 296.2L334.2 296.6L334.7 297.1L335.2 297.5L335.7 298.3L336.2 297.8L336.7 298.3L337.2 298.1L337.7 298.4L338.2 298.2L338.7 298.9L339.2 298.8L339.7 298.9L340.2 297.8L340.7 298.5L341.2 298.9L341.7 298.9L342.2 298.6L342.7 298.9L343.2 298.3L343.7 298.9L344.2 298.4L344.7 298.9L345.2 298.7L345.7 298.9L346.2 298.9L346.7 298.7L347.2 298.8L347.7 298.3L348.2 298.8L348.7 298.6L349.2 298.5L349.7 298.7L350.2 298.3L350.7 298.9L351.2 298.9L351.7 298.3L352.2 298.7L352.7 298.8L353.2 298.1L353.7 298.1L354.2 298.9L354.7 298.8L355.2 298.9L356.2 298.9L356.7 298.8L357.2 298.8L357.7 298.7L358.2 298.7L358.7 298.4L359.2 298.6L359.7 298.5L360.2 297.7L360.7 297.5L361.2 296.8L361.7 296.9L362.2 296.0L362.7 296.3L363.2 296.6L363.7 296.8L364.2 297.3L364.7 298.1L365.2 298.3L365.7 298.6L366.2 298.7L366.7 298.8L367.2 298.9L367.7 298.9L368.2 298.8L368.7 297.8L369.2 298.3L369.7 298.9L370.2 298.7L370.7 298.9L371.2 298.8L371.7 298.8L372.2 298.9L372.7 298.9L373.2 298.2L373.7 298.9L374.2 297.9L374.7 298.4L375.2 298.9L375.7 298.7L376.2 298.5L376.7 298.8L377.2 298.7L377.7 298.9L378.2 297.8L378.7 298.9L379.2 298.8L379.7 298.9L380.2 298.6L380.7 298.4L381.2 298.9L381.7 298.2L382.2 297.7L382.7 298.9L384.2 298.9L384.7 298.7L385.2 298.9L385.7 298.9L386.2 298.5L386.7 298.9L387.2 297.6L387.7 298.5L388.2 298.9L388.7 298.3L389.2 298.8L389.7 298.6L390.2 298.9L390.7 298.8L391.2 298.6L391.7 298.4L392.2 298.8L392.7 298.2L393.2 298.9L393.7 297.9L394.2 298.4L394.7 297.8L395.2 297.9L395.7 298.2L396.2 298.3L396.7 298.9L397.2 297.9L397.7 298.9L398.2 298.0L398.7 298.9L399.2 298.9L399.7 298.5L400.2 298.9L400.7 298.7L401.2 298.0L401.7 297.6L402.2 298.9L403.2 298.9L403.7 298.8L404.2 298.2L404.7 298.9L405.2 298.9L405.7 297.9L406.2 298.9L406.7 298.9L407.2 297.7L407.7 298.9L408.2 298.9L408.7 298.6L409.2 298.9L409.7 298.4L410.2 298.3L410.7 298.9L411.2 298.9L411.7 298.2L412.2 297.8L412.7 297.7L413.2 298.9L413.7 298.9L414.2 298.8L414.7 298.9L415.2 298.6L415.7 298.5L416.2 298.6L416.7 298.9L417.2 298.6L417.7 298.9L418.2 298.9L418.7 297.9L419.2 298.6L419.7 298.8L420.2 298.9L420.7 298.9L421.2 298.7L421.7 298.9L422.2 298.9L422.7 298.6L423.2 298.9L423.7 297.8L424.2 298.9L424.7 298.5L425.2 298.9L425.7 297.7L426.2 298.0L426.7 298.9L427.2 298.0L427.7 298.5L428.2 298.4L428.7 298.9L429.2 298.9L429.7 298.7L430.2 298.7L430.7 298.9L431.2 298.0L431.7 298.8L432.2 298.9L432.7 298.6L433.2 298.5L433.7 298.1L434.2 298.9L435.2 298.9L435.7 298.0L436.2 298.8L436.7 298.3L437.2 298.9L437.7 298.9L438.2 298.3L438.7 298.3L439.2 298.8L439.7 298.9L440.2 298.9L440.7 298.1L441.2 298.9L441.7 298.6L442.2 298.7L442.7 297.8L443.2 298.7L443.7 298.9L444.7 298.9L445.2 298.7L445.7 297.6L446.2 298.7L446.7 298.8L447.2 298.6L447.7 298.7L448.2 298.7L448.7 298.1L449.2 298.4L449.7 298.8L450.2 298.9L451.7 298.9L452.2 298.4L452.7 298.8L453.2 298.9L453.7 298.4L454.2 298.2L454.7 298.7L455.2 298.9L455.7 297.7L456.2 298.7L456.7 298.8L457.2 298.8L457.7 298.9L458.2 298.6L458.7 297.9L459.2 298.9L459.7 298.6L460.2 298.5L460.7 298.2L461.2 298.8L461.7 298.5L462.2 298.7L462.7 298.5L463.2 298.9L465.2 298.9L465.7 298.8L466.2 298.8L466.7 298.9L468.7 298.9L469.2 298.4L469.7 298.7L470.2 297.9L470.7 298.8L471.2 298.9L471.7 298.8L472.2 298.9L472.7 298.7L473.2 298.9L473.7 298.9L474.2 297.7L474.7 298.9L475.2 297.9L475.7 298.5L476.2 298.9L476.7 298.9L477.2 298.0L477.7 298.9L478.2 298.9L478.7 298.7L479.2 298.9L479.7 298.8L480.2 298.9L480.7 297.8L481.2 298.8L481.7 298.4L482.2 298.9L482.7 298.7L483.2 298.2L483.7 298.7L484.2 298.9L484.7 298.9L485.2 298.7L485.7 298.8L486.2 298.0L486.7 295.9L487.2 292.5L487.7 292.1L488.2 294.4L488.7 297.7L489.2 298.2L489.7 297.3L490.2 297.3L490.7 297.9L491.2 298.5L491.7 298.9L492.2 298.8L492.7 298.9L493.2 298.8L493.7 298.7L494.2 298.8L494.7 298.9L495.2 298.8L495.7 298.5L496.2 298.4L496.7 298.9L497.2 298.8L497.7 297.6L498.2 298.7L498.7 298.5L499.2 298.9L499.7 298.4L500.2 298.9L500.7 298.9L501.2 298.8L501.7 298.7L502.2 298.9L502.7 298.9L503.2 297.8L503.7 298.8L504.2 298.9L504.7 298.9L505.2 297.9L505.7 298.9L507.2 298.9L507.7 298.8L508.2 298.9L508.7 298.8L509.2 298.8L509.7 298.9L510.2 298.9L510.7 298.8L511.2 298.0L511.7 298.9L512.2 298.1L512.0 299.9 Z" fill="#29297a"/>
<path d="M120.2 315.7L120.2 314.6L120.7 314.5L121.2 314.6L121.7 314.5L122.2 314.1L122.7 314.4L123.2 314.7L123.7 314.7L124.2 314.6L124.7 314.7L125.2 314.0L125.7 314.4L126.2 314.6L126.7 314.7L127.2 314.7L127.7 314.6L128.2 314.1L128.7 314.7L129.7 314.7L130.2 314.6L130.7 314.7L131.2 314.7L131.7 314.5L132.2 314.7L132.7 314.5L133.2 314.1L133.7 314.6L134.2 314.1L134.7 314.3L135.2 314.7L135.7 314.7L136.2 314.5L136.7 314.6L137.2 314.7L137.7 314.3L138.2 314.5L138.7 314.7L139.2 314.6L139.7 314.7L140.2 314.6L140.7 314.7L141.2 314.5L141.7 314.1L142.2 314.7L142.7 314.7L143.2 314.6L143.7 314.2L144.2 314.7L144.7 314.7L145.2 314.6L145.7 314.7L146.2 314.7L146.7 314.4L147.2 314.5L147.7 314.6L148.2 314.6L148.7 314.7L149.2 314.6L150.2 314.6L150.7 314.7L151.2 314.7L151.7 314.6L152.2 314.5L152.7 314.5L153.2 314.1L153.7 314.7L154.7 314.7L155.2 314.6L155.7 314.5L156.2 314.2L156.7 314.7L157.2 314.6L157.7 314.4L158.2 314.4L158.7 314.7L159.2 314.7L159.7 314.6L160.2 314.6L160.7 314.4L161.2 314.6L161.7 314.5L162.2 314.5L162.7 314.4L163.2 314.0L163.7 314.2L164.2 314.1L164.7 314.1L165.2 313.9L165.7 313.9L166.2 313.6L166.7 313.7L167.2 313.5L167.7 313.4L168.2 313.3L168.7 313.4L169.2 313.4L169.7 313.3L170.2 313.5L170.7 313.6L171.2 313.7L171.7 313.7L172.2 313.9L172.7 313.9L173.2 314.0L173.7 314.2L174.2 314.3L174.7 314.3L175.2 314.1L175.7 314.4L176.2 314.1L176.7 314.6L177.2 314.6L177.7 314.5L178.2 314.6L178.7 314.7L179.2 314.3L179.7 314.7L180.2 314.1L180.7 314.7L181.2 314.6L181.7 314.5L182.2 314.6L182.7 314.5L183.2 314.7L183.7 314.7L184.2 314.5L184.7 314.0L185.2 314.7L185.7 314.7L186.2 313.9L186.7 314.7L187.2 314.7L187.7 314.6L188.2 314.7L188.7 314.5L189.2 314.6L189.7 314.3L190.2 314.7L191.2 314.7L191.7 314.3L192.2 313.9L192.7 314.7L194.2 314.7L194.7 313.9L195.2 314.0L195.7 314.1L196.2 314.7L196.7 314.7L197.2 313.9L197.7 314.4L198.2 314.2L199.2 314.2L199.7 314.7L200.2 314.2L200.7 314.6L201.2 313.9L201.7 314.7L202.7 314.7L203.2 314.4L203.7 314.6L204.2 314.2L204.7 314.6L205.2 314.4L205.7 314.5L206.2 314.3L206.7 314.3L207.2 313.9L207.7 313.5L208.2 313.4L208.7 312.9L209.2 312.6L209.7 309.8L210.2 307.2L210.7 308.6L211.2 310.4L211.7 310.6L212.2 310.8L212.7 309.4L213.2 307.2L213.7 308.9L214.2 311.9L214.7 312.3L215.2 313.0L215.7 313.0L216.2 312.9L216.7 309.6L217.2 308.6L217.7 312.0L218.2 314.2L218.7 314.4L219.2 314.5L219.7 314.2L220.2 314.7L220.7 314.6L221.2 314.6L221.7 314.4L222.2 314.6L222.7 314.3L223.2 314.7L223.7 314.5L224.2 314.7L224.7 314.4L225.2 314.7L226.2 314.7L226.7 314.6L227.2 314.7L227.7 314.4L228.2 314.2L228.7 314.7L229.2 314.4L229.7 314.5L230.2 314.6L230.7 314.7L231.2 314.0L231.7 314.7L232.2 314.7L232.7 314.4L233.2 314.0L233.7 314.3L234.2 314.5L234.7 314.7L235.2 314.0L235.7 314.6L236.2 314.4L236.7 314.4L237.2 314.7L237.7 313.9L238.2 314.7L238.7 314.5L239.2 314.7L239.7 314.7L240.2 314.6L240.7 314.7L241.2 314.5L241.7 314.7L242.2 314.7L242.7 314.1L243.2 314.2L243.7 314.1L244.2 314.4L244.7 314.7L245.2 314.7L245.7 314.4L246.2 314.6L246.7 314.1L247.2 314.1L247.7 314.7L248.2 314.7L248.7 314.2L249.2 314.3L249.7 314.6L250.2 314.5L250.7 314.5L251.2 314.6L251.7 314.7L252.2 314.7L252.7 314.2L253.2 314.2L253.7 314.1L254.2 314.1L254.7 314.6L255.2 314.7L255.7 314.2L256.2 314.7L256.7 314.2L257.2 314.7L257.7 314.5L258.2 314.7L259.2 314.7L259.7 314.6L260.2 314.7L260.7 314.2L261.2 314.7L261.7 314.3L262.2 314.1L262.7 314.0L263.2 314.7L263.7 314.1L264.2 314.7L264.7 314.7L265.2 314.1L265.7 314.6L266.2 314.7L267.2 314.7L267.7 314.1L268.2 314.5L268.7 314.0L269.2 314.5L269.7 313.9L270.2 314.7L271.2 314.7L271.7 314.6L272.2 314.6L272.7 314.2L273.2 314.5L273.7 314.5L274.2 314.6L274.7 314.2L275.2 314.2L275.7 314.7L276.2 314.6L276.7 314.7L278.2 314.7L278.7 314.2L279.2 313.9L279.7 314.7L280.2 314.7L280.7 314.5L281.2 314.7L282.2 314.7L282.7 314.5L283.2 314.0L283.7 314.3L284.2 314.7L284.7 314.7L285.2 314.6L285.7 314.6L286.2 314.5L286.7 314.4L287.2 314.4L287.7 314.7L288.2 314.7L288.7 314.4L289.2 314.6L289.7 314.2L290.2 314.5L290.7 314.7L291.2 314.0L291.7 314.6L292.2 314.7L292.7 314.7L293.2 314.1L293.7 314.7L294.7 314.7L295.2 314.2L295.7 314.5L296.2 314.6L296.7 314.5L297.2 314.2L297.7 314.6L298.2 314.2L298.7 314.5L299.2 314.4L299.7 314.3L300.2 314.2L300.7 314.1L301.2 313.8L301.7 313.4L302.2 313.3L302.7 312.7L303.2 312.9L303.7 312.0L304.2 312.1L304.7 311.2L305.2 311.4L305.7 310.5L306.2 309.7L306.7 310.2L307.2 309.2L307.7 309.8L308.2 309.0L308.7 309.8L309.2 309.9L309.7 309.8L310.2 308.2L310.7 305.8L311.2 304.2L311.7 307.0L312.2 310.5L312.7 305.8L313.2 305.8L313.7 309.4L314.2 313.2L314.7 312.5L315.2 311.1L315.7 311.1L316.2 310.2L316.7 311.3L317.2 312.5L317.7 313.6L318.2 313.7L318.7 313.6L319.2 312.5L319.7 310.2L320.2 307.6L320.7 306.9L321.2 308.8L321.7 310.2L322.2 309.7L322.7 308.9L323.2 309.3L323.7 310.2L324.2 310.4L324.7 308.5L325.2 308.5L325.7 306.5L326.2 309.6L326.7 311.0L327.2 313.0L327.7 313.8L328.2 314.0L328.7 314.2L329.2 314.2L329.7 314.3L330.2 314.0L330.7 313.3L331.2 312.4L331.7 311.7L332.2 311.9L332.7 312.2L333.2 313.2L333.7 313.9L334.2 314.3L334.7 314.6L335.2 314.0L335.7 314.3L336.2 314.7L337.7 314.7L338.2 314.5L338.7 314.6L339.2 314.6L339.7 314.7L340.2 314.5L340.7 314.4L341.2 314.7L341.7 314.5L342.2 314.6L342.7 314.0L343.2 314.5L343.7 314.7L344.2 314.6L344.7 314.1L345.2 313.9L345.7 314.4L346.2 314.0L346.7 314.4L347.2 314.4L347.7 313.8L348.2 312.4L348.7 311.0L349.2 311.1L349.7 312.5L350.2 313.6L350.7 314.2L351.2 314.2L351.7 314.7L353.2 314.7L353.7 314.3L354.2 314.5L354.7 314.6L355.2 314.1L355.7 314.7L356.2 314.6L356.7 314.2L357.2 314.7L357.7 314.0L358.2 314.1L358.7 314.7L359.2 314.7L359.7 314.1L360.2 314.2L360.7 314.4L361.2 314.1L361.7 313.8L362.2 311.5L362.7 307.5L363.2 305.7L363.7 311.0L364.2 311.4L364.7 310.2L365.2 310.0L365.7 311.9L366.2 313.7L366.7 314.1L367.2 314.3L367.7 314.5L368.2 314.6L368.7 314.5L369.2 314.7L369.7 314.1L370.2 314.7L370.7 314.7L371.2 314.5L371.7 314.4L372.2 314.7L372.7 314.3L373.2 314.7L373.7 314.7L374.2 314.0L374.7 314.6L375.2 314.4L375.7 314.2L376.2 313.7L376.7 313.4L377.2 313.3L377.7 313.8L378.2 314.1L378.7 314.2L379.2 314.2L379.7 314.7L380.2 314.4L380.7 314.6L381.2 314.5L381.7 314.3L382.2 314.7L382.7 314.6L383.2 314.7L383.7 314.7L384.2 314.0L384.7 314.6L385.2 314.1L385.7 314.7L386.2 314.1L386.7 314.5L387.2 314.6L387.7 314.6L388.2 314.5L388.7 314.5L389.2 314.4L389.7 314.2L390.2 314.1L390.7 313.8L391.2 313.7L391.7 313.5L392.2 313.3L393.7 313.3L394.2 313.4L394.7 313.6L395.2 313.9L395.7 314.0L396.2 314.2L396.7 314.4L397.2 314.3L397.7 314.6L398.7 314.6L399.2 314.7L399.7 314.7L400.2 314.1L400.7 314.7L401.2 314.7L401.7 314.1L402.2 314.7L403.2 314.7L403.7 314.0L404.2 314.7L405.7 314.7L406.2 314.6L406.7 314.5L407.2 314.3L407.7 313.9L408.2 314.5L408.7 314.3L409.2 314.7L409.7 314.0L410.2 314.7L411.2 314.7L411.7 314.6L412.2 314.7L412.7 314.5L413.2 314.7L413.7 314.4L414.2 314.3L414.7 314.2L415.2 314.6L415.7 314.7L416.7 314.7L417.2 314.4L417.7 314.7L418.2 314.5L418.7 314.5L419.2 314.7L419.7 314.5L420.2 314.7L420.7 314.7L421.2 314.6L421.7 314.4L422.2 314.5L422.7 314.7L423.2 314.0L423.7 314.1L424.2 314.7L424.7 313.9L425.2 314.7L425.7 314.1L426.2 314.7L426.7 314.7L427.2 314.4L427.7 314.4L428.2 314.6L428.7 314.7L429.2 314.5L429.7 314.7L431.2 314.7L431.7 314.6L432.2 314.5L432.7 314.7L434.2 314.7L434.7 313.9L435.2 314.0L435.7 314.7L436.2 314.6L436.7 314.6L437.2 314.7L437.7 314.6L438.2 314.3L438.7 314.6L439.2 314.3L439.7 314.5L440.2 314.6L440.7 314.0L441.2 314.7L441.7 314.6L442.2 314.7L442.7 314.5L443.2 314.5L443.7 314.7L444.2 314.6L444.7 314.4L445.2 314.2L445.7 314.7L446.2 314.7L446.7 314.5L447.2 314.7L448.2 314.7L448.7 314.2L449.2 314.4L449.7 314.0L450.2 314.0L450.7 314.5L451.2 314.7L451.7 314.5L452.2 314.2L452.7 314.0L453.2 314.6L453.7 314.0L454.2 314.1L454.7 314.6L455.2 314.1L455.7 314.7L456.2 314.6L456.7 314.5L458.2 314.5L458.7 314.6L459.2 314.6L459.7 314.4L460.2 314.7L460.7 314.7L461.2 314.5L461.7 314.2L462.2 314.4L462.7 314.5L463.2 314.7L463.7 314.4L464.2 314.7L464.7 314.0L465.2 314.7L466.2 314.7L466.7 314.6L467.2 314.4L467.7 314.7L468.2 314.7L468.7 314.5L469.2 314.7L469.7 314.6L470.2 314.5L470.7 314.7L471.2 314.7L471.7 314.3L472.2 314.7L472.7 314.5L473.2 314.7L473.7 314.4L474.2 314.4L474.7 314.7L476.2 314.7L476.7 314.6L477.2 314.2L477.7 314.6L478.2 314.4L478.7 314.7L479.2 314.6L479.7 314.7L480.2 314.7L480.7 314.6L481.2 314.5L481.7 314.6L482.2 314.6L482.7 314.3L483.2 314.2L483.7 312.8L484.2 310.4L484.7 311.1L485.2 310.9L485.7 307.9L486.2 307.8L486.7 310.7L487.2 313.6L487.7 313.7L488.2 312.4L488.7 311.4L489.2 311.3L489.7 312.3L490.2 313.5L490.7 314.3L491.2 314.5L491.7 314.4L492.2 314.1L492.7 314.4L493.2 314.1L493.7 314.1L494.2 314.6L494.7 314.2L495.2 314.7L496.2 314.7L496.7 314.1L497.2 314.7L497.7 314.1L498.2 314.6L498.7 314.7L500.2 314.7L500.7 314.6L501.2 314.7L502.2 314.7L502.7 314.5L503.2 314.5L503.7 314.6L504.2 314.4L504.7 314.7L505.2 314.7L505.7 314.1L506.2 314.7L506.7 314.7L507.2 314.6L507.7 314.7L509.2 314.7L509.7 314.5L510.2 314.6L510.7 314.0L511.2 314.6L511.7 314.3L512.2 314.2L512.0 315.7 Z" fill="#29297a"/>
<path d="M120.2 331.3L120.2 330.3L120.7 329.9L121.2 330.1L121.7 330.3L122.2 330.2L122.7 330.3L123.2 329.8L123.7 329.9L124.2 330.3L124.7 330.2L125.2 330.2L125.7 330.3L127.2 330.3L127.7 329.7L128.2 330.1L128.7 330.3L129.2 330.3L129.7 329.7L130.2 330.0L130.7 330.2L131.2 330.1L131.7 330.1L132.2 330.3L133.7 330.3L134.2 330.1L134.7 330.3L135.2 330.3L135.7 330.1L136.2 329.8L136.7 330.3L137.2 329.9L137.7 329.9L138.2 330.3L138.7 329.8L139.2 330.3L139.7 330.2L140.2 330.3L140.7 330.3L141.2 330.1L141.7 329.9L142.2 330.3L142.7 330.3L143.2 330.2L143.7 330.2L144.2 330.3L144.7 330.1L145.2 330.1L145.7 329.8L146.2 329.8L146.7 329.7L147.2 329.5L147.7 329.3L148.2 329.4L148.7 329.4L149.2 329.6L149.7 329.8L150.2 329.9L150.7 330.1L151.2 330.2L151.7 330.0L152.2 330.1L152.7 330.3L153.7 330.3L154.2 330.2L154.7 330.3L155.2 330.3L155.7 329.7L156.2 330.3L156.7 330.3L157.2 329.7L157.7 330.3L158.2 330.2L158.7 330.3L159.2 329.9L159.7 329.9L160.2 330.3L160.7 330.2L161.2 330.3L161.7 329.9L162.2 330.2L162.7 330.3L163.2 329.7L163.7 330.2L164.2 330.2L164.7 329.7L165.2 330.3L165.7 330.3L166.2 329.8L166.7 330.3L167.2 329.9L167.7 330.2L168.2 329.7L168.7 330.2L169.2 329.8L169.7 330.2L170.2 330.3L170.7 330.3L171.2 330.2L171.7 330.2L172.2 330.3L173.2 330.3L173.7 330.2L174.2 330.1L174.7 330.2L175.2 330.3L175.7 330.3L176.2 330.1L176.7 330.2L177.2 330.3L177.7 330.2L178.2 330.3L178.7 330.2L179.2 329.7L179.7 330.3L180.2 330.3L180.7 330.1L181.2 330.2L181.7 330.3L183.2 330.3L183.7 330.0L184.2 330.3L184.7 329.9L185.2 329.7L185.7 330.1L186.2 330.3L186.7 330.3L187.2 329.8L187.7 330.3L191.2 330.3L191.7 329.8L192.2 330.3L192.7 330.3L193.2 330.2L193.7 330.2L194.2 329.9L194.7 329.7L195.2 330.2L195.7 330.3L196.2 330.2L196.7 330.3L197.2 330.3L197.7 330.2L198.2 330.2L198.7 330.3L200.2 330.3L200.7 329.7L201.2 330.2L201.7 330.2L202.2 330.3L203.2 330.3L203.7 329.9L204.2 330.1L204.7 330.1L205.2 330.0L205.7 329.8L206.2 329.6L206.7 329.3L207.2 329.0L207.7 328.7L208.2 328.2L208.7 327.9L209.2 327.7L209.7 327.8L210.2 326.3L210.7 325.6L211.2 325.5L211.7 326.1L212.2 327.5L212.7 329.0L213.2 329.8L213.7 329.9L214.2 330.1L214.7 330.1L215.2 330.2L215.7 330.2L216.2 330.1L216.7 330.2L217.7 330.2L218.2 330.3L218.7 330.2L219.2 330.3L219.7 330.2L220.2 330.3L220.7 330.1L221.2 330.3L221.7 330.2L222.2 330.3L222.7 330.2L223.2 329.9L223.7 330.1L224.2 329.9L224.7 330.2L225.2 329.9L225.7 329.6L226.2 329.7L226.7 329.3L227.2 329.0L227.7 328.6L228.2 328.8L228.7 328.8L229.2 329.2L229.7 329.6L230.2 329.8L230.7 330.0L231.2 330.1L231.7 330.1L232.2 330.3L232.7 330.3L233.2 330.1L233.7 330.1L234.2 330.3L235.7 330.3L236.2 330.0L236.7 330.3L237.2 330.1L237.7 329.8L238.2 330.3L238.7 330.3L239.2 329.8L239.7 330.3L240.2 330.3L240.7 330.2L241.2 330.1L241.7 330.2L242.2 329.9L242.7 329.7L243.2 330.3L243.7 330.1L244.2 330.3L244.7 330.0L245.2 330.1L245.7 329.8L246.2 330.2L246.7 330.3L247.2 330.0L247.7 329.6L248.2 330.1L248.7 330.2L249.2 330.2L249.7 330.1L250.7 330.1L251.2 330.3L251.7 330.2L252.2 330.2L252.7 330.3L253.2 330.1L253.7 330.2L254.2 329.8L254.7 330.3L255.2 330.1L255.7 329.8L256.2 330.0L256.7 330.1L257.2 330.2L257.7 330.3L258.7 330.3L259.2 330.2L259.7 330.3L260.2 330.2L260.7 330.3L263.2 330.3L263.7 329.9L264.2 330.3L264.7 330.2L265.2 330.3L266.2 330.3L266.7 330.2L267.2 330.0L267.7 329.6L268.2 328.5L268.7 327.8L269.2 326.7L269.7 326.3L270.2 327.4L270.7 328.7L271.2 329.5L271.7 329.9L272.2 330.2L272.7 330.3L273.2 329.8L273.7 329.8L274.2 330.3L274.7 329.9L275.2 329.7L275.7 330.2L276.2 330.3L276.7 329.9L277.2 330.3L277.7 330.3L278.2 330.2L279.2 330.2L279.7 329.7L280.2 330.0L280.7 330.3L281.2 330.0L281.7 330.3L282.7 330.3L283.2 330.2L283.7 330.3L284.2 330.2L284.7 329.8L285.2 330.3L285.7 329.8L286.2 330.3L286.7 329.9L287.2 330.2L287.7 330.3L288.7 330.3L289.2 329.8L289.7 330.3L290.2 330.0L290.7 330.1L291.2 330.3L291.7 330.2L292.2 330.3L292.7 330.3L293.2 330.0L293.7 330.3L296.2 330.3L296.7 330.2L297.2 330.0L297.7 330.3L298.2 330.3L298.7 329.7L299.2 330.2L299.7 330.3L300.2 330.3L300.7 330.1L301.2 330.3L301.7 330.2L302.2 330.1L302.7 330.2L303.2 330.3L305.2 330.3L305.7 330.0L306.2 330.1L306.7 330.0L307.2 329.7L307.7 329.1L308.2 328.2L308.7 327.1L309.2 325.9L309.7 325.7L310.2 324.8L310.7 325.7L311.2 327.0L311.7 327.9L312.2 329.2L312.7 329.6L313.2 330.0L313.7 330.2L314.2 330.3L314.7 330.2L315.2 329.8L315.7 330.1L316.2 330.3L316.7 329.9L317.2 330.1L317.7 330.1L318.2 329.4L318.7 328.2L319.2 326.4L319.7 326.6L320.2 326.7L320.7 328.4L321.2 329.4L321.7 329.8L322.2 330.1L322.7 329.9L323.2 329.4L323.7 328.3L324.2 326.7L324.7 326.2L325.2 325.7L325.7 327.0L326.2 327.9L326.7 329.3L327.2 329.8L327.7 330.2L328.2 330.3L328.7 330.1L329.2 329.7L329.7 329.1L330.2 329.1L330.7 329.6L331.2 329.8L331.7 330.3L332.2 330.1L332.7 330.3L333.7 330.3L334.2 330.0L334.7 330.2L335.2 330.3L335.7 330.3L336.2 330.2L336.7 329.7L337.2 330.3L338.7 330.3L339.2 330.1L339.7 330.3L340.2 329.7L340.7 330.3L341.2 329.8L341.7 330.1L342.2 330.2L342.7 330.3L343.2 330.2L343.7 330.3L344.2 329.8L344.7 330.3L345.2 330.0L345.7 330.1L346.2 330.3L348.2 330.3L348.7 330.2L349.2 330.1L349.7 329.8L350.2 330.3L350.7 329.9L351.2 330.3L351.7 330.3L352.2 329.8L352.7 330.2L353.2 330.2L353.7 330.3L355.2 330.3L355.7 330.1L356.2 330.3L356.7 330.2L357.2 330.3L357.7 330.2L358.2 330.3L359.7 330.3L360.2 330.2L360.7 329.6L361.2 330.0L361.7 330.3L362.2 329.8L362.7 330.1L363.2 330.3L363.7 330.2L364.2 330.3L364.7 329.8L365.2 330.2L365.7 330.3L366.2 329.9L366.7 330.3L367.2 330.3L367.7 329.7L368.2 330.3L368.7 330.3L369.2 329.7L369.7 329.8L370.2 330.0L370.7 330.1L371.2 330.0L371.7 330.3L373.7 330.3L374.2 330.0L374.7 329.6L375.2 330.3L375.7 330.2L376.2 330.3L376.7 329.8L377.2 330.3L377.7 330.1L378.2 330.3L379.2 330.3L379.7 330.0L380.2 330.3L380.7 330.3L381.2 330.2L381.7 330.1L382.2 329.8L382.7 330.3L383.2 330.2L383.7 330.1L384.2 330.2L384.7 330.3L386.7 330.3L387.2 329.6L387.7 329.9L388.2 330.2L388.7 330.3L389.2 330.2L389.7 330.3L390.2 330.3L390.7 330.1L391.2 329.6L391.7 330.2L392.2 330.1L392.7 330.2L393.2 330.3L393.7 330.3L394.2 329.9L394.7 329.8L395.2 330.3L396.2 330.3L396.7 329.8L397.2 330.1L397.7 330.3L398.2 330.0L398.7 329.9L399.2 330.3L400.7 330.3L401.2 330.1L401.7 330.1L402.2 330.3L402.7 329.8L403.2 330.3L403.7 330.1L404.2 330.3L404.7 330.0L405.2 330.3L405.7 329.8L406.2 330.1L406.7 330.2L407.2 330.3L409.2 330.3L409.7 330.2L410.2 330.2L410.7 330.3L411.2 330.3L411.7 329.9L412.2 330.3L412.7 329.9L413.2 330.3L413.7 330.2L414.2 330.3L414.7 330.3L415.2 329.9L415.7 330.2L416.2 330.0L416.7 330.3L417.2 330.2L417.7 330.0L418.2 329.6L418.7 329.6L419.2 330.3L419.7 330.2L420.2 330.0L420.7 330.3L421.2 329.8L421.7 330.2L422.2 330.3L422.7 330.2L423.2 330.3L423.7 329.8L424.2 330.3L424.7 330.3L425.2 330.1L425.7 329.8L426.2 330.2L426.7 330.3L427.2 329.9L427.7 329.7L428.2 330.1L428.7 330.3L429.2 330.1L429.7 330.3L430.2 330.3L430.7 330.0L431.2 330.3L432.2 330.3L432.7 330.1L433.2 330.1L433.7 330.3L434.2 330.3L434.7 330.2L435.2 329.7L435.7 330.1L436.2 329.7L436.7 330.3L437.2 330.3L437.7 330.2L438.2 330.3L438.7 330.2L439.2 330.3L440.2 330.3L440.7 330.2L442.7 330.2L443.2 330.3L443.7 330.3L444.2 330.2L444.7 330.3L445.2 330.2L445.7 330.0L446.2 330.3L446.7 329.9L447.2 330.3L447.7 330.2L448.2 329.9L448.7 330.2L449.2 329.9L449.7 330.2L450.2 330.1L451.2 330.1L451.7 329.7L452.2 330.3L452.7 329.6L453.2 330.2L453.7 329.8L454.2 330.0L454.7 330.3L455.2 329.8L455.7 330.2L456.2 330.2L456.7 330.3L457.2 330.1L457.7 329.9L458.2 329.8L458.7 330.2L459.2 330.1L459.7 329.9L460.2 330.3L460.7 330.3L461.2 330.2L461.7 330.2L462.2 330.3L462.7 330.3L463.2 330.1L463.7 329.9L464.2 330.3L464.7 330.1L465.2 329.8L465.7 330.3L466.7 330.3L467.2 329.7L467.7 330.2L468.2 329.7L468.7 329.8L469.2 330.0L469.7 330.0L470.2 330.1L470.7 330.3L471.2 330.3L471.7 329.7L472.2 330.0L472.7 330.1L473.2 330.3L475.7 330.3L476.2 330.2L476.7 330.1L477.2 330.3L477.7 330.2L478.7 330.2L479.2 330.3L479.7 330.0L480.2 329.8L480.7 329.7L481.2 330.3L482.2 330.3L482.7 330.1L483.2 329.9L483.7 330.3L484.2 330.2L484.7 330.2L485.2 329.9L485.7 329.2L486.2 327.9L486.7 326.5L487.2 327.0L487.7 327.8L488.2 328.8L488.7 329.8L489.2 330.2L489.7 330.1L490.2 330.0L490.7 329.8L491.2 329.7L491.7 329.5L492.2 329.4L492.7 329.2L493.2 329.0L493.7 329.0L494.2 328.8L494.7 328.5L495.2 328.4L495.7 328.6L496.2 328.9L496.7 328.8L497.2 329.1L497.7 329.4L498.2 329.6L498.7 329.7L499.2 329.8L499.7 329.8L500.2 330.1L500.7 330.1L501.2 330.2L501.7 330.1L502.2 330.3L502.7 329.7L503.2 330.3L503.7 330.3L504.2 329.6L504.7 330.3L505.2 330.0L505.7 330.0L506.2 330.1L506.7 330.1L507.2 330.3L507.7 330.3L508.2 330.0L508.7 330.3L509.2 329.8L509.7 329.9L510.2 330.3L511.2 330.3L511.7 330.0L512.2 330.3L512.0 331.3 Z" fill="#29297a"/>
<path d="M120.2 370.7L120.2 369.5L120.7 369.6L121.2 369.2L121.7 369.5L122.2 368.9L122.7 369.3L123.2 369.6L123.7 369.5L124.2 369.6L124.7 369.7L125.2 369.6L125.7 369.5L126.2 369.6L126.7 369.0L127.2 369.3L127.7 368.9L128.2 369.2L128.7 369.5L129.2 369.4L129.7 369.1L130.2 369.1L130.7 368.9L131.2 369.4L131.7 369.6L132.2 369.6L132.7 369.5L133.2 368.8L133.7 369.1L134.2 368.6L134.7 369.3L135.2 369.5L135.7 369.1L136.2 368.7L136.7 368.3L137.2 369.2L137.7 369.1L138.2 369.4L138.7 368.9L139.2 368.9L139.7 368.7L140.2 368.3L140.7 367.7L141.2 368.4L141.7 367.7L142.2 368.8L142.7 368.2L143.2 369.3L143.7 368.9L144.2 368.2L144.7 368.5L145.2 369.0L145.7 368.5L146.2 368.1L146.7 368.2L147.2 368.9L147.7 369.0L148.2 369.5L148.7 369.3L149.2 369.4L149.7 369.1L150.2 369.5L150.7 369.4L151.2 369.6L151.7 369.5L152.2 368.7L152.7 368.4L153.2 368.5L153.7 369.0L154.2 369.5L154.7 369.6L155.2 369.4L155.7 368.6L156.2 368.4L156.7 369.2L157.2 368.3L157.7 369.1L158.2 369.5L158.7 369.4L159.2 369.3L159.7 369.6L160.2 368.9L160.7 369.3L161.2 369.3L161.7 369.6L162.2 369.7L162.7 369.1L163.2 368.2L163.7 368.4L164.2 369.4L164.7 369.6L165.2 369.6L165.7 369.7L166.2 369.3L166.7 369.3L167.2 369.6L167.7 369.6L168.2 369.4L168.7 369.3L169.2 369.2L169.7 369.5L170.2 369.0L170.7 369.5L171.2 369.4L171.7 369.0L172.2 369.5L172.7 369.6L173.2 368.9L173.7 368.7L174.2 369.3L174.7 369.0L175.2 369.5L175.7 368.9L176.2 369.5L176.7 369.6L177.2 369.6L177.7 369.3L178.2 368.7L178.7 369.2L179.2 368.7L179.7 369.0L180.2 369.1L180.7 368.8L181.2 369.3L181.7 368.9L182.2 369.2L182.7 369.5L183.2 369.2L183.7 369.1L184.2 369.5L184.7 368.8L185.2 368.4L185.7 368.9L186.2 368.4L186.7 368.2L187.2 369.3L187.7 369.6L188.2 369.4L188.7 369.4L189.2 369.0L189.7 369.4L190.2 369.6L190.7 369.5L191.2 368.7L191.7 369.5L192.2 368.6L192.7 368.7L193.2 369.1L193.7 369.5L194.2 369.4L194.7 369.3L195.2 369.6L195.7 369.5L196.2 368.8L196.7 368.0L197.2 368.1L197.7 368.8L198.2 368.2L198.7 369.3L199.2 368.9L199.7 368.7L200.2 369.3L200.7 369.4L201.2 369.3L201.7 368.8L202.2 368.8L202.7 369.3L203.2 368.7L203.7 368.9L204.2 368.5L204.7 369.0L205.2 369.3L205.7 369.4L206.2 369.5L206.7 369.1L207.2 368.8L207.7 369.1L208.2 368.9L208.7 368.7L209.2 367.9L209.7 369.1L210.2 369.5L210.7 368.8L211.2 368.1L211.7 368.1L212.2 368.5L212.7 367.8L213.2 367.7L213.7 369.1L214.2 368.8L214.7 368.3L215.2 369.1L215.7 368.6L216.2 367.9L216.7 368.5L217.2 368.9L217.7 368.9L218.2 368.4L218.7 368.5L219.2 367.7L219.7 368.4L220.2 369.0L220.7 369.5L221.2 369.0L221.7 369.0L222.2 368.9L222.7 367.9L223.2 367.7L223.7 367.8L224.2 368.2L224.7 369.0L225.2 369.1L225.7 369.3L226.2 369.2L226.7 368.3L227.2 368.6L227.7 368.2L228.2 368.4L228.7 368.9L229.2 368.3L229.7 368.4L230.2 369.0L230.7 369.1L231.2 368.8L231.7 368.2L232.2 369.3L232.7 369.6L233.2 369.3L233.7 369.4L234.2 369.6L234.7 368.9L235.2 368.8L235.7 369.4L236.2 368.6L236.7 368.9L237.2 369.5L237.7 369.6L238.2 369.7L238.7 369.1L239.2 368.9L239.7 368.5L240.2 368.5L240.7 368.3L241.2 369.0L241.7 369.2L242.2 369.2L242.7 368.8L243.2 369.1L243.7 368.7L244.2 369.3L244.7 369.2L245.2 369.1L245.7 369.5L246.2 369.6L246.7 369.3L247.2 369.5L247.7 369.4L248.2 368.7L248.7 368.7L249.2 368.6L249.7 368.6L250.2 369.2L250.7 369.5L251.2 369.5L251.7 369.6L252.2 369.6L252.7 369.4L253.2 369.2L253.7 368.8L254.2 368.9L254.7 369.4L255.7 369.4L256.2 369.6L256.7 368.8L257.2 369.3L257.7 368.9L258.2 369.4L258.7 369.3L259.2 369.5L259.7 368.7L260.2 368.5L260.7 368.1L261.2 367.7L261.7 368.7L262.2 369.0L262.7 369.0L263.2 368.7L263.7 368.1L264.2 368.6L264.7 369.0L265.2 368.4L265.7 369.2L266.2 369.1L266.7 369.5L267.2 369.2L267.7 369.2L268.2 369.6L268.7 369.1L269.2 368.3L269.7 368.7L270.2 369.5L270.7 368.7L271.2 369.1L271.7 368.9L272.2 369.5L272.7 369.2L273.2 368.7L273.7 369.2L274.2 369.3L274.7 368.4L275.2 369.3L275.7 369.2L276.2 369.6L276.7 369.5L277.2 369.0L277.7 369.5L278.2 369.2L278.7 369.0L279.2 368.5L279.7 368.2L280.2 368.2L280.7 368.3L281.2 367.7L281.7 367.9L282.2 369.0L282.7 369.5L283.2 369.2L283.7 369.1L284.2 368.3L284.7 369.2L285.2 369.4L285.7 369.0L286.2 369.2L286.7 369.3L287.7 369.3L288.2 368.7L288.7 367.9L289.2 368.9L289.7 369.3L290.2 369.6L290.7 369.4L291.2 368.5L291.7 369.0L292.2 369.4L292.7 369.6L293.2 369.5L293.7 368.9L294.2 368.6L294.7 368.2L295.2 367.8L295.7 368.9L296.2 368.6L296.7 367.9L297.2 367.7L297.7 367.8L298.2 369.0L298.7 369.3L299.2 369.2L299.7 369.5L300.2 369.1L300.7 368.6L301.2 368.9L301.7 369.5L302.2 369.3L302.7 368.6L303.2 369.4L303.7 369.0L304.2 369.2L304.7 369.5L305.2 368.8L305.7 369.0L306.2 368.4L306.7 369.3L307.2 369.5L307.7 369.5L308.2 369.1L308.7 369.5L309.2 369.1L309.7 369.5L310.2 369.6L310.7 369.7L311.2 369.5L311.7 368.9L312.2 368.0L312.7 369.2L313.2 369.3L313.7 369.1L314.2 368.8L314.7 369.0L315.2 369.4L315.7 369.6L316.2 369.6L316.7 368.9L317.2 368.5L317.7 368.0L318.2 369.2L318.7 369.3L319.2 369.0L319.7 368.4L320.2 368.9L320.7 368.8L321.2 368.8L321.7 368.5L322.2 367.7L322.7 368.0L323.2 367.7L323.7 368.5L324.2 368.5L324.7 368.3L325.2 369.3L325.7 369.5L326.2 369.2L326.7 369.3L327.2 369.6L327.7 369.5L328.2 369.4L328.7 369.4L329.2 369.5L329.7 369.4L330.2 368.5L330.7 365.5L331.2 363.4L331.7 365.5L332.2 368.5L332.7 369.5L333.2 369.3L333.7 369.3L334.2 368.6L334.7 369.4L335.2 368.5L335.7 367.9L336.2 368.0L336.7 369.3L337.2 368.9L337.7 369.3L338.2 368.7L338.7 369.2L339.2 369.1L339.7 368.6L340.2 369.0L340.7 369.3L341.2 369.6L341.7 369.3L342.2 369.5L342.7 369.5L343.2 369.2L343.7 368.6L344.2 369.1L345.2 369.1L345.7 368.3L346.2 369.4L346.7 369.4L347.2 369.3L347.7 369.5L348.2 369.0L348.7 368.6L349.2 368.8L349.7 369.1L350.2 369.2L350.7 369.5L351.2 369.0L351.7 369.3L352.2 368.5L352.7 369.3L353.2 368.9L353.7 369.3L354.2 369.2L354.7 368.8L355.2 367.9L355.7 369.2L356.2 369.4L356.7 369.6L357.2 369.5L357.7 369.3L358.2 368.8L358.7 368.2L359.2 367.9L359.7 368.6L360.2 368.2L360.7 367.7L361.2 367.7L361.7 368.3L362.2 369.3L362.7 368.9L363.2 369.4L363.7 369.6L364.2 369.6L364.7 369.4L365.2 368.8L365.7 369.4L366.2 369.3L366.7 368.8L367.2 368.5L367.7 369.0L368.2 369.2L368.7 369.5L369.2 369.6L369.7 369.5L370.2 369.4L370.7 368.7L371.2 368.4L371.7 368.9L372.2 369.2L372.7 369.3L373.2 368.8L373.7 368.6L374.2 369.3L374.7 369.4L375.2 369.4L375.7 369.3L376.2 368.8L376.7 369.0L377.2 369.2L377.7 369.4L378.2 369.4L378.7 369.2L379.2 369.0L379.7 368.8L380.2 369.3L380.7 368.9L381.2 368.3L381.7 368.9L382.2 369.5L382.7 368.8L383.2 368.6L383.7 369.2L384.2 368.8L384.7 369.1L385.2 369.5L385.7 369.1L386.2 369.0L386.7 369.5L387.2 369.7L387.7 369.6L388.2 369.6L388.7 369.4L389.2 368.6L389.7 369.4L390.2 369.5L390.7 369.6L391.2 369.7L391.7 369.4L392.2 368.8L392.7 368.9L393.2 368.8L393.7 368.7L394.2 369.4L395.2 369.4L395.7 369.1L396.2 369.5L396.7 369.5L397.2 369.0L397.7 368.5L398.2 369.1L398.7 369.3L399.2 368.9L399.7 368.5L400.2 368.6L400.7 369.2L401.2 368.8L401.7 368.9L402.2 368.7L402.7 368.1L403.2 368.4L403.7 368.3L404.2 368.2L404.7 368.3L405.2 368.5L405.7 368.6L406.2 368.5L406.7 368.6L407.2 368.6L407.7 369.1L408.2 369.3L408.7 368.5L409.2 368.7L409.7 368.3L410.2 367.7L411.2 367.7L411.7 368.4L412.2 369.2L412.7 369.4L413.2 369.5L413.7 369.5L414.2 369.4L414.7 369.5L415.2 369.1L415.7 369.4L416.2 369.5L416.7 369.6L417.2 369.7L417.7 369.2L418.2 369.1L418.7 368.3L419.2 367.7L419.7 368.0L420.2 368.0L420.7 367.8L421.2 367.9L421.7 368.7L422.2 369.1L422.7 369.5L423.2 369.1L423.7 369.4L424.2 368.5L424.7 367.9L425.2 368.0L425.7 370.3L426.7 370.3L427.2 368.3L427.7 367.8L428.2 368.1L428.7 368.3L429.2 369.0L429.7 368.6L430.2 368.2L430.7 368.0L431.2 368.1L431.7 368.3L432.2 368.6L432.7 369.0L433.2 369.2L433.7 369.3L434.2 368.8L434.7 369.4L435.2 369.2L435.7 369.3L436.2 369.1L436.7 369.2L437.2 369.1L437.7 369.0L438.2 368.6L438.7 368.7L439.2 368.6L439.7 368.5L440.2 368.6L440.7 368.7L441.2 368.7L441.7 368.4L442.2 368.9L442.7 369.0L443.2 369.2L443.7 369.1L444.2 369.3L444.7 369.5L445.7 369.5L446.2 369.4L446.7 369.5L447.2 369.5L447.7 369.6L448.2 369.5L448.7 369.3L449.2 368.5L449.7 367.9L450.2 369.0L450.7 369.3L451.2 369.5L451.7 368.7L452.2 368.7L452.7 369.2L453.2 369.6L453.7 369.0L454.2 368.8L454.7 369.4L455.2 369.6L455.7 369.4L456.2 369.6L456.7 369.2L457.2 369.2L457.7 369.0L458.2 369.3L458.7 369.1L459.2 369.6L459.7 369.3L460.2 369.3L460.7 368.8L461.2 368.9L461.7 368.0L462.2 368.4L462.7 368.1L463.2 368.0L463.7 367.7L464.2 369.1L464.7 369.3L465.2 368.5L465.7 369.2L466.2 369.5L466.7 369.4L467.2 369.0L467.7 369.5L468.2 369.6L468.7 369.6L469.2 369.2L469.7 369.5L470.2 369.5L470.7 369.6L471.2 369.6L471.7 369.2L472.2 368.8L472.7 368.3L473.2 368.0L473.7 367.7L474.2 368.3L474.7 369.4L475.2 368.7L475.7 369.4L476.2 369.0L476.7 369.4L477.2 369.0L477.7 368.9L478.2 369.3L478.7 369.6L479.2 369.0L479.7 368.4L480.2 367.9L480.7 367.7L481.2 367.7L481.7 367.8L482.2 368.5L482.7 368.9L483.2 369.1L483.7 369.5L484.2 369.2L484.7 368.2L485.2 366.5L485.7 362.1L486.2 358.0L486.7 358.4L487.2 357.6L487.7 357.4L488.2 357.2L488.7 363.0L489.2 361.2L489.7 363.5L490.2 366.5L490.7 368.8L491.2 369.3L491.7 369.3L492.2 369.1L492.7 369.2L493.2 368.4L493.7 367.7L494.2 369.0L494.7 369.4L495.2 369.1L495.7 368.8L496.2 369.3L496.7 368.3L497.2 369.4L497.7 368.8L498.2 369.4L498.7 369.6L499.2 369.0L499.7 369.3L500.2 369.4L500.7 369.5L501.2 368.6L501.7 367.9L502.2 368.3L502.7 368.1L503.2 367.8L503.7 367.7L504.2 368.1L504.7 368.4L505.2 369.3L505.7 369.3L506.2 369.1L506.7 369.4L507.2 369.4L507.7 369.0L508.2 369.0L508.7 368.8L509.2 369.1L509.7 368.7L510.2 368.3L510.7 369.4L511.2 369.4L511.7 369.0L512.2 368.4L512.0 370.7 Z" fill="#b51424"/>
<rect x="120.2" y="370.00" width="305.3" height="0.75" fill="#80182a"/>
<rect x="427.0" y="370.00" width="85.0" height="0.75" fill="#80182a"/>
<path d="M120.2 395.8L120.2 394.6L120.7 394.6L121.2 394.8L121.7 394.7L122.2 394.3L122.7 394.0L123.2 394.1L123.7 393.7L124.2 394.0L124.7 393.4L125.2 393.6L125.7 394.4L126.2 394.2L127.2 394.2L127.7 394.5L128.2 394.1L128.7 394.5L129.2 394.6L129.7 394.6L130.2 394.7L130.7 394.7L131.2 394.3L131.7 394.0L132.2 394.6L132.7 394.4L133.2 394.7L133.7 394.3L134.2 394.4L134.7 394.3L135.2 393.8L135.7 393.5L136.2 393.5L136.7 394.2L137.2 394.6L137.7 394.4L138.2 394.2L138.7 393.5L139.2 393.0L139.7 394.2L140.2 394.3L140.7 393.9L141.2 394.2L141.7 393.3L142.2 394.5L142.7 394.4L143.2 393.8L143.7 393.1L144.2 393.6L144.7 394.3L145.2 394.1L145.7 394.4L146.2 394.0L146.7 394.3L147.2 394.6L147.7 394.3L148.2 393.8L148.7 394.0L149.2 394.0L149.7 393.9L150.2 394.0L150.7 394.6L151.2 394.6L151.7 393.9L152.2 394.0L152.7 393.6L153.2 392.9L153.7 394.3L154.2 393.9L154.7 394.1L155.2 394.6L155.7 394.7L156.2 394.5L156.7 394.4L157.2 393.8L157.7 394.2L158.2 393.7L158.7 394.1L159.2 393.3L159.7 392.8L160.2 394.1L160.7 393.6L161.2 394.4L161.7 394.5L162.2 393.8L162.7 394.1L163.2 394.6L163.7 394.8L164.2 394.1L164.7 393.5L165.2 392.8L165.7 393.8L166.2 394.3L166.7 394.0L167.2 394.6L167.7 394.3L168.2 394.6L168.7 394.7L169.2 394.2L169.7 394.5L170.2 393.6L170.7 393.6L171.2 393.7L171.7 393.7L172.2 394.3L172.7 393.5L173.2 394.5L173.7 393.7L174.2 393.9L175.2 393.9L175.7 394.2L176.2 394.6L176.7 394.6L177.2 394.2L177.7 394.4L178.2 393.9L178.7 393.7L179.2 394.5L179.7 394.7L180.2 394.1L180.7 394.1L181.2 394.6L181.7 394.4L182.2 394.2L182.7 393.9L183.2 394.1L183.7 393.3L184.2 394.4L184.7 393.7L185.2 393.6L185.7 394.1L186.2 394.6L186.7 394.7L187.2 394.3L187.7 394.0L188.2 394.0L188.7 394.6L189.2 394.7L189.7 394.6L190.2 394.7L190.7 394.7L191.2 394.8L191.7 394.7L192.2 394.5L192.7 394.0L193.2 394.6L194.2 394.6L194.7 394.7L195.2 394.6L195.7 394.7L196.7 394.7L197.2 394.2L197.7 394.4L198.2 394.1L198.7 393.7L199.2 393.5L199.7 394.0L200.2 394.3L200.7 394.2L201.2 394.4L201.7 394.5L202.2 394.5L202.7 394.7L203.2 394.4L203.7 394.4L204.2 394.7L204.7 394.6L205.2 394.7L205.7 394.6L206.2 394.4L206.7 393.5L207.2 394.4L207.7 394.2L208.2 393.7L208.7 394.3L209.2 394.3L209.7 394.1L210.2 394.6L210.7 394.5L211.2 393.8L211.7 393.1L212.2 392.8L212.7 394.3L213.2 394.0L213.7 393.7L214.2 394.2L214.7 394.5L215.2 394.1L215.7 394.4L216.2 393.6L216.7 394.2L217.2 393.5L217.7 393.5L218.2 394.0L218.7 393.7L219.2 393.1L219.7 393.2L220.2 394.1L220.7 394.6L221.2 394.3L221.7 393.9L222.2 393.8L222.7 394.4L223.2 394.1L223.7 393.8L224.2 394.1L224.7 393.8L225.2 393.7L225.7 392.9L226.2 394.4L226.7 393.5L227.2 393.4L227.7 394.3L228.2 394.6L228.7 394.6L229.2 394.3L229.7 394.1L230.2 394.3L230.7 393.6L231.2 393.9L231.7 393.9L232.2 393.6L232.7 393.2L233.2 394.3L233.7 394.6L234.2 394.5L234.7 393.9L235.2 393.3L235.7 393.7L236.2 394.4L236.7 394.1L237.2 393.5L237.7 393.3L238.2 394.3L238.7 394.7L239.2 394.5L239.7 394.6L240.2 394.6L240.7 394.2L241.2 393.7L241.7 393.8L242.2 393.1L242.7 393.2L243.2 394.3L243.7 394.4L244.2 394.5L244.7 393.6L245.2 394.0L245.7 394.4L246.2 393.8L246.7 393.0L247.2 393.9L247.7 394.3L248.2 394.5L248.7 394.7L249.2 394.4L249.7 394.7L250.2 393.9L250.7 393.4L251.2 394.0L251.7 394.0L252.2 393.4L252.7 394.4L253.2 394.0L253.7 393.5L254.2 393.8L254.7 393.2L255.2 394.1L255.7 394.7L256.2 394.7L256.7 393.9L257.2 394.2L257.7 394.4L258.2 394.7L258.7 394.6L259.2 394.6L259.7 394.5L260.2 394.7L260.7 394.8L261.2 394.8L261.7 394.3L262.2 393.8L262.7 394.4L263.2 394.5L263.7 394.6L264.2 394.5L264.7 394.3L265.2 393.9L265.7 393.9L266.2 394.6L266.7 394.3L267.2 394.7L267.7 394.6L268.2 394.7L269.2 394.7L269.7 394.4L270.2 394.4L270.7 393.9L271.2 394.5L271.7 394.6L272.2 394.5L272.7 394.4L273.2 394.6L273.7 394.4L274.2 394.2L274.7 393.6L275.2 392.8L275.7 392.9L276.2 394.0L276.7 393.9L277.2 394.1L277.7 394.6L278.2 394.3L278.7 394.5L279.2 394.6L279.7 394.3L280.2 394.5L280.7 393.8L281.2 393.1L281.7 394.2L282.2 393.3L282.7 394.3L283.2 394.0L283.7 393.4L284.2 394.1L284.7 393.6L285.2 393.9L285.7 394.4L286.2 393.9L286.7 394.0L287.2 393.6L287.7 393.0L288.2 393.8L288.7 392.9L289.2 393.0L289.7 393.1L290.2 393.6L290.7 393.3L291.2 394.3L291.7 394.6L292.2 394.1L292.7 393.4L293.2 393.4L293.7 393.0L294.2 392.8L295.2 392.8L295.7 393.5L296.2 394.5L296.7 394.5L297.2 393.9L297.7 393.8L298.2 394.4L298.7 394.6L299.2 394.5L299.7 394.7L300.2 394.3L300.7 394.3L301.2 393.5L301.7 393.3L302.2 393.9L302.7 394.4L303.2 394.2L303.7 393.3L304.2 393.2L304.7 394.2L305.2 394.6L305.7 394.7L306.2 394.5L306.7 394.7L307.2 394.1L308.2 394.1L308.7 393.9L309.2 394.2L309.7 394.0L310.2 394.6L310.7 393.8L311.2 392.9L311.7 392.8L312.2 393.5L312.7 394.4L313.2 394.7L313.7 394.4L314.2 394.4L314.7 394.3L315.2 393.8L315.7 393.0L316.2 393.2L316.7 393.2L317.2 393.5L317.7 393.7L318.2 394.2L318.7 394.4L319.2 393.6L319.7 393.3L320.2 393.4L320.7 394.5L321.2 393.9L321.7 394.3L322.2 394.4L322.7 394.4L323.2 393.9L323.7 394.4L324.2 394.3L324.7 394.6L325.2 394.2L325.7 394.5L326.2 394.0L326.7 394.4L327.2 394.3L327.7 394.7L328.2 394.7L328.7 394.8L329.2 394.8L329.7 394.6L330.2 394.8L330.7 394.6L331.2 394.7L331.7 394.7L332.2 394.8L332.7 394.6L333.2 394.6L333.7 394.5L334.2 394.3L334.7 394.6L335.2 393.9L335.7 394.4L336.2 394.7L336.7 394.3L337.2 393.7L337.7 394.1L338.2 393.2L338.7 393.5L339.2 394.3L339.7 394.7L340.2 394.3L340.7 393.9L341.2 393.2L341.7 394.1L342.2 393.2L342.7 392.8L343.2 393.6L343.7 394.1L344.2 394.5L344.7 394.2L345.2 394.2L345.7 393.6L346.2 394.4L346.7 394.2L347.2 394.2L347.7 394.6L348.2 394.8L348.7 394.4L349.2 393.7L349.7 394.0L350.2 394.5L350.7 393.7L351.2 394.2L351.7 394.4L352.2 394.5L352.7 394.6L353.2 394.2L353.7 394.2L354.2 394.0L354.7 393.8L355.2 393.7L355.7 394.2L356.2 393.7L356.7 394.5L357.2 394.6L357.7 394.4L358.2 393.6L358.7 393.3L359.2 392.8L359.7 394.3L360.2 394.4L360.7 393.9L361.7 393.9L362.2 393.0L362.7 393.0L363.2 394.1L363.7 394.6L364.2 394.4L364.7 393.8L365.2 395.4L366.2 395.4L366.7 394.7L367.2 394.7L367.7 394.8L368.2 394.4L368.7 394.1L369.2 394.2L369.7 393.6L370.2 393.5L370.7 394.5L371.2 394.5L371.7 394.6L372.2 394.7L373.2 394.7L373.7 394.3L374.2 393.4L374.7 394.2L375.2 394.1L375.7 394.1L376.2 394.2L376.7 394.2L377.2 394.4L377.7 394.2L378.2 393.6L378.7 394.4L379.2 394.7L379.7 394.7L380.2 394.4L380.7 394.6L381.2 394.5L381.7 394.4L382.2 394.6L382.7 394.2L383.2 393.7L383.7 393.1L384.2 393.5L384.7 393.6L385.2 393.8L385.7 393.0L386.2 393.9L386.7 394.3L387.2 394.2L387.7 394.1L388.2 394.6L388.7 394.6L389.2 394.2L389.7 393.7L390.2 394.1L390.7 394.5L391.2 394.5L391.7 393.8L392.2 393.7L392.7 394.2L393.2 394.4L393.7 394.2L394.2 394.3L394.7 394.7L395.2 394.0L395.7 394.6L396.2 394.1L396.7 394.4L397.2 394.5L397.7 394.5L398.2 394.7L398.7 394.8L399.2 394.7L399.7 394.7L400.2 394.8L400.7 394.8L401.2 394.7L401.7 394.4L402.2 394.7L402.7 394.2L403.2 393.7L403.7 394.4L404.2 394.3L404.7 394.5L405.2 393.7L405.7 394.5L406.2 394.4L406.7 394.7L407.2 394.1L407.7 394.5L408.2 394.7L408.7 394.7L409.2 394.1L409.7 394.6L410.2 394.3L410.7 394.1L411.2 394.4L411.7 393.6L412.2 393.8L412.7 393.9L413.2 394.6L413.7 394.4L414.2 394.6L414.7 394.5L415.2 394.7L415.7 393.9L416.2 393.5L416.7 394.2L417.2 394.3L417.7 394.6L418.2 394.7L418.7 394.6L419.2 394.5L419.7 394.6L420.2 394.1L420.7 393.7L421.2 393.0L421.7 393.2L422.2 393.5L422.7 394.2L423.2 393.7L423.7 393.9L424.2 393.8L424.7 393.2L425.2 393.9L425.7 393.9L426.2 394.3L426.7 394.4L427.2 394.0L427.7 394.4L428.2 394.1L428.7 393.5L429.2 394.2L429.7 393.7L430.2 393.1L430.7 392.8L431.2 392.8L431.7 393.7L432.2 393.3L432.7 392.8L433.2 394.1L433.7 393.6L434.2 394.4L434.7 393.7L435.2 394.5L435.7 394.1L436.2 394.6L436.7 394.1L437.2 393.9L437.7 394.5L438.2 394.7L438.7 394.6L439.2 394.3L439.7 394.4L440.2 393.6L440.7 393.3L441.2 394.0L441.7 393.8L442.2 393.6L442.7 394.2L443.2 393.3L443.7 393.2L444.2 394.3L444.7 393.7L445.2 394.3L445.7 393.4L446.2 394.4L446.7 395.4L449.7 395.4L450.2 394.0L450.7 394.2L451.2 394.6L451.7 394.7L452.2 394.5L452.7 394.5L453.2 394.7L453.7 394.1L454.2 393.9L454.7 394.5L455.2 394.0L455.7 394.1L456.2 394.1L456.7 394.4L457.2 394.7L457.7 394.1L458.2 394.0L458.7 394.5L459.2 393.9L459.7 393.7L460.2 393.7L460.7 394.2L461.2 394.3L461.7 393.5L462.2 394.3L462.7 393.4L463.2 393.8L463.7 394.2L464.2 394.0L464.7 393.8L465.2 393.9L465.7 393.3L466.2 393.0L466.7 394.0L467.2 394.4L467.7 394.3L468.2 394.7L468.7 394.5L469.2 394.7L469.7 394.2L470.2 393.9L470.7 394.1L471.2 394.2L471.7 393.3L472.2 393.4L472.7 393.6L473.2 394.0L473.7 393.3L474.2 394.4L474.7 394.3L475.2 393.9L475.7 393.6L476.2 393.7L476.7 393.3L477.2 394.2L477.7 394.1L478.2 393.7L478.7 394.4L479.2 393.7L479.7 394.5L480.2 394.6L480.7 394.3L481.2 393.8L481.7 394.3L482.2 394.2L482.7 394.2L483.2 393.7L483.7 393.7L484.2 393.5L484.7 393.2L485.2 393.0L486.2 393.0L486.7 392.0L487.2 388.2L487.7 387.3L488.2 391.3L488.7 393.2L489.2 394.3L489.7 394.4L490.2 394.5L490.7 394.2L491.2 394.1L491.7 394.3L492.2 394.5L492.7 393.8L493.2 394.3L493.7 393.5L494.2 394.2L494.7 393.5L495.2 393.2L495.7 394.4L496.2 394.7L496.7 394.3L497.2 392.8L497.7 391.1L498.2 391.9L498.7 393.8L499.2 394.1L499.7 394.5L500.2 394.4L500.7 393.6L501.2 394.3L501.7 394.3L502.2 394.0L502.7 394.5L503.2 394.0L503.7 394.1L504.2 394.5L504.7 394.2L505.2 393.9L505.7 393.8L506.2 393.7L506.7 393.5L507.2 393.6L507.7 392.4L508.2 392.2L508.7 393.3L509.2 394.0L509.7 394.6L510.2 393.7L510.7 394.1L511.2 393.7L511.7 394.0L512.2 394.4L512.0 395.8 Z" fill="#b51424"/>
<rect x="120.2" y="395.10" width="244.8" height="0.75" fill="#80182a"/>
<rect x="366.5" y="395.10" width="80.0" height="0.75" fill="#80182a"/>
<rect x="449.8" y="395.10" width="62.2" height="0.75" fill="#80182a"/>
<path d="M120.2 421.5L120.2 419.4L120.7 419.4L121.2 419.8L121.7 420.2L122.2 419.8L122.7 419.0L123.2 419.6L123.7 419.0L124.2 420.1L124.7 420.0L125.2 420.3L125.7 420.1L126.2 419.9L126.7 419.3L127.2 419.5L127.7 419.0L128.2 419.7L128.7 420.2L129.2 420.1L129.7 419.7L130.2 419.5L130.7 420.2L131.2 420.3L131.7 420.4L132.2 420.2L132.7 419.6L133.2 420.0L133.7 420.4L134.2 419.7L134.7 419.1L135.2 418.9L135.7 420.1L136.2 420.3L136.7 420.4L137.2 419.7L137.7 420.2L138.2 420.4L138.7 420.4L139.2 419.9L139.7 420.2L140.2 419.4L140.7 419.9L141.2 419.7L141.7 420.2L142.2 420.2L142.7 419.6L143.2 418.7L143.7 419.8L144.2 420.0L144.7 420.4L145.2 420.4L145.7 420.3L146.2 420.1L146.7 419.9L147.2 420.1L147.7 420.3L148.2 420.1L148.7 420.2L149.2 420.2L149.7 419.4L150.2 419.5L150.7 420.3L151.2 419.4L151.7 418.6L152.2 419.5L152.7 418.7L153.2 420.0L153.7 419.2L154.2 420.0L154.7 419.4L155.2 419.3L155.7 418.6L156.2 419.6L156.7 419.5L157.2 418.8L157.7 420.0L158.2 420.3L158.7 420.1L159.2 420.3L159.7 420.4L160.2 420.5L160.7 420.4L161.2 420.1L161.7 420.1L162.2 419.8L162.7 420.3L163.2 420.4L163.7 420.2L164.2 420.4L164.7 420.5L165.2 420.5L165.7 420.2L166.2 419.4L166.7 419.6L167.2 420.3L167.7 420.4L168.2 420.0L168.7 419.5L169.2 420.1L169.7 420.0L170.2 420.4L170.7 420.2L171.2 419.7L171.7 419.8L172.2 419.3L172.7 420.0L173.2 419.7L173.7 419.8L174.2 419.7L174.7 420.3L175.2 420.2L175.7 419.9L176.2 420.2L176.7 420.0L177.2 420.4L177.7 420.3L178.2 419.5L178.7 419.4L179.2 419.6L179.7 419.0L180.2 419.1L180.7 419.5L181.2 419.9L181.7 419.2L182.2 419.4L182.7 419.7L183.2 420.0L183.7 420.3L184.2 420.4L184.7 420.1L185.2 420.0L185.7 419.5L186.2 419.8L186.7 420.0L187.2 419.9L187.7 420.2L188.2 419.3L188.7 419.3L189.2 419.9L189.7 419.9L190.2 419.3L190.7 418.6L191.2 418.8L191.7 418.5L192.2 418.5L192.7 419.5L193.2 419.8L193.7 419.9L194.2 420.3L194.7 420.1L195.2 419.9L195.7 419.4L196.2 419.9L196.7 419.0L197.2 418.9L197.7 419.3L198.2 420.0L198.7 419.2L199.2 419.2L199.7 419.3L200.2 420.0L200.7 420.3L201.2 420.4L201.7 419.7L202.2 419.9L202.7 419.5L203.2 419.4L203.7 419.0L204.2 419.8L204.7 420.2L205.2 419.3L205.7 420.1L206.2 419.2L206.7 419.7L207.2 420.3L207.7 420.3L208.2 419.8L208.7 420.0L209.2 420.3L209.7 420.4L210.2 420.5L210.7 420.3L211.2 420.2L211.7 419.9L212.2 420.3L212.7 420.3L213.2 420.1L213.7 420.2L214.2 419.8L214.7 420.1L215.2 419.7L215.7 419.5L216.2 419.8L216.7 419.5L217.2 419.9L217.7 419.2L218.2 419.0L218.7 419.8L219.2 419.2L219.7 419.3L220.2 418.8L220.7 418.9L221.2 418.5L221.7 419.1L222.2 419.8L222.7 419.4L223.2 418.7L223.7 419.3L224.2 419.2L224.7 419.3L225.2 419.9L225.7 420.2L226.2 419.9L226.7 420.3L227.2 420.2L227.7 419.7L228.2 419.9L228.7 420.0L229.2 419.1L229.7 419.3L230.2 419.5L230.7 420.1L231.2 419.7L231.7 420.0L232.2 419.6L232.7 418.8L233.2 418.6L233.7 419.8L234.2 419.0L234.7 419.1L235.2 420.0L235.7 420.4L236.2 420.4L236.7 420.1L237.2 420.0L237.7 420.4L238.2 419.7L238.7 420.3L239.2 419.7L239.7 419.8L240.2 419.3L240.7 418.9L241.2 419.0L241.7 419.7L242.2 419.7L242.7 420.2L243.2 420.3L243.7 420.4L244.2 420.4L244.7 419.7L245.2 419.4L245.7 420.2L246.7 420.2L247.2 420.0L247.7 419.9L248.2 419.4L248.7 420.1L249.2 419.8L249.7 419.6L250.2 420.3L250.7 420.4L251.2 420.4L251.7 420.2L252.2 419.5L252.7 418.9L253.2 418.6L253.7 419.2L254.2 419.3L254.7 419.3L255.2 419.9L255.7 419.9L256.2 420.3L257.2 420.3L257.7 419.4L258.2 420.1L258.7 420.0L259.2 420.4L259.7 420.5L260.2 420.3L260.7 420.0L261.2 419.9L261.7 419.0L262.2 419.5L262.7 419.5L263.2 418.9L263.7 420.0L264.2 419.5L264.7 420.2L265.2 419.5L265.7 419.2L266.2 418.9L266.7 418.6L267.2 420.0L267.7 420.3L268.2 420.3L268.7 420.4L269.2 419.8L269.7 420.2L270.2 420.3L270.7 419.9L271.2 420.3L271.7 419.7L272.2 420.0L272.7 419.9L273.2 419.3L273.7 420.2L274.2 420.3L274.7 420.2L275.2 419.8L275.7 420.1L276.2 420.1L276.7 420.3L277.2 420.0L277.7 420.1L278.2 419.8L278.7 420.3L279.2 420.1L279.7 419.3L280.2 420.0L280.7 420.2L281.2 419.7L281.7 420.2L282.2 420.1L282.7 420.1L283.2 420.3L283.7 420.3L284.2 419.8L284.7 419.6L285.2 420.1L285.7 419.9L286.2 418.9L286.7 420.0L287.2 419.6L287.7 420.2L288.2 420.3L288.7 420.4L289.2 420.2L289.7 419.9L290.2 419.5L291.2 419.5L291.7 420.1L292.2 420.3L292.7 420.4L293.2 419.6L293.7 420.2L294.2 419.6L294.7 419.9L295.2 419.3L295.7 419.7L296.2 418.9L296.7 418.9L297.2 418.8L297.7 420.1L298.2 419.7L298.7 420.3L299.2 420.0L299.7 420.1L300.2 420.3L300.7 420.2L301.2 420.3L301.7 420.1L302.2 419.9L302.7 420.3L303.2 420.2L303.7 420.1L304.2 419.4L304.7 418.7L305.2 419.7L305.7 420.0L306.2 420.0L306.7 420.2L307.2 419.3L307.7 418.8L308.2 419.9L308.7 419.3L309.2 418.9L309.7 418.6L310.2 419.4L310.7 420.2L311.2 419.9L311.7 420.2L312.2 419.8L312.7 420.3L313.2 420.0L313.7 420.3L314.2 420.1L314.7 420.3L315.2 420.4L315.7 419.9L316.2 419.5L316.7 419.4L317.2 419.9L317.7 420.0L318.2 419.9L318.7 420.2L319.2 419.8L319.7 420.3L320.2 420.4L320.7 420.4L321.2 420.2L321.7 420.0L322.2 419.6L322.7 419.6L323.2 419.8L323.7 419.2L324.2 419.5L324.7 419.7L325.2 420.1L325.7 419.7L326.2 420.3L326.7 419.7L327.2 419.5L327.7 418.6L328.2 418.5L328.7 419.2L329.2 419.2L329.7 419.7L330.2 419.0L330.7 419.0L331.2 419.1L331.7 419.4L332.2 419.7L332.7 419.8L333.2 419.8L333.7 419.7L334.2 418.8L334.7 419.5L335.2 419.3L335.7 419.3L336.2 420.1L336.7 419.3L337.2 419.7L337.7 418.9L338.2 418.5L338.7 419.6L339.2 419.6L339.7 419.5L340.2 419.3L340.7 419.9L341.2 420.2L341.7 420.3L342.2 420.3L342.7 419.5L343.2 419.8L343.7 419.6L344.2 418.7L344.7 419.9L345.2 420.0L345.7 419.2L346.2 419.8L346.7 419.4L347.2 419.1L347.7 418.5L348.2 419.9L348.7 420.1L349.2 419.4L349.7 419.9L350.2 420.2L350.7 419.7L351.2 420.2L351.7 419.8L352.2 419.3L352.7 419.1L353.2 419.0L353.7 419.8L354.2 419.7L354.7 419.7L355.2 420.1L355.7 419.6L356.2 418.9L356.7 418.5L357.2 419.2L357.7 419.1L358.2 418.5L358.7 419.1L359.2 419.6L359.7 420.0L360.2 420.4L360.7 419.7L361.2 418.8L361.7 419.3L362.2 419.0L362.7 418.5L363.2 420.0L363.7 420.1L364.2 420.0L364.7 419.8L365.2 420.2L365.7 420.1L366.2 420.2L366.7 420.4L367.2 420.0L367.7 419.5L368.2 418.8L368.7 419.0L369.2 418.8L369.7 419.0L370.2 419.9L370.7 420.1L371.2 420.3L371.7 420.1L372.2 419.6L372.7 419.6L373.2 420.3L373.7 420.4L374.2 420.1L374.7 419.9L375.2 419.7L375.7 420.1L376.2 420.3L376.7 419.9L377.2 420.2L377.7 420.1L378.2 419.7L378.7 420.2L379.2 419.8L379.7 420.1L380.2 419.5L380.7 419.1L381.2 419.0L381.7 418.5L382.7 418.5L383.2 419.7L383.7 419.2L384.2 420.1L384.7 420.3L385.2 419.7L385.7 420.0L386.2 421.1L387.2 421.1L387.7 420.4L388.2 419.9L388.7 419.2L389.2 418.5L389.7 419.2L390.2 419.0L390.7 419.7L391.2 420.2L391.7 420.3L392.2 420.1L392.7 420.0L393.2 420.3L393.7 420.2L394.2 420.2L394.7 420.4L395.2 420.5L395.7 420.4L396.2 419.6L396.7 419.3L397.2 419.9L397.7 419.7L398.2 418.9L398.7 419.4L399.2 420.2L399.7 419.6L400.2 419.4L400.7 419.0L401.2 418.7L401.7 418.5L402.2 418.5L402.7 419.7L403.2 420.3L403.7 420.4L404.2 420.3L404.7 420.3L405.2 420.2L405.7 420.3L406.2 419.9L406.7 420.2L407.2 420.1L407.7 420.4L408.2 420.1L408.7 419.3L409.2 418.9L409.7 419.7L410.2 419.1L410.7 418.8L411.2 419.5L411.7 418.9L412.2 420.0L412.7 420.3L413.2 419.7L413.7 420.0L414.2 420.3L414.7 419.9L415.2 420.1L415.7 420.3L416.7 420.3L417.2 420.0L417.7 420.3L418.2 419.5L418.7 419.6L419.2 420.0L419.7 420.0L420.2 419.3L420.7 420.2L421.2 420.3L421.7 420.3L422.2 420.1L422.7 419.2L423.2 419.5L423.7 419.6L424.2 420.3L424.7 419.9L425.2 420.3L425.7 420.4L426.2 420.1L426.7 419.9L427.2 420.3L427.7 420.3L428.2 420.4L428.7 419.8L429.2 418.9L429.7 419.5L430.2 419.3L430.7 418.6L431.2 418.5L431.7 420.0L432.2 420.3L432.7 419.8L433.2 419.2L433.7 419.9L434.2 420.3L434.7 420.3L435.2 420.1L435.7 419.4L436.2 420.2L436.7 420.2L437.2 420.4L438.2 420.4L438.7 419.9L439.2 420.1L439.7 420.3L440.2 419.6L440.7 420.3L441.2 420.3L441.7 419.5L442.2 419.8L442.7 420.2L443.2 419.8L443.7 420.0L444.2 419.8L444.7 420.1L445.2 420.2L445.7 419.7L446.2 419.4L446.7 419.4L447.2 419.2L447.7 419.9L448.2 420.2L448.7 420.4L449.2 420.4L449.7 420.1L450.2 420.4L450.7 420.5L451.2 420.4L451.7 420.3L452.2 421.1L454.2 421.1L454.7 420.2L455.2 419.3L455.7 419.7L456.2 419.8L456.7 419.5L457.2 420.2L457.7 419.9L458.2 420.3L458.7 420.3L459.2 420.2L459.7 420.2L460.2 420.4L460.7 419.8L461.2 420.2L461.7 419.8L462.2 420.3L462.7 419.7L463.2 419.6L463.7 420.0L464.2 420.1L464.7 419.9L465.2 420.4L465.7 420.2L466.2 420.3L466.7 420.3L467.2 419.5L467.7 420.2L468.2 420.2L468.7 420.4L469.2 419.9L469.7 419.9L470.2 420.0L470.7 419.6L471.2 419.1L471.7 418.5L472.2 418.5L472.7 419.8L473.2 419.9L473.7 419.8L474.2 419.5L474.7 420.0L475.2 420.3L475.7 420.2L476.2 419.5L476.7 418.7L477.2 418.9L477.7 420.1L478.2 419.8L478.7 419.9L479.2 419.4L479.7 418.7L480.2 419.3L480.7 418.9L481.2 418.7L481.7 418.5L482.2 418.5L482.7 419.2L483.2 419.8L483.7 419.1L484.2 418.5L484.7 419.6L485.2 418.8L485.7 419.3L486.2 419.0L486.7 414.3L487.2 408.4L487.7 407.4L488.2 413.3L488.7 415.9L489.2 415.8L489.7 417.0L490.2 418.2L490.7 419.3L491.2 419.9L491.7 419.4L492.2 419.0L492.7 418.5L493.2 418.7L493.7 418.5L494.2 419.5L494.7 420.2L495.2 419.3L495.7 420.1L496.2 420.4L496.7 420.3L497.2 419.7L497.7 418.8L498.2 419.4L498.7 420.0L499.2 420.3L499.7 419.7L500.2 419.9L500.7 420.2L501.2 420.1L501.7 420.2L502.2 419.5L502.7 418.7L503.2 418.5L503.7 418.7L504.2 418.8L504.7 419.7L505.2 419.5L505.7 420.0L506.2 420.3L506.7 419.8L507.2 420.0L507.7 420.0L508.2 420.2L508.7 420.2L509.2 420.4L509.7 420.0L510.2 420.2L510.7 420.4L511.2 420.3L511.7 420.3L512.2 420.3L512.0 421.5 Z" fill="#b51424"/>
<rect x="120.2" y="420.80" width="265.8" height="0.75" fill="#80182a"/>
<rect x="387.5" y="420.80" width="64.5" height="0.75" fill="#80182a"/>
<rect x="454.3" y="420.80" width="57.7" height="0.75" fill="#80182a"/>
<path d="M120.2 447.0L120.2 445.8L120.7 445.2L121.2 445.1L121.7 445.6L122.2 446.6L123.2 446.6L123.7 444.8L124.2 444.6L124.7 444.4L125.2 445.2L125.7 445.8L126.2 445.0L126.7 445.7L127.2 445.5L127.7 444.6L128.2 445.2L128.7 445.6L129.2 445.6L129.7 445.8L130.2 445.4L130.7 445.6L131.2 445.9L131.7 445.6L132.2 445.8L132.7 445.9L133.2 446.0L133.7 445.5L134.2 445.6L134.7 445.4L135.2 445.4L135.7 444.8L136.2 445.7L136.7 445.4L137.2 444.8L137.7 445.4L138.2 445.5L138.7 445.6L139.2 445.7L139.7 444.9L140.2 445.5L140.7 445.1L141.2 445.8L141.7 445.3L142.2 445.8L142.7 445.3L143.2 445.8L143.7 445.9L144.7 445.9L145.2 445.4L145.7 445.4L146.2 445.8L146.7 445.9L147.2 445.8L147.7 445.4L148.2 445.2L148.7 445.3L149.2 444.8L149.7 444.1L150.2 444.0L152.2 444.0L152.7 444.1L153.2 444.6L153.7 445.2L154.2 444.7L154.7 445.2L155.2 444.5L155.7 445.1L156.2 445.8L156.7 445.2L157.2 445.3L157.7 445.8L158.2 445.3L158.7 444.8L159.2 444.3L159.7 444.9L160.2 445.6L160.7 445.8L161.2 445.6L161.7 445.3L162.2 445.2L162.7 445.6L163.2 445.8L163.7 445.0L164.2 444.1L164.7 444.0L165.2 444.6L165.7 445.6L166.2 445.8L166.7 445.6L167.2 444.9L167.7 444.8L168.2 445.6L168.7 444.9L169.2 444.9L169.7 445.2L170.2 444.8L170.7 445.3L171.2 445.3L171.7 445.8L172.2 445.9L172.7 445.3L173.2 445.4L173.7 444.9L174.2 445.4L174.7 445.5L175.2 445.8L175.7 445.1L176.2 445.6L176.7 445.1L177.2 445.6L177.7 445.7L178.2 445.9L178.7 445.5L179.2 444.8L180.2 444.8L180.7 445.5L181.2 444.6L181.7 445.6L182.2 445.8L182.7 445.5L183.2 445.3L183.7 445.6L184.2 445.4L184.7 445.8L185.2 445.9L185.7 445.8L186.2 445.6L186.7 444.9L187.2 445.2L187.7 444.4L188.2 444.3L188.7 444.0L189.2 444.1L189.7 444.9L190.2 444.9L190.7 444.8L191.2 445.5L191.7 445.8L192.2 445.8L192.7 445.6L193.2 445.9L193.7 445.8L194.2 445.9L194.7 445.2L195.2 445.4L195.7 445.3L196.2 445.7L196.7 445.6L197.2 444.8L197.7 444.4L198.2 444.0L198.7 445.3L199.2 444.7L199.7 444.4L200.2 445.1L200.7 445.5L201.2 444.7L201.7 445.4L202.2 445.7L202.7 445.4L203.2 445.4L203.7 445.5L204.2 445.5L204.7 445.1L205.2 444.9L205.7 445.2L206.2 444.4L206.7 445.3L207.2 445.6L207.7 445.6L208.2 445.9L208.7 445.7L209.2 445.6L209.7 445.8L210.2 445.7L210.7 445.6L211.2 445.4L211.7 445.3L212.2 445.6L212.7 445.6L213.2 445.0L213.7 445.7L214.2 445.0L214.7 445.7L215.2 445.8L215.7 445.7L216.2 444.9L216.7 445.5L217.2 445.9L217.7 445.4L218.2 445.4L218.7 445.8L219.2 445.1L219.7 445.1L220.2 444.9L220.7 445.7L221.2 445.4L221.7 445.8L222.2 445.9L222.7 445.6L223.2 444.7L223.7 444.1L224.2 445.3L224.7 444.6L225.2 444.1L225.7 445.5L226.2 445.8L226.7 445.9L227.2 445.1L227.7 445.6L228.2 445.4L228.7 445.2L229.2 445.4L229.7 445.6L230.2 445.4L230.7 444.9L231.2 445.5L231.7 445.9L232.2 445.8L232.7 444.9L233.2 444.4L233.7 445.6L234.2 445.2L234.7 444.5L235.2 444.2L235.7 445.6L236.2 445.9L236.7 445.8L237.2 445.0L237.7 444.3L238.2 445.2L238.7 444.4L239.2 444.2L239.7 445.0L240.2 445.6L240.7 445.8L241.2 445.8L241.7 445.9L242.2 445.8L242.7 445.5L243.2 444.6L243.7 445.6L244.2 445.9L244.7 445.6L245.2 445.8L245.7 445.9L246.2 445.7L246.7 445.3L247.2 444.9L247.7 445.3L248.2 445.8L248.7 445.9L249.2 445.5L249.7 445.1L250.2 445.7L250.7 445.5L251.2 445.9L251.7 445.7L252.2 445.1L252.7 444.3L253.2 444.7L253.7 444.2L254.2 444.9L254.7 444.1L255.2 445.3L255.7 445.8L256.2 445.7L256.7 444.8L257.2 444.8L257.7 444.7L258.2 444.5L258.7 444.5L259.2 444.4L259.7 445.2L260.2 445.5L260.7 444.8L261.2 445.5L261.7 445.4L262.2 445.7L262.7 445.4L263.2 445.4L263.7 444.7L264.2 445.3L264.7 445.7L265.2 445.9L265.7 446.0L266.2 446.0L266.7 445.5L267.2 444.5L267.7 445.5L268.2 444.8L268.7 445.6L269.2 445.1L269.7 445.4L270.2 445.8L270.7 445.8L271.2 445.1L271.7 444.8L272.2 444.9L272.7 444.7L273.2 444.2L273.7 444.9L274.2 444.3L274.7 444.1L275.2 444.4L275.7 444.9L276.2 444.4L276.7 445.6L277.2 445.7L277.7 445.3L278.2 445.2L278.7 445.5L279.2 445.8L279.7 445.5L280.2 445.8L280.7 445.3L281.2 445.1L281.7 445.8L282.2 445.8L282.7 445.2L283.2 445.3L283.7 445.0L284.2 445.0L284.7 445.5L285.2 445.3L285.7 445.2L286.2 444.7L286.7 444.3L287.2 445.1L287.7 445.7L288.2 445.4L288.7 445.8L289.2 445.3L289.7 445.3L290.2 445.7L290.7 445.5L291.2 445.8L291.7 445.7L292.2 445.8L292.7 445.6L293.2 445.0L293.7 444.2L294.2 444.9L294.7 445.5L295.2 445.4L295.7 445.0L296.2 444.3L296.7 444.5L297.2 444.2L297.7 445.0L298.2 445.7L298.7 445.4L299.2 445.6L299.7 445.8L300.7 445.8L301.2 445.9L301.7 445.8L302.2 445.6L302.7 445.7L303.2 445.7L303.7 445.6L304.2 445.6L304.7 445.9L305.2 445.6L305.7 445.9L306.2 445.3L306.7 444.9L307.2 445.7L307.7 445.4L308.2 445.5L308.7 445.3L309.2 445.4L309.7 445.0L310.2 445.3L310.7 444.8L311.2 444.3L311.7 445.5L312.2 445.9L312.7 445.9L313.2 446.0L313.7 445.6L314.2 445.4L314.7 445.8L315.2 445.6L315.7 445.5L316.2 445.0L316.7 444.6L317.2 445.4L317.7 445.6L318.2 445.9L318.7 445.4L319.2 445.5L319.7 445.4L320.2 445.8L320.7 445.7L321.2 445.5L321.7 444.8L322.2 445.6L322.7 445.2L323.2 445.2L323.7 445.8L324.2 445.8L324.7 445.7L325.2 444.9L325.7 444.2L326.2 444.1L326.7 444.6L327.2 444.3L327.7 444.0L328.2 444.0L328.7 445.0L329.2 444.8L329.7 444.2L330.2 444.4L330.7 444.0L331.2 444.2L331.7 444.3L332.2 444.4L332.7 444.7L333.2 444.6L333.7 445.2L334.2 445.4L334.7 445.6L335.2 445.2L335.7 445.3L336.2 445.0L336.7 444.7L337.2 444.8L337.7 444.0L338.2 444.6L338.7 444.8L339.2 444.2L339.7 444.7L340.2 445.6L340.7 445.7L341.2 445.5L341.7 445.8L342.2 445.3L342.7 445.2L343.2 445.8L343.7 445.2L344.2 444.3L344.7 445.5L345.2 444.8L345.7 444.7L346.2 444.3L346.7 444.4L347.2 444.4L347.7 444.1L348.2 444.2L348.7 445.2L349.2 444.8L349.7 445.5L350.2 444.7L350.7 445.6L351.2 445.9L352.2 445.9L352.7 445.8L353.2 445.6L353.7 445.9L354.2 445.7L354.7 445.5L355.2 444.7L355.7 445.1L356.2 444.6L356.7 445.3L357.2 445.7L357.7 445.8L358.2 445.9L358.7 445.2L359.2 444.5L359.7 444.9L360.2 445.7L360.7 444.9L361.2 444.3L361.7 444.1L362.2 444.8L362.7 444.4L363.2 445.6L363.7 445.6L364.2 445.8L364.7 445.7L365.2 445.8L365.7 445.0L366.2 444.6L366.7 444.2L367.2 444.1L367.7 445.5L368.2 445.8L368.7 445.1L369.2 445.0L369.7 444.2L370.2 445.6L370.7 445.9L371.2 445.6L371.7 445.8L372.2 445.1L372.7 444.4L373.2 445.1L373.7 444.3L374.2 445.3L374.7 444.9L375.2 445.5L375.7 445.6L376.2 445.1L376.7 444.3L377.2 445.4L377.7 445.8L378.2 446.0L378.7 445.8L379.2 445.9L379.7 445.8L380.2 445.2L380.7 445.3L381.2 444.4L381.7 444.1L382.2 445.2L382.7 444.7L383.2 445.3L383.7 445.3L384.2 445.7L384.7 445.2L385.2 445.3L385.7 445.2L386.2 444.4L386.7 445.4L387.2 445.7L387.7 445.7L388.2 444.9L388.7 444.0L389.2 445.1L389.7 444.8L390.2 444.4L390.7 445.1L391.2 445.4L391.7 445.0L392.2 445.7L392.7 445.4L393.2 444.9L393.7 444.1L394.2 444.5L394.7 445.3L395.2 444.6L395.7 444.0L396.2 445.2L396.7 445.1L397.2 445.5L397.7 445.8L398.2 445.9L398.7 445.4L399.2 445.8L399.7 445.9L400.2 445.9L400.7 445.7L401.2 445.6L401.7 445.8L402.2 445.2L402.7 445.4L403.2 445.8L403.7 444.9L404.2 445.4L404.7 445.1L405.2 445.4L405.7 444.8L406.2 445.4L406.7 444.9L407.2 444.7L407.7 444.1L408.2 445.3L408.7 445.5L409.2 445.9L409.7 446.0L410.2 446.0L410.7 445.4L411.2 445.6L411.7 445.8L412.7 445.8L413.2 445.3L413.7 445.8L414.2 445.6L414.7 445.5L415.2 445.3L415.7 444.7L416.2 444.4L416.7 445.5L417.2 445.4L417.7 445.4L418.2 445.2L418.7 445.1L419.2 445.2L419.7 444.7L420.2 444.7L420.7 445.2L421.2 444.4L421.7 445.0L422.2 445.7L422.7 445.5L423.2 444.9L423.7 444.7L424.2 445.4L424.7 445.7L425.2 445.6L425.7 445.8L426.2 445.9L426.7 445.8L427.2 445.4L427.7 445.2L428.2 445.0L428.7 445.4L429.2 445.0L429.7 445.7L430.2 445.2L430.7 444.7L431.2 445.5L431.7 445.1L432.2 445.4L432.7 445.1L433.2 445.0L433.7 444.4L434.2 444.9L434.7 444.9L435.2 444.1L435.7 445.5L436.2 445.7L436.7 445.8L437.2 445.2L437.7 444.7L438.2 444.3L438.7 444.7L439.2 445.5L439.7 445.3L440.2 445.6L440.7 445.2L441.2 445.5L441.7 445.3L442.2 445.8L442.7 445.4L443.2 445.6L443.7 445.7L444.2 445.2L444.7 445.7L445.2 445.2L445.7 445.0L446.2 444.3L446.7 444.9L447.2 444.2L447.7 445.0L448.2 445.6L448.7 445.8L449.2 445.7L449.7 445.1L450.2 442.6L450.7 439.8L451.2 441.3L451.7 444.3L452.2 444.0L452.7 443.1L453.2 442.9L453.7 443.8L454.2 445.0L454.7 445.6L455.2 445.6L455.7 445.4L456.2 444.7L456.7 445.2L457.2 446.6L461.2 446.6L461.7 445.9L462.2 445.9L462.7 445.8L463.2 445.5L463.7 445.6L464.2 444.9L464.7 445.4L465.2 444.7L465.7 445.5L466.2 446.6L467.2 446.6L467.7 445.7L468.2 445.8L468.7 445.8L469.2 445.7L469.7 445.1L470.2 445.0L470.7 444.7L471.2 444.1L471.7 445.5L472.7 445.5L473.2 444.9L473.7 445.2L474.2 444.5L474.7 445.2L475.2 444.8L475.7 445.5L476.2 445.0L476.7 445.3L477.2 445.0L477.7 445.4L478.2 445.3L478.7 445.4L479.2 445.3L479.7 445.5L480.2 445.4L480.7 445.8L481.2 445.9L481.7 445.9L482.2 445.8L482.7 445.9L483.2 445.6L483.7 444.8L484.2 445.6L484.7 445.7L485.2 444.9L485.7 444.5L486.2 440.0L486.7 433.1L487.2 433.0L487.7 432.8L488.2 438.9L488.7 440.3L489.2 441.3L489.7 442.9L490.2 444.7L490.7 444.9L491.2 445.4L491.7 444.9L492.2 445.3L492.7 445.0L493.2 444.7L493.7 444.4L494.2 444.2L494.7 444.1L495.2 444.2L495.7 444.3L496.2 444.5L496.7 444.7L497.2 444.6L497.7 445.3L498.2 445.0L498.7 445.6L499.2 445.8L499.7 445.3L500.2 445.4L500.7 445.0L501.2 445.4L501.7 444.6L502.2 445.2L502.7 445.7L503.2 445.9L503.7 445.7L504.2 445.9L504.7 445.9L505.2 445.2L505.7 444.3L506.2 445.6L506.7 445.8L507.2 445.8L507.7 445.2L508.2 445.3L508.7 444.5L509.2 444.3L509.7 444.9L510.2 444.5L510.7 445.0L511.2 445.5L511.7 444.9L512.2 445.2L512.0 447.0 Z" fill="#b51424"/>
<rect x="120.2" y="446.30" width="1.8" height="0.75" fill="#80182a"/>
<rect x="123.2" y="446.30" width="333.8" height="0.75" fill="#80182a"/>
<rect x="461.3" y="446.30" width="4.7" height="0.75" fill="#80182a"/>
<rect x="467.2" y="446.30" width="44.8" height="0.75" fill="#80182a"/>
<rect x="120" y="38.9" width="40.6" height="0.9" fill="#50507a"/>
<rect x="120.1" y="38.1" width="3.6" height="2.6" fill="#1e1e48"/>
<ellipse cx="127.45" cy="39.4" rx="1.4" ry="1.5" fill="#30306e"/>
<ellipse cx="131.45" cy="39.3" rx="1.45" ry="1.6" fill="#2c2c66"/>
<rect x="137.9" y="38" width="0.6" height="3" fill="#505070"/>
<path d="M158.6 39.4 L160.8 37.6 L160.8 41.2 Z" fill="#404060"/>
<g stroke="#6a6a88" stroke-width="0.45" fill="none">
<path d="M142.6 38.5 L142.0 39.35 L142.6 40.2"/>
<path d="M146.1 38.5 L145.5 39.35 L146.1 40.2"/>
<path d="M149.8 38.5 L149.2 39.35 L149.8 40.2"/>
<path d="M153.3 38.5 L152.7 39.35 L153.3 40.2"/>
<path d="M156.6 38.5 L156.0 39.35 L156.6 40.2"/>
</g>
<rect x="324" y="38.7" width="6.2" height="1.75" fill="#26245e"/>
<ellipse cx="328.4" cy="39.5" rx="1.55" ry="1.75" fill="#241c66"/>
<rect x="331.2" y="38.8" width="4.6" height="1.6" fill="#26245e"/>
<rect x="486.7" y="39" width="7.3" height="1.25" fill="#6c6c7c"/>
<rect x="494" y="39.3" width="5" height="0.7" fill="#8a8aa6"/>
<path d="M498.2 38.7 L497.2 39.6 L498.2 40.5" stroke="#3a3a70" stroke-width="0.5" fill="none"/>
<rect x="499" y="38.5" width="8" height="2" fill="#26245e"/>
<rect x="499" y="37.75" width="1" height="3.25" fill="#26245e"/>
<line x1="426" y1="14.4" x2="472.5" y2="14.4" stroke="#8e8e8e" stroke-width="0.9"/>
<g font-family="Liberation Sans, sans-serif" text-rendering="geometricPrecision" fill="#151515" stroke="#151515" stroke-width="0.26">
<text x="441.32" y="12.60" font-size="8.20" textLength="17.97" lengthAdjust="spacingAndGlyphs" stroke-width="0.1" fill="#2a2a2a" stroke="#2a2a2a">20Kb</text>
<text x="129.11" y="48.40" font-size="8.30" textLength="30.97" lengthAdjust="spacingAndGlyphs" stroke-width="0.1" fill="#2a2a2a" stroke="#2a2a2a">SLC7A10</text>
<text x="318.64" y="48.40" font-size="8.40" textLength="24.88" lengthAdjust="spacingAndGlyphs" stroke-width="0.1" fill="#2a2a2a" stroke="#2a2a2a">CEBPA</text>
<text x="485.43" y="48.40" font-size="8.40" textLength="26.71" lengthAdjust="spacingAndGlyphs" stroke-width="0.1" fill="#2a2a2a" stroke="#2a2a2a">CEBPG</text>
<text x="233.25" y="46.70" font-size="8.00" textLength="16.22" lengthAdjust="spacingAndGlyphs" stroke-width="0.1" fill="#2a2a2a" stroke="#2a2a2a">21kb</text>
<text x="239.38" y="68.60" font-size="7.60" textLength="12.73" lengthAdjust="spacingAndGlyphs" stroke-width="0.1" fill="#2a2a2a" stroke="#2a2a2a">8kb</text>
<text x="39.93" y="85.20" font-size="10.20" textLength="72.23" lengthAdjust="spacingAndGlyphs">Overlaid ChIP-seq</text>
<text x="43.88" y="96.10" font-size="10.20" textLength="64.78" lengthAdjust="spacingAndGlyphs">H3K27ac (n=14)</text>
<text x="44.79" y="119.80" font-size="9.80" textLength="64.79" lengthAdjust="spacingAndGlyphs">Blood Neutrophil</text>
<text x="44.13" y="137.80" font-size="9.80" textLength="63.25" lengthAdjust="spacingAndGlyphs">Blood Monocyte</text>
<text x="53.38" y="154.70" font-size="9.80" textLength="47.19" lengthAdjust="spacingAndGlyphs">Lung Tissue</text>
<text x="51.75" y="170.80" font-size="9.80" textLength="47.67" lengthAdjust="spacingAndGlyphs">Liver Tissue</text>
<text x="47.77" y="185.90" font-size="9.80" textLength="59.48" lengthAdjust="spacingAndGlyphs">Adipose Tissue</text>
<text x="52.64" y="201.70" font-size="9.80" textLength="48.58" lengthAdjust="spacingAndGlyphs">G.I Stomach</text>
<text x="40.06" y="218.10" font-size="9.80" textLength="71.06" lengthAdjust="spacingAndGlyphs">G.I Small Intestine</text>
<text x="40.83" y="233.60" font-size="9.80" textLength="74.31" lengthAdjust="spacingAndGlyphs">G.I&#160; Large Intestine</text>
<text x="49.24" y="248.70" font-size="9.80" textLength="48.76" lengthAdjust="spacingAndGlyphs">G.I&#160; Sigmoid</text>
<text x="58.16" y="265.00" font-size="9.80" textLength="34.23" lengthAdjust="spacingAndGlyphs">G.I Fetal</text>
<text x="45.95" y="280.20" font-size="9.80" textLength="60.06" lengthAdjust="spacingAndGlyphs">Skin epithelium</text>
<text x="51.76" y="295.80" font-size="9.80" textLength="46.37" lengthAdjust="spacingAndGlyphs">Trophoblast</text>
<text x="58.87" y="311.30" font-size="9.80" textLength="33.46" lengthAdjust="spacingAndGlyphs">Placenta</text>
<text x="45.77" y="327.10" font-size="9.80" textLength="55.65" lengthAdjust="spacingAndGlyphs">Adrenal Gland</text>
<text x="42.01" y="362.50" font-size="9.80" textLength="71.09" lengthAdjust="spacingAndGlyphs">Epithelial Foreskin</text>
<text x="55.93" y="380.30" font-size="9.80" textLength="35.64" lengthAdjust="spacingAndGlyphs">Epithelial</text>
<text x="46.22" y="391.90" font-size="9.80" textLength="55.99" lengthAdjust="spacingAndGlyphs">Skin-fibroblast</text>
<text x="49.85" y="415.40" font-size="9.80" textLength="56.84" lengthAdjust="spacingAndGlyphs">Vascular Aorta</text>
<text x="50.58" y="435.70" font-size="9.80" textLength="50.91" lengthAdjust="spacingAndGlyphs">Brain&#160; Cortex</text>
<text x="112.99" y="109.80" font-size="8.00" textLength="8.34" lengthAdjust="spacingAndGlyphs" stroke-width="0.1" fill="#2a2a2a" stroke="#2a2a2a">20</text>
<text x="113.61" y="331.70" font-size="7.40" textLength="5.45" lengthAdjust="spacingAndGlyphs" stroke-width="0.1" fill="#2a2a2a" stroke="#2a2a2a">0</text>
<text x="112.39" y="350.70" font-size="7.40" textLength="8.69" lengthAdjust="spacingAndGlyphs" stroke-width="0.1" fill="#2a2a2a" stroke="#2a2a2a">20</text>
<text x="114.01" y="446.80" font-size="7.40" textLength="5.45" lengthAdjust="spacingAndGlyphs" stroke-width="0.1" fill="#2a2a2a" stroke="#2a2a2a">0</text>
<text x="189.14" y="77.80" font-size="6.90" textLength="11.45" lengthAdjust="spacingAndGlyphs" font-style="italic" stroke-width="0.1"><tspan font-size="5.6" dy="-0.3">+</tspan><tspan dy="0.3">55</tspan></text>
<text x="205.21" y="77.80" font-size="6.90" textLength="12.03" lengthAdjust="spacingAndGlyphs" font-style="italic" stroke-width="0.1"><tspan font-size="5.6" dy="-0.3">+</tspan><tspan dy="0.3">50</tspan></text>
<text x="231.50" y="77.80" font-size="6.90" textLength="11.56" lengthAdjust="spacingAndGlyphs" font-style="italic" stroke-width="0.1"><tspan font-size="5.6" dy="-0.3">+</tspan><tspan dy="0.3">42</tspan></text>
<text x="248.21" y="77.80" font-size="6.90" textLength="11.77" lengthAdjust="spacingAndGlyphs" font-style="italic" stroke-width="0.1"><tspan font-size="5.6" dy="-0.3">+</tspan><tspan dy="0.3">34</tspan></text>
<text x="261.83" y="77.80" font-size="6.90" textLength="11.92" lengthAdjust="spacingAndGlyphs" font-style="italic" stroke-width="0.1"><tspan font-size="5.6" dy="-0.3">+</tspan><tspan dy="0.3">29</tspan></text>
<text x="275.69" y="77.80" font-size="6.90" textLength="12.97" lengthAdjust="spacingAndGlyphs" font-style="italic" stroke-width="0.1"><tspan font-size="5.6" dy="-0.3">+</tspan><tspan dy="0.3">21</tspan></text>
<text x="288.85" y="77.80" font-size="6.90" textLength="11.31" lengthAdjust="spacingAndGlyphs" font-style="italic" stroke-width="0.1"><tspan font-size="5.6" dy="-0.3">+</tspan><tspan dy="0.3">15</tspan></text>
<text x="301.86" y="77.80" font-size="6.90" textLength="8.02" lengthAdjust="spacingAndGlyphs" font-style="italic" stroke-width="0.1"><tspan font-size="5.6" dy="-0.3">+</tspan><tspan dy="0.3">9</tspan></text>
<text x="345.25" y="77.80" font-size="6.90" textLength="6.18" lengthAdjust="spacingAndGlyphs" font-style="italic" stroke-width="0.1">-9</text>
<text x="357.58" y="77.80" font-size="6.90" textLength="9.23" lengthAdjust="spacingAndGlyphs" font-style="italic" stroke-width="0.1">-14</text>
<text x="389.97" y="77.80" font-size="6.90" textLength="10.13" lengthAdjust="spacingAndGlyphs" font-style="italic" stroke-width="0.1">-25</text>
<text x="429.59" y="77.80" font-size="6.90" textLength="8.83" lengthAdjust="spacingAndGlyphs" font-style="italic" stroke-width="0.1">-47</text>
<text x="447.67" y="77.80" font-size="6.90" textLength="10.90" lengthAdjust="spacingAndGlyphs" font-style="italic" stroke-width="0.1">-56</text>
<text x="468.57" y="77.80" font-size="6.90" textLength="9.22" lengthAdjust="spacingAndGlyphs" font-style="italic" stroke-width="0.1">-64</text>
<text transform="translate(15.40 244.27) rotate(-90)" x="0" y="0" font-size="9.80" textLength="42.49" lengthAdjust="spacingAndGlyphs">H3K27ac</text>
<text transform="translate(26.00 281.16) rotate(-90)" x="0" y="0" font-size="9.80" textLength="116.82" lengthAdjust="spacingAndGlyphs"><tspan font-style="italic">CEBPA</tspan> expressing&#160; tissue</text>
<text transform="translate(16.80 439.06) rotate(-90)" x="0" y="0" font-size="9.80" textLength="42.51" lengthAdjust="spacingAndGlyphs">H3K27ac</text>
<text transform="translate(28.00 477.67) rotate(-90)" x="0" y="0" font-size="9.80" textLength="140.85" lengthAdjust="spacingAndGlyphs"><tspan font-style="italic">NON-CEBPA</tspan> expressing&#160; tissue</text>
</g></svg>
</div></body></html>
